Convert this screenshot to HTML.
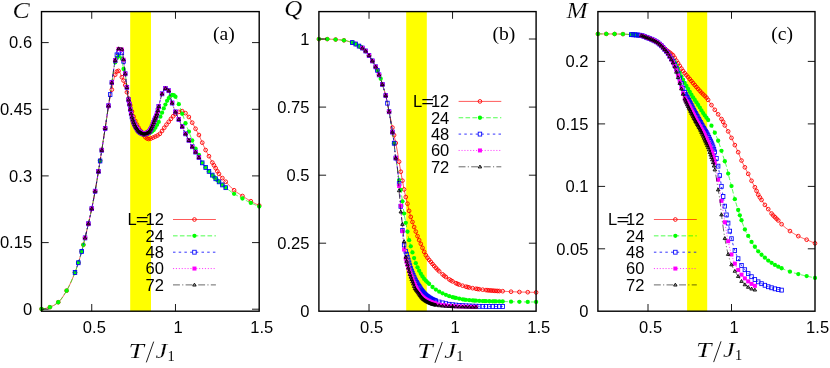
<!DOCTYPE html>
<html><head><meta charset="utf-8"><title>chart</title>
<style>
html,body{margin:0;padding:0;background:#fff;}
body{width:830px;height:368px;overflow:hidden;}
svg{display:block;}
text.s{font-family:"Liberation Sans",sans-serif;font-size:16.0px;fill:#000;}
text.i{font-family:"Liberation Serif",serif;font-style:italic;fill:#000;stroke:#fff;stroke-width:0.15px;}
text.r{font-family:"Liberation Serif",serif;fill:#000;}
</style></head><body>
<svg width="830" height="368" viewBox="0 0 830 368">
<rect x="0" y="0" width="830" height="368" fill="#ffffff"/>
<g id="panel-a">
<rect x="130.20" y="11.60" width="20.80" height="299.60" fill="#ffff00"/>
<path d="M41.50 309.00 L42.00 308.98 L42.50 308.94 L43.00 308.88 L43.50 308.82 L44.00 308.74 L44.50 308.64 L45.00 308.54 L45.50 308.43 L46.00 308.31 L46.50 308.18 L47.00 308.05 L47.50 307.90 L48.00 307.76 L48.50 307.61 L49.00 307.45 L49.50 307.29 L50.00 307.14 L50.50 306.96 L51.00 306.77 L51.50 306.56 L52.00 306.33 L52.50 306.09 L53.00 305.83 L53.50 305.56 L54.00 305.27 L54.50 304.96 L55.00 304.64 L55.50 304.31 L56.00 303.96 L56.50 303.60 L57.00 303.22 L57.50 302.83 L58.00 302.43 L58.50 302.02 L59.00 301.56 L59.50 301.06 L60.00 300.52 L60.50 299.94 L61.00 299.31 L61.50 298.66 L62.00 297.97 L62.50 297.25 L63.00 296.51 L63.50 295.74 L64.00 294.95 L64.50 294.15 L65.00 293.33 L65.50 292.51 L66.00 291.67 L66.50 290.83 L67.00 289.97 L67.50 289.07 L68.00 288.15 L68.50 287.19 L69.00 286.20 L69.50 285.19 L70.00 284.15 L70.50 283.09 L71.00 282.00 L71.50 280.88 L72.00 279.74 L72.50 278.59 L73.00 277.41 L73.50 276.21 L74.00 274.99 L74.50 273.75 L75.00 272.49 L75.50 271.17 L76.00 269.78 L76.50 268.34 L77.00 266.86 L77.50 265.34 L78.00 263.81 L78.50 262.25 L79.00 260.67 L79.50 259.05 L80.00 257.39 L80.50 255.69 L81.00 253.94 L81.50 252.13 L82.00 250.26 L82.50 248.30 L83.00 246.30 L83.50 244.25 L84.00 242.19 L84.50 240.12 L85.00 238.07 L85.50 236.00 L86.00 233.91 L86.50 231.81 L87.00 229.70 L87.50 227.56 L88.00 225.40 L88.50 223.23 L89.00 221.06 L89.50 218.88 L90.00 216.67 L90.50 214.43 L91.00 212.13 L91.50 209.78 L92.00 207.36 L92.50 204.89 L93.00 202.37 L93.50 199.79 L94.00 197.15 L94.50 194.46 L95.00 191.70 L95.50 188.88 L96.00 186.00 L96.50 183.06 L97.00 180.08 L97.50 177.04 L98.00 173.97 L98.50 170.86 L99.00 167.72 L99.50 164.54 L100.00 161.35 L100.50 158.14 L101.00 154.92 L101.50 151.68 L102.00 148.45 L102.50 145.21 L103.00 141.99 L103.50 138.77 L104.00 135.57 L104.50 132.38 L105.00 129.23 L105.50 126.05 L106.00 122.77 L106.50 119.41 L107.00 116.04 L107.50 112.67 L108.00 109.37 L108.50 106.15 L109.00 103.08 L109.50 100.18 L110.00 97.50 L110.50 95.11 L111.00 93.05 L111.50 91.06 L112.00 88.90 L112.50 86.30 L113.00 83.48 L113.50 80.88 L114.00 78.79 L114.50 76.89 L115.00 75.25 L115.50 74.00 L116.00 72.98 L116.50 72.03 L117.00 71.25 L117.50 70.74 L118.00 70.61 L118.50 70.83 L119.00 71.29 L119.50 71.88 L120.00 72.69 L120.50 73.93 L121.00 75.28 L121.50 76.43 L122.00 77.43 L122.50 78.40 L123.00 79.40 L123.50 80.50 L124.00 81.70 L124.50 82.99 L125.00 84.40 L125.50 86.00 L126.00 88.00 L126.50 90.34 L127.00 92.66 L127.50 94.66 L128.00 96.46 L128.50 98.25 L129.00 100.17 L129.50 102.21 L130.00 104.26 L130.50 106.25 L131.00 108.10 L131.50 109.91 L132.00 111.67 L132.50 113.34 L133.00 114.91 L133.50 116.36 L134.00 117.73 L134.50 119.03 L135.00 120.27 L135.50 121.45 L136.00 122.57 L136.50 123.63 L137.00 124.65 L137.50 125.63 L138.00 126.57 L138.50 127.47 L139.00 128.34 L139.50 129.17 L140.00 129.98 L140.50 130.75 L141.00 131.50 L141.50 132.21 L142.00 132.91 L142.50 133.58 L143.00 134.24 L143.50 134.89 L144.00 135.57 L144.50 136.23 L145.00 136.85 L145.50 137.39 L146.00 137.80 L146.50 138.14 L147.00 138.47 L147.50 138.74 L148.00 138.93 L148.50 139.00 L149.00 138.97 L149.50 138.89 L150.00 138.77 L150.50 138.64 L151.00 138.50 L151.50 138.34 L152.00 138.13 L152.50 137.89 L153.00 137.65 L153.50 137.40 L154.00 137.16 L154.50 136.93 L155.00 136.71 L155.50 136.50 L156.00 136.27 L156.50 136.04 L157.00 135.79 L157.50 135.53 L158.00 135.24 L158.50 134.92 L159.00 134.57 L159.50 134.16 L160.00 133.64 L160.50 133.04 L161.00 132.38 L161.50 131.70 L162.00 131.03 L162.50 130.36 L163.00 129.65 L163.50 128.92 L164.00 128.18 L164.50 127.43 L165.00 126.70 L165.50 126.00 L166.00 125.33 L166.50 124.67 L167.00 124.03 L167.50 123.39 L168.00 122.75 L168.50 122.11 L169.00 121.47 L169.50 120.81 L170.00 120.14 L170.50 119.46 L171.00 118.80 L171.50 118.16 L172.00 117.55 L172.50 116.97 L173.00 116.42 L173.50 115.87 L174.00 115.35 L174.50 114.85 L175.00 114.38 L175.50 113.96 L176.00 113.57 L176.50 113.19 L177.00 112.83 L177.50 112.51 L178.00 112.22 L178.50 111.98 L179.00 111.79 L179.50 111.61 L180.00 111.43 L180.50 111.29 L181.00 111.18 L181.50 111.11 L182.00 111.11 L182.50 111.19 L183.00 111.36 L183.50 111.57 L184.00 111.80 L184.50 112.13 L185.00 112.59 L185.50 113.15 L186.00 113.73 L186.50 114.30 L187.00 114.84 L187.50 115.38 L188.00 115.94 L188.50 116.53 L189.00 117.16 L189.50 117.84 L190.00 118.62 L190.50 119.48 L191.00 120.39 L191.50 121.32 L192.00 122.26 L192.50 123.16 L193.00 124.06 L193.50 124.96 L194.00 125.87 L194.50 126.79 L195.00 127.71 L195.50 128.63 L196.00 129.55 L196.50 130.47 L197.00 131.38 L197.50 132.29 L198.00 133.23 L198.50 134.18 L199.00 135.18 L199.50 136.21 L200.00 137.32 L200.50 138.49 L201.00 139.70 L201.50 140.90 L202.00 142.07 L202.50 143.21 L203.00 144.35 L203.50 145.48 L204.00 146.60 L204.50 147.70 L205.00 148.77 L205.50 149.80 L206.00 150.79 L206.50 151.74 L207.00 152.66 L207.50 153.56 L208.00 154.46 L208.50 155.36 L209.00 156.29 L209.50 157.23 L210.00 158.19 L210.50 159.15 L211.00 160.10 L211.50 161.04 L212.00 161.96 L212.50 162.85 L213.00 163.71 L213.50 164.54 L214.00 165.37 L214.50 166.19 L215.00 167.02 L215.50 167.87 L216.00 168.76 L216.50 169.68 L217.00 170.61 L217.50 171.52 L218.00 172.39 L218.50 173.20 L219.00 173.93 L219.50 174.62 L220.00 175.27 L220.50 175.89 L221.00 176.50 L221.50 177.09 L222.00 177.67 L222.50 178.25 L223.00 178.81 L223.50 179.36 L224.00 179.90 L224.50 180.43 L225.00 180.95 L225.50 181.48 L226.00 182.01 L226.50 182.54 L227.00 183.08 L227.50 183.62 L228.00 184.17 L228.50 184.71 L229.00 185.26 L229.50 185.80 L230.00 186.33 L230.50 186.86 L231.00 187.38 L231.50 187.88 L232.00 188.37 L232.50 188.85 L233.00 189.31 L233.50 189.75 L234.00 190.16 L234.50 190.57 L235.00 190.96 L235.50 191.34 L236.00 191.71 L236.50 192.07 L237.00 192.42 L237.50 192.76 L238.00 193.10 L238.50 193.43 L239.00 193.76 L239.50 194.09 L240.00 194.41 L240.50 194.73 L241.00 195.05 L241.50 195.38 L242.00 195.70 L242.50 196.03 L243.00 196.36 L243.50 196.69 L244.00 197.02 L244.50 197.34 L245.00 197.67 L245.50 197.99 L246.00 198.31 L246.50 198.63 L247.00 198.95 L247.50 199.26 L248.00 199.57 L248.50 199.87 L249.00 200.17 L249.50 200.47 L250.00 200.76 L250.50 201.04 L251.00 201.32 L251.50 201.60 L252.00 201.88 L252.50 202.15 L253.00 202.42 L253.50 202.69 L254.00 202.95 L254.50 203.21 L255.00 203.47 L255.50 203.72 L256.00 203.98 L256.50 204.22 L257.00 204.47 L257.50 204.71 L258.00 204.95 L258.50 205.18 L259.00 205.41 L259.20 205.50" fill="none" stroke="#ff0000" stroke-width="0.65"/>
<circle cx="41.50" cy="309.00" r="1.85" fill="none" stroke="#ff0000" stroke-width="0.9"/><circle cx="49.87" cy="307.18" r="1.85" fill="none" stroke="#ff0000" stroke-width="0.9"/><circle cx="58.25" cy="302.23" r="1.85" fill="none" stroke="#ff0000" stroke-width="0.9"/><circle cx="66.62" cy="290.63" r="1.85" fill="none" stroke="#ff0000" stroke-width="0.9"/><circle cx="74.99" cy="272.51" r="1.85" fill="none" stroke="#ff0000" stroke-width="0.9"/><circle cx="78.34" cy="262.75" r="1.85" fill="none" stroke="#ff0000" stroke-width="0.9"/><circle cx="81.69" cy="251.43" r="1.85" fill="none" stroke="#ff0000" stroke-width="0.9"/><circle cx="83.37" cy="244.80" r="1.85" fill="none" stroke="#ff0000" stroke-width="0.9"/><circle cx="85.04" cy="237.90" r="1.85" fill="none" stroke="#ff0000" stroke-width="0.9"/><circle cx="88.39" cy="223.71" r="1.85" fill="none" stroke="#ff0000" stroke-width="0.9"/><circle cx="91.74" cy="208.63" r="1.85" fill="none" stroke="#ff0000" stroke-width="0.9"/><circle cx="95.09" cy="191.21" r="1.85" fill="none" stroke="#ff0000" stroke-width="0.9"/><circle cx="98.44" cy="171.25" r="1.85" fill="none" stroke="#ff0000" stroke-width="0.9"/><circle cx="100.11" cy="160.64" r="1.85" fill="none" stroke="#ff0000" stroke-width="0.9"/><circle cx="101.79" cy="149.83" r="1.85" fill="none" stroke="#ff0000" stroke-width="0.9"/><circle cx="105.14" cy="128.38" r="1.85" fill="none" stroke="#ff0000" stroke-width="0.9"/><circle cx="108.48" cy="106.25" r="1.85" fill="none" stroke="#ff0000" stroke-width="0.9"/><circle cx="111.83" cy="89.65" r="1.85" fill="none" stroke="#ff0000" stroke-width="0.9"/><circle cx="115.18" cy="74.74" r="1.85" fill="none" stroke="#ff0000" stroke-width="0.9"/><circle cx="116.86" cy="71.45" r="1.85" fill="none" stroke="#ff0000" stroke-width="0.9"/><circle cx="118.53" cy="70.86" r="1.85" fill="none" stroke="#ff0000" stroke-width="0.9"/><circle cx="121.88" cy="77.20" r="1.85" fill="none" stroke="#ff0000" stroke-width="0.9"/><circle cx="123.56" cy="80.63" r="1.85" fill="none" stroke="#ff0000" stroke-width="0.9"/><circle cx="125.23" cy="85.11" r="1.85" fill="none" stroke="#ff0000" stroke-width="0.9"/><circle cx="126.91" cy="92.24" r="1.85" fill="none" stroke="#ff0000" stroke-width="0.9"/><circle cx="128.58" cy="98.55" r="1.85" fill="none" stroke="#ff0000" stroke-width="0.9"/><circle cx="130.25" cy="105.29" r="1.85" fill="none" stroke="#ff0000" stroke-width="0.9"/><circle cx="131.93" cy="111.43" r="1.85" fill="none" stroke="#ff0000" stroke-width="0.9"/><circle cx="133.60" cy="116.65" r="1.85" fill="none" stroke="#ff0000" stroke-width="0.9"/><circle cx="135.28" cy="120.93" r="1.85" fill="none" stroke="#ff0000" stroke-width="0.9"/><circle cx="136.95" cy="124.56" r="1.85" fill="none" stroke="#ff0000" stroke-width="0.9"/><circle cx="138.63" cy="127.70" r="1.85" fill="none" stroke="#ff0000" stroke-width="0.9"/><circle cx="140.30" cy="130.45" r="1.85" fill="none" stroke="#ff0000" stroke-width="0.9"/><circle cx="141.98" cy="132.88" r="1.85" fill="none" stroke="#ff0000" stroke-width="0.9"/><circle cx="143.65" cy="135.10" r="1.85" fill="none" stroke="#ff0000" stroke-width="0.9"/><circle cx="145.33" cy="137.21" r="1.85" fill="none" stroke="#ff0000" stroke-width="0.9"/><circle cx="147.00" cy="138.47" r="1.85" fill="none" stroke="#ff0000" stroke-width="0.9"/><circle cx="148.68" cy="139.00" r="1.85" fill="none" stroke="#ff0000" stroke-width="0.9"/><circle cx="150.90" cy="138.53" r="1.85" fill="none" stroke="#ff0000" stroke-width="0.9"/><circle cx="153.13" cy="137.58" r="1.85" fill="none" stroke="#ff0000" stroke-width="0.9"/><circle cx="155.36" cy="136.56" r="1.85" fill="none" stroke="#ff0000" stroke-width="0.9"/><circle cx="157.58" cy="135.48" r="1.85" fill="none" stroke="#ff0000" stroke-width="0.9"/><circle cx="159.81" cy="133.85" r="1.85" fill="none" stroke="#ff0000" stroke-width="0.9"/><circle cx="162.04" cy="130.98" r="1.85" fill="none" stroke="#ff0000" stroke-width="0.9"/><circle cx="164.27" cy="127.78" r="1.85" fill="none" stroke="#ff0000" stroke-width="0.9"/><circle cx="166.49" cy="124.68" r="1.85" fill="none" stroke="#ff0000" stroke-width="0.9"/><circle cx="168.72" cy="121.83" r="1.85" fill="none" stroke="#ff0000" stroke-width="0.9"/><circle cx="170.95" cy="118.87" r="1.85" fill="none" stroke="#ff0000" stroke-width="0.9"/><circle cx="173.18" cy="116.22" r="1.85" fill="none" stroke="#ff0000" stroke-width="0.9"/><circle cx="175.40" cy="114.04" r="1.85" fill="none" stroke="#ff0000" stroke-width="0.9"/><circle cx="178.82" cy="111.86" r="1.85" fill="none" stroke="#ff0000" stroke-width="0.9"/><circle cx="182.17" cy="111.13" r="1.85" fill="none" stroke="#ff0000" stroke-width="0.9"/><circle cx="185.52" cy="113.17" r="1.85" fill="none" stroke="#ff0000" stroke-width="0.9"/><circle cx="188.87" cy="116.98" r="1.85" fill="none" stroke="#ff0000" stroke-width="0.9"/><circle cx="192.22" cy="122.65" r="1.85" fill="none" stroke="#ff0000" stroke-width="0.9"/><circle cx="195.56" cy="128.75" r="1.85" fill="none" stroke="#ff0000" stroke-width="0.9"/><circle cx="198.91" cy="135.00" r="1.85" fill="none" stroke="#ff0000" stroke-width="0.9"/><circle cx="202.26" cy="142.67" r="1.85" fill="none" stroke="#ff0000" stroke-width="0.9"/><circle cx="205.61" cy="150.02" r="1.85" fill="none" stroke="#ff0000" stroke-width="0.9"/><circle cx="208.96" cy="156.21" r="1.85" fill="none" stroke="#ff0000" stroke-width="0.9"/><circle cx="212.31" cy="162.52" r="1.85" fill="none" stroke="#ff0000" stroke-width="0.9"/><circle cx="213.99" cy="165.34" r="1.85" fill="none" stroke="#ff0000" stroke-width="0.9"/><circle cx="215.66" cy="168.15" r="1.85" fill="none" stroke="#ff0000" stroke-width="0.9"/><circle cx="217.33" cy="171.22" r="1.85" fill="none" stroke="#ff0000" stroke-width="0.9"/><circle cx="219.01" cy="173.95" r="1.85" fill="none" stroke="#ff0000" stroke-width="0.9"/><circle cx="222.36" cy="178.08" r="1.85" fill="none" stroke="#ff0000" stroke-width="0.9"/><circle cx="225.71" cy="181.70" r="1.85" fill="none" stroke="#ff0000" stroke-width="0.9"/><circle cx="234.08" cy="190.23" r="1.85" fill="none" stroke="#ff0000" stroke-width="0.9"/><circle cx="242.45" cy="196.00" r="1.85" fill="none" stroke="#ff0000" stroke-width="0.9"/><circle cx="250.83" cy="201.23" r="1.85" fill="none" stroke="#ff0000" stroke-width="0.9"/><circle cx="259.20" cy="205.50" r="1.85" fill="none" stroke="#ff0000" stroke-width="0.9"/>
<path d="M41.50 309.00 L42.00 308.98 L42.50 308.94 L43.00 308.88 L43.50 308.82 L44.00 308.74 L44.50 308.64 L45.00 308.54 L45.50 308.43 L46.00 308.31 L46.50 308.18 L47.00 308.05 L47.50 307.90 L48.00 307.76 L48.50 307.61 L49.00 307.45 L49.50 307.29 L50.00 307.14 L50.50 306.96 L51.00 306.77 L51.50 306.56 L52.00 306.33 L52.50 306.09 L53.00 305.83 L53.50 305.56 L54.00 305.27 L54.50 304.96 L55.00 304.64 L55.50 304.31 L56.00 303.96 L56.50 303.60 L57.00 303.22 L57.50 302.83 L58.00 302.43 L58.50 302.02 L59.00 301.56 L59.50 301.06 L60.00 300.52 L60.50 299.94 L61.00 299.31 L61.50 298.66 L62.00 297.97 L62.50 297.25 L63.00 296.51 L63.50 295.74 L64.00 294.95 L64.50 294.15 L65.00 293.33 L65.50 292.51 L66.00 291.67 L66.50 290.83 L67.00 289.97 L67.50 289.07 L68.00 288.15 L68.50 287.19 L69.00 286.20 L69.50 285.19 L70.00 284.15 L70.50 283.09 L71.00 282.00 L71.50 280.88 L72.00 279.74 L72.50 278.59 L73.00 277.41 L73.50 276.21 L74.00 274.99 L74.50 273.75 L75.00 272.49 L75.50 271.17 L76.00 269.78 L76.50 268.34 L77.00 266.86 L77.50 265.34 L78.00 263.81 L78.50 262.25 L79.00 260.67 L79.50 259.05 L80.00 257.39 L80.50 255.69 L81.00 253.94 L81.50 252.13 L82.00 250.26 L82.50 248.30 L83.00 246.30 L83.50 244.25 L84.00 242.19 L84.50 240.12 L85.00 238.07 L85.50 236.00 L86.00 233.91 L86.50 231.81 L87.00 229.70 L87.50 227.56 L88.00 225.40 L88.50 223.23 L89.00 221.06 L89.50 218.88 L90.00 216.67 L90.50 214.43 L91.00 212.13 L91.50 209.78 L92.00 207.36 L92.50 204.89 L93.00 202.37 L93.50 199.79 L94.00 197.15 L94.50 194.46 L95.00 191.70 L95.50 188.89 L96.00 186.02 L96.50 183.11 L97.00 180.16 L97.50 177.17 L98.00 174.13 L98.50 171.07 L99.00 167.97 L99.50 164.84 L100.00 161.68 L100.50 158.50 L101.00 155.30 L101.50 152.08 L102.00 148.84 L102.50 145.59 L103.00 142.33 L103.50 139.07 L104.00 135.80 L104.50 132.52 L105.00 129.25 L105.50 125.96 L106.00 122.61 L106.50 119.23 L107.00 115.81 L107.50 112.40 L108.00 109.00 L108.50 105.63 L109.00 102.32 L109.50 99.03 L110.00 95.67 L110.50 92.17 L111.00 88.50 L111.50 84.88 L112.00 81.44 L112.50 77.92 L113.00 74.40 L113.50 71.02 L114.00 67.92 L114.50 65.25 L115.00 63.12 L115.50 61.34 L116.00 59.83 L116.50 58.68 L117.00 57.83 L117.50 57.10 L118.00 56.54 L118.50 56.20 L119.00 56.01 L119.50 55.87 L120.00 55.80 L120.50 55.99 L121.00 56.69 L121.50 57.75 L122.00 59.25 L122.50 62.54 L123.00 66.31 L123.50 68.79 L124.00 70.30 L124.50 71.56 L125.00 73.07 L125.50 75.42 L126.00 79.41 L126.50 84.01 L127.00 88.17 L127.50 92.37 L128.00 96.28 L128.50 99.46 L129.00 101.97 L129.50 104.50 L130.00 107.57 L130.50 110.71 L131.00 113.21 L131.50 115.35 L132.00 117.27 L132.50 118.99 L133.00 120.53 L133.50 121.92 L134.00 123.20 L134.50 124.38 L135.00 125.47 L135.50 126.46 L136.00 127.34 L136.50 128.14 L137.00 128.91 L137.50 129.63 L138.00 130.30 L138.50 130.90 L139.00 131.41 L139.50 131.83 L140.00 132.17 L140.50 132.50 L141.00 132.82 L141.50 133.11 L142.00 133.37 L142.50 133.59 L143.00 133.76 L143.50 133.86 L144.00 133.90 L144.50 133.90 L145.00 133.90 L145.50 133.90 L146.00 133.90 L146.50 133.86 L147.00 133.77 L147.50 133.64 L148.00 133.50 L148.50 133.35 L149.00 133.18 L149.50 132.98 L150.00 132.75 L150.50 132.50 L151.00 132.22 L151.50 131.90 L152.00 131.54 L152.50 131.13 L153.00 130.69 L153.50 130.20 L154.00 129.62 L154.50 128.95 L155.00 128.22 L155.50 127.43 L156.00 126.61 L156.50 125.77 L157.00 124.93 L157.50 124.11 L158.00 123.28 L158.50 122.36 L159.00 121.25 L159.50 119.72 L160.00 118.02 L160.50 116.35 L161.00 114.76 L161.50 113.66 L162.00 112.78 L162.50 111.80 L163.00 110.43 L163.50 109.00 L164.00 107.76 L164.50 106.60 L165.00 105.47 L165.50 104.35 L166.00 103.21 L166.50 102.09 L167.00 101.04 L167.50 100.10 L168.00 99.25 L168.50 98.45 L169.00 97.71 L169.50 97.06 L170.00 96.50 L170.50 95.98 L171.00 95.47 L171.50 95.06 L172.00 94.82 L172.50 94.82 L173.00 94.91 L173.50 95.06 L174.00 95.24 L174.50 95.59 L175.00 96.12 L175.50 96.78 L176.00 97.50 L176.50 98.39 L177.00 99.50 L177.50 100.74 L178.00 102.00 L178.50 103.29 L179.00 104.65 L179.50 106.06 L180.00 107.50 L180.50 109.00 L181.00 110.54 L181.50 112.02 L182.00 113.36 L182.50 114.60 L183.00 115.82 L183.50 117.08 L184.00 118.48 L184.50 120.06 L185.00 121.68 L185.50 123.20 L186.00 124.57 L186.50 125.87 L187.00 127.12 L187.50 128.34 L188.00 129.55 L188.50 130.79 L189.00 132.06 L189.50 133.37 L190.00 134.69 L190.50 136.02 L191.00 137.35 L191.50 138.66 L192.00 139.95 L192.50 141.21 L193.00 142.49 L193.50 143.75 L194.00 145.00 L194.50 146.21 L195.00 147.38 L195.50 148.49 L196.00 149.52 L196.50 150.46 L197.00 151.36 L197.50 152.23 L198.00 153.10 L198.50 154.00 L199.00 154.97 L199.50 156.02 L200.00 157.26 L200.50 158.62 L201.00 160.01 L201.50 161.31 L202.00 162.41 L202.50 163.29 L203.00 164.07 L203.50 164.78 L204.00 165.43 L204.50 166.06 L205.00 166.68 L205.50 167.30 L206.00 167.92 L206.50 168.53 L207.00 169.12 L207.50 169.70 L208.00 170.27 L208.50 170.84 L209.00 171.41 L209.50 171.98 L210.00 172.55 L210.50 173.11 L211.00 173.66 L211.50 174.22 L212.00 174.77 L212.50 175.32 L213.00 175.88 L213.50 176.44 L214.00 177.00 L214.50 177.55 L215.00 178.08 L215.50 178.60 L216.00 179.09 L216.50 179.57 L217.00 180.02 L217.50 180.47 L218.00 180.91 L218.50 181.36 L219.00 181.81 L219.50 182.27 L220.00 182.74 L220.50 183.21 L221.00 183.69 L221.50 184.15 L222.00 184.61 L222.50 185.05 L223.00 185.48 L223.50 185.89 L224.00 186.30 L224.50 186.70 L225.00 187.10 L225.50 187.49 L226.00 187.88 L226.50 188.27 L227.00 188.65 L227.50 189.04 L228.00 189.43 L228.50 189.81 L229.00 190.19 L229.50 190.57 L230.00 190.95 L230.50 191.32 L231.00 191.68 L231.50 192.04 L232.00 192.39 L232.50 192.74 L233.00 193.08 L233.50 193.41 L234.00 193.73 L234.50 194.04 L235.00 194.35 L235.50 194.65 L236.00 194.94 L236.50 195.23 L237.00 195.51 L237.50 195.79 L238.00 196.07 L238.50 196.35 L239.00 196.62 L239.50 196.89 L240.00 197.16 L240.50 197.43 L241.00 197.70 L241.50 197.97 L242.00 198.24 L242.50 198.51 L243.00 198.78 L243.50 199.06 L244.00 199.33 L244.50 199.61 L245.00 199.88 L245.50 200.16 L246.00 200.43 L246.50 200.70 L247.00 200.97 L247.50 201.24 L248.00 201.50 L248.50 201.76 L249.00 202.01 L249.50 202.26 L250.00 202.51 L250.50 202.75 L251.00 202.99 L251.50 203.22 L252.00 203.46 L252.50 203.69 L253.00 203.91 L253.50 204.14 L254.00 204.36 L254.50 204.58 L255.00 204.80 L255.50 205.01 L256.00 205.22 L256.50 205.43 L257.00 205.63 L257.50 205.84 L258.00 206.04 L258.50 206.23 L259.00 206.42 L259.20 206.50" fill="none" stroke="#00ff00" stroke-width="0.70" stroke-dasharray="4.6 2.3"/>
<circle cx="41.50" cy="309.00" r="2.15" fill="#00ff00"/><circle cx="49.87" cy="307.18" r="2.15" fill="#00ff00"/><circle cx="58.25" cy="302.23" r="2.15" fill="#00ff00"/><circle cx="66.62" cy="290.63" r="2.15" fill="#00ff00"/><circle cx="74.99" cy="272.51" r="2.15" fill="#00ff00"/><circle cx="78.34" cy="262.75" r="2.15" fill="#00ff00"/><circle cx="81.69" cy="251.43" r="2.15" fill="#00ff00"/><circle cx="83.37" cy="244.80" r="2.15" fill="#00ff00"/><circle cx="85.04" cy="237.90" r="2.15" fill="#00ff00"/><circle cx="88.39" cy="223.71" r="2.15" fill="#00ff00"/><circle cx="91.74" cy="208.63" r="2.15" fill="#00ff00"/><circle cx="95.09" cy="191.21" r="2.15" fill="#00ff00"/><circle cx="98.44" cy="171.46" r="2.15" fill="#00ff00"/><circle cx="100.11" cy="160.97" r="2.15" fill="#00ff00"/><circle cx="101.79" cy="150.23" r="2.15" fill="#00ff00"/><circle cx="105.14" cy="128.37" r="2.15" fill="#00ff00"/><circle cx="108.48" cy="105.73" r="2.15" fill="#00ff00"/><circle cx="111.83" cy="82.59" r="2.15" fill="#00ff00"/><circle cx="115.18" cy="62.44" r="2.15" fill="#00ff00"/><circle cx="116.86" cy="58.06" r="2.15" fill="#00ff00"/><circle cx="118.53" cy="56.19" r="2.15" fill="#00ff00"/><circle cx="121.88" cy="58.75" r="2.15" fill="#00ff00"/><circle cx="123.56" cy="68.98" r="2.15" fill="#00ff00"/><circle cx="125.23" cy="73.99" r="2.15" fill="#00ff00"/><circle cx="126.91" cy="87.38" r="2.15" fill="#00ff00"/><circle cx="128.58" cy="99.89" r="2.15" fill="#00ff00"/><circle cx="130.25" cy="109.21" r="2.15" fill="#00ff00"/><circle cx="131.93" cy="117.01" r="2.15" fill="#00ff00"/><circle cx="133.60" cy="122.19" r="2.15" fill="#00ff00"/><circle cx="135.28" cy="126.03" r="2.15" fill="#00ff00"/><circle cx="136.95" cy="128.84" r="2.15" fill="#00ff00"/><circle cx="138.63" cy="131.04" r="2.15" fill="#00ff00"/><circle cx="140.30" cy="132.37" r="2.15" fill="#00ff00"/><circle cx="141.98" cy="133.36" r="2.15" fill="#00ff00"/><circle cx="143.65" cy="133.88" r="2.15" fill="#00ff00"/><circle cx="145.33" cy="133.90" r="2.15" fill="#00ff00"/><circle cx="147.00" cy="133.77" r="2.15" fill="#00ff00"/><circle cx="148.68" cy="133.29" r="2.15" fill="#00ff00"/><circle cx="150.35" cy="132.58" r="2.15" fill="#00ff00"/><circle cx="152.02" cy="131.52" r="2.15" fill="#00ff00"/><circle cx="153.70" cy="129.98" r="2.15" fill="#00ff00"/><circle cx="155.37" cy="127.64" r="2.15" fill="#00ff00"/><circle cx="157.05" cy="124.85" r="2.15" fill="#00ff00"/><circle cx="158.72" cy="121.90" r="2.15" fill="#00ff00"/><circle cx="160.40" cy="116.70" r="2.15" fill="#00ff00"/><circle cx="162.07" cy="112.66" r="2.15" fill="#00ff00"/><circle cx="163.75" cy="108.38" r="2.15" fill="#00ff00"/><circle cx="165.42" cy="104.53" r="2.15" fill="#00ff00"/><circle cx="167.10" cy="100.85" r="2.15" fill="#00ff00"/><circle cx="168.77" cy="98.04" r="2.15" fill="#00ff00"/><circle cx="170.45" cy="96.04" r="2.15" fill="#00ff00"/><circle cx="172.12" cy="94.80" r="2.15" fill="#00ff00"/><circle cx="173.79" cy="95.16" r="2.15" fill="#00ff00"/><circle cx="175.47" cy="96.73" r="2.15" fill="#00ff00"/><circle cx="178.82" cy="104.15" r="2.15" fill="#00ff00"/><circle cx="182.17" cy="113.78" r="2.15" fill="#00ff00"/><circle cx="185.52" cy="123.25" r="2.15" fill="#00ff00"/><circle cx="188.87" cy="131.71" r="2.15" fill="#00ff00"/><circle cx="192.22" cy="140.49" r="2.15" fill="#00ff00"/><circle cx="195.56" cy="148.62" r="2.15" fill="#00ff00"/><circle cx="198.91" cy="154.80" r="2.15" fill="#00ff00"/><circle cx="202.26" cy="162.89" r="2.15" fill="#00ff00"/><circle cx="205.61" cy="167.44" r="2.15" fill="#00ff00"/><circle cx="208.96" cy="171.37" r="2.15" fill="#00ff00"/><circle cx="212.31" cy="175.11" r="2.15" fill="#00ff00"/><circle cx="213.99" cy="176.98" r="2.15" fill="#00ff00"/><circle cx="215.66" cy="178.76" r="2.15" fill="#00ff00"/><circle cx="217.33" cy="180.32" r="2.15" fill="#00ff00"/><circle cx="219.01" cy="181.82" r="2.15" fill="#00ff00"/><circle cx="222.36" cy="184.93" r="2.15" fill="#00ff00"/><circle cx="225.71" cy="187.65" r="2.15" fill="#00ff00"/><circle cx="234.08" cy="193.78" r="2.15" fill="#00ff00"/><circle cx="242.45" cy="198.48" r="2.15" fill="#00ff00"/><circle cx="250.83" cy="202.91" r="2.15" fill="#00ff00"/><circle cx="259.20" cy="206.50" r="2.15" fill="#00ff00"/>
<path d="M74.99 272.51 L75.49 271.19 L75.99 269.80 L76.49 268.37 L76.99 266.88 L77.49 265.37 L77.99 263.83 L78.49 262.28 L78.99 260.69 L79.49 259.08 L79.99 257.42 L80.49 255.71 L80.99 253.96 L81.49 252.16 L81.99 250.28 L82.49 248.33 L82.99 246.33 L83.49 244.28 L83.99 242.22 L84.49 240.15 L84.99 238.10 L85.49 236.03 L85.99 233.95 L86.49 231.85 L86.99 229.73 L87.49 227.59 L87.99 225.43 L88.49 223.27 L88.99 221.10 L89.49 218.91 L89.99 216.71 L90.49 214.46 L90.99 212.17 L91.49 209.82 L91.99 207.40 L92.49 204.93 L92.99 202.41 L93.49 199.83 L93.99 197.19 L94.49 194.50 L94.99 191.74 L95.49 188.93 L95.99 186.07 L96.49 183.16 L96.99 180.21 L97.49 177.21 L97.99 174.18 L98.49 171.11 L98.99 168.01 L99.49 164.89 L99.99 161.73 L100.49 158.55 L100.99 155.35 L101.49 152.13 L101.99 148.89 L102.49 145.64 L102.99 142.38 L103.49 139.12 L103.99 135.85 L104.49 132.57 L104.99 129.30 L105.49 126.01 L105.99 122.67 L106.49 119.28 L106.99 115.87 L107.49 112.45 L107.99 109.05 L108.49 105.68 L108.99 102.38 L109.49 99.08 L109.99 95.73 L110.49 92.24 L110.99 88.60 L111.49 84.97 L111.99 81.42 L112.49 77.74 L112.99 74.03 L113.49 70.41 L113.99 67.03 L114.49 64.00 L114.99 61.47 L115.49 59.27 L115.99 57.34 L116.49 55.78 L116.99 54.54 L117.49 53.46 L117.99 52.63 L118.49 52.14 L118.99 51.77 L119.49 51.48 L119.99 51.32 L120.49 51.36 L120.99 51.68 L121.49 52.25 L121.99 52.99 L122.49 54.65 L122.99 57.53 L123.49 60.82 L123.99 64.13 L124.49 67.89 L124.99 71.86 L125.49 75.82 L125.99 79.91 L126.49 84.02 L126.99 88.10 L127.49 92.30 L127.99 96.22 L128.49 99.42 L128.99 101.94 L129.49 104.46 L129.99 107.52 L130.49 110.67 L130.99 113.18 L131.49 115.31 L131.99 117.24 L132.49 118.96 L132.99 120.51 L133.49 121.90 L133.99 123.18 L134.49 124.37 L134.99 125.45 L135.49 126.44 L135.99 127.32 L136.49 128.13 L136.99 128.90 L137.49 129.62 L137.99 130.29 L138.49 130.89 L138.99 131.41 L139.49 131.82 L139.99 132.17 L140.49 132.50 L140.99 132.82 L141.49 133.11 L141.99 133.37 L142.49 133.59 L142.99 133.75 L143.49 133.86 L143.99 133.90 L144.49 133.88 L144.99 133.81 L145.49 133.69 L145.99 133.54 L146.49 133.35 L146.99 133.14 L147.49 132.90 L147.99 132.63 L148.49 132.34 L148.99 131.90 L149.49 131.26 L149.99 130.47 L150.49 129.57 L150.99 128.60 L151.49 127.61 L151.99 126.61 L152.49 125.48 L152.99 124.24 L153.49 122.91 L153.99 121.56 L154.49 120.23 L154.99 118.98 L155.49 117.81 L155.99 116.65 L156.49 115.40 L156.99 113.97 L157.49 112.19 L157.99 109.87 L158.49 107.48 L158.99 105.32 L159.49 103.22 L159.99 101.19 L160.49 99.26 L160.99 97.34 L161.49 95.53 L161.99 94.02 L162.49 92.79 L162.99 91.70 L163.49 90.78 L163.99 90.02 L164.49 89.33 L164.99 88.75 L165.49 88.35 L165.99 88.14 L166.49 87.98 L166.99 87.90 L167.49 88.13 L167.99 88.92 L168.49 90.02 L168.99 91.31 L169.49 93.18 L169.99 95.29 L170.49 97.22 L170.99 99.10 L171.49 100.93 L171.99 102.59 L172.49 104.11 L172.99 105.54 L173.49 106.91 L173.99 108.23 L174.49 109.50 L174.99 110.74 L175.49 111.97 L175.99 113.14 L176.49 114.28 L176.99 115.39 L177.49 116.47 L177.99 117.56 L178.49 118.64 L178.99 119.74 L179.49 120.84 L179.99 121.93 L180.49 123.02 L180.99 124.10 L181.49 125.19 L181.99 126.27 L182.49 127.35 L182.99 128.44 L183.49 129.53 L183.99 130.62 L184.49 131.69 L184.99 132.75 L185.49 133.78 L185.99 134.79 L186.49 135.78 L186.99 136.75 L187.49 137.71 L187.99 138.66 L188.49 139.62 L188.99 140.58 L189.49 141.55 L189.99 142.54 L190.49 143.52 L190.99 144.48 L191.49 145.43 L191.99 146.34 L192.49 147.20 L192.99 148.02 L193.49 148.82 L193.99 149.60 L194.49 150.37 L194.99 151.14 L195.49 151.93 L195.99 152.73 L196.49 153.54 L196.99 154.35 L197.49 155.16 L197.99 155.97 L198.49 156.78 L198.99 157.59 L199.49 158.40 L199.99 159.23 L200.49 160.05 L200.99 160.87 L201.49 161.67 L201.99 162.44 L202.49 163.18 L202.99 163.91 L203.49 164.61 L203.99 165.31 L204.49 165.99 L204.99 166.65 L205.49 167.29 L205.99 167.92 L206.49 168.52 L206.99 169.11 L207.49 169.69 L207.99 170.26 L208.49 170.83 L208.99 171.41 L209.49 171.97 L209.99 172.54 L210.49 173.10 L210.99 173.65 L211.49 174.21 L211.99 174.76 L212.49 175.31 L212.99 175.87 L213.49 176.43 L213.99 176.99 L214.49 177.54 L214.99 178.07 L215.49 178.59 L215.99 179.09 L216.49 179.56 L216.99 180.02 L217.49 180.46 L217.99 180.91 L218.49 181.35 L218.99 181.80 L219.49 182.26 L219.99 182.73 L220.49 183.21 L220.99 183.68 L221.49 184.15 L221.99 184.60 L222.49 185.04 L222.99 185.47 L223.49 185.89 L223.99 186.30 L224.49 186.71 L224.99 187.10 L225.49 187.49 L225.71 187.66" fill="none" stroke="#0000ff" stroke-width="0.80" stroke-dasharray="2.5 3.2"/>
<rect x="73.24" y="270.56" width="3.50" height="3.90" fill="none" stroke="#0000ff" stroke-width="0.85"/><rect x="76.59" y="260.80" width="3.50" height="3.90" fill="none" stroke="#0000ff" stroke-width="0.85"/><rect x="79.94" y="249.48" width="3.50" height="3.90" fill="none" stroke="#0000ff" stroke-width="0.85"/><rect x="83.29" y="235.95" width="3.50" height="3.90" fill="none" stroke="#0000ff" stroke-width="0.85"/><rect x="86.64" y="221.76" width="3.50" height="3.90" fill="none" stroke="#0000ff" stroke-width="0.85"/><rect x="89.99" y="206.68" width="3.50" height="3.90" fill="none" stroke="#0000ff" stroke-width="0.85"/><rect x="93.34" y="189.26" width="3.50" height="3.90" fill="none" stroke="#0000ff" stroke-width="0.85"/><rect x="96.69" y="169.51" width="3.50" height="3.90" fill="none" stroke="#0000ff" stroke-width="0.85"/><rect x="98.36" y="159.02" width="3.50" height="3.90" fill="none" stroke="#0000ff" stroke-width="0.85"/><rect x="100.04" y="148.28" width="3.50" height="3.90" fill="none" stroke="#0000ff" stroke-width="0.85"/><rect x="103.39" y="126.42" width="3.50" height="3.90" fill="none" stroke="#0000ff" stroke-width="0.85"/><rect x="106.73" y="103.78" width="3.50" height="3.90" fill="none" stroke="#0000ff" stroke-width="0.85"/><rect x="108.41" y="92.63" width="3.50" height="3.90" fill="none" stroke="#0000ff" stroke-width="0.85"/><rect x="110.08" y="80.61" width="3.50" height="3.90" fill="none" stroke="#0000ff" stroke-width="0.85"/><rect x="113.43" y="58.65" width="3.50" height="3.90" fill="none" stroke="#0000ff" stroke-width="0.85"/><rect x="115.11" y="52.91" width="3.50" height="3.90" fill="none" stroke="#0000ff" stroke-width="0.85"/><rect x="116.78" y="50.16" width="3.50" height="3.90" fill="none" stroke="#0000ff" stroke-width="0.85"/><rect x="120.13" y="50.86" width="3.50" height="3.90" fill="none" stroke="#0000ff" stroke-width="0.85"/><rect x="121.81" y="59.28" width="3.50" height="3.90" fill="none" stroke="#0000ff" stroke-width="0.85"/><rect x="123.48" y="71.81" width="3.50" height="3.90" fill="none" stroke="#0000ff" stroke-width="0.85"/><rect x="125.16" y="85.43" width="3.50" height="3.90" fill="none" stroke="#0000ff" stroke-width="0.85"/><rect x="126.83" y="97.94" width="3.50" height="3.90" fill="none" stroke="#0000ff" stroke-width="0.85"/><rect x="127.67" y="102.10" width="3.50" height="3.90" fill="none" stroke="#0000ff" stroke-width="0.85"/><rect x="128.50" y="107.26" width="3.50" height="3.90" fill="none" stroke="#0000ff" stroke-width="0.85"/><rect x="129.34" y="111.67" width="3.50" height="3.90" fill="none" stroke="#0000ff" stroke-width="0.85"/><rect x="130.18" y="115.06" width="3.50" height="3.90" fill="none" stroke="#0000ff" stroke-width="0.85"/><rect x="131.02" y="117.88" width="3.50" height="3.90" fill="none" stroke="#0000ff" stroke-width="0.85"/><rect x="131.85" y="120.24" width="3.50" height="3.90" fill="none" stroke="#0000ff" stroke-width="0.85"/><rect x="132.69" y="122.30" width="3.50" height="3.90" fill="none" stroke="#0000ff" stroke-width="0.85"/><rect x="133.53" y="124.08" width="3.50" height="3.90" fill="none" stroke="#0000ff" stroke-width="0.85"/><rect x="134.37" y="125.58" width="3.50" height="3.90" fill="none" stroke="#0000ff" stroke-width="0.85"/><rect x="135.20" y="126.89" width="3.50" height="3.90" fill="none" stroke="#0000ff" stroke-width="0.85"/><rect x="136.04" y="128.08" width="3.50" height="3.90" fill="none" stroke="#0000ff" stroke-width="0.85"/><rect x="136.88" y="129.09" width="3.50" height="3.90" fill="none" stroke="#0000ff" stroke-width="0.85"/><rect x="137.71" y="129.85" width="3.50" height="3.90" fill="none" stroke="#0000ff" stroke-width="0.85"/><rect x="138.55" y="130.42" width="3.50" height="3.90" fill="none" stroke="#0000ff" stroke-width="0.85"/><rect x="139.39" y="130.96" width="3.50" height="3.90" fill="none" stroke="#0000ff" stroke-width="0.85"/><rect x="140.23" y="131.41" width="3.50" height="3.90" fill="none" stroke="#0000ff" stroke-width="0.85"/><rect x="141.06" y="131.75" width="3.50" height="3.90" fill="none" stroke="#0000ff" stroke-width="0.85"/><rect x="141.90" y="131.93" width="3.50" height="3.90" fill="none" stroke="#0000ff" stroke-width="0.85"/><rect x="142.74" y="131.93" width="3.50" height="3.90" fill="none" stroke="#0000ff" stroke-width="0.85"/><rect x="143.58" y="131.78" width="3.50" height="3.90" fill="none" stroke="#0000ff" stroke-width="0.85"/><rect x="144.41" y="131.53" width="3.50" height="3.90" fill="none" stroke="#0000ff" stroke-width="0.85"/><rect x="145.25" y="131.18" width="3.50" height="3.90" fill="none" stroke="#0000ff" stroke-width="0.85"/><rect x="146.09" y="130.76" width="3.50" height="3.90" fill="none" stroke="#0000ff" stroke-width="0.85"/><rect x="146.93" y="130.26" width="3.50" height="3.90" fill="none" stroke="#0000ff" stroke-width="0.85"/><rect x="147.76" y="129.28" width="3.50" height="3.90" fill="none" stroke="#0000ff" stroke-width="0.85"/><rect x="148.60" y="127.89" width="3.50" height="3.90" fill="none" stroke="#0000ff" stroke-width="0.85"/><rect x="149.44" y="126.27" width="3.50" height="3.90" fill="none" stroke="#0000ff" stroke-width="0.85"/><rect x="150.27" y="124.59" width="3.50" height="3.90" fill="none" stroke="#0000ff" stroke-width="0.85"/><rect x="151.11" y="122.62" width="3.50" height="3.90" fill="none" stroke="#0000ff" stroke-width="0.85"/><rect x="151.95" y="120.40" width="3.50" height="3.90" fill="none" stroke="#0000ff" stroke-width="0.85"/><rect x="152.79" y="118.17" width="3.50" height="3.90" fill="none" stroke="#0000ff" stroke-width="0.85"/><rect x="153.62" y="116.14" width="3.50" height="3.90" fill="none" stroke="#0000ff" stroke-width="0.85"/><rect x="154.46" y="114.17" width="3.50" height="3.90" fill="none" stroke="#0000ff" stroke-width="0.85"/><rect x="155.30" y="111.84" width="3.50" height="3.90" fill="none" stroke="#0000ff" stroke-width="0.85"/><rect x="156.14" y="108.44" width="3.50" height="3.90" fill="none" stroke="#0000ff" stroke-width="0.85"/><rect x="156.97" y="104.52" width="3.50" height="3.90" fill="none" stroke="#0000ff" stroke-width="0.85"/><rect x="160.32" y="91.86" width="3.50" height="3.90" fill="none" stroke="#0000ff" stroke-width="0.85"/><rect x="163.67" y="86.44" width="3.50" height="3.90" fill="none" stroke="#0000ff" stroke-width="0.85"/><rect x="167.02" y="88.72" width="3.50" height="3.90" fill="none" stroke="#0000ff" stroke-width="0.85"/><rect x="170.37" y="101.03" width="3.50" height="3.90" fill="none" stroke="#0000ff" stroke-width="0.85"/><rect x="173.72" y="109.96" width="3.50" height="3.90" fill="none" stroke="#0000ff" stroke-width="0.85"/><rect x="177.07" y="117.41" width="3.50" height="3.90" fill="none" stroke="#0000ff" stroke-width="0.85"/><rect x="180.42" y="124.70" width="3.50" height="3.90" fill="none" stroke="#0000ff" stroke-width="0.85"/><rect x="183.77" y="131.88" width="3.50" height="3.90" fill="none" stroke="#0000ff" stroke-width="0.85"/><rect x="187.12" y="138.38" width="3.50" height="3.90" fill="none" stroke="#0000ff" stroke-width="0.85"/><rect x="190.47" y="144.78" width="3.50" height="3.90" fill="none" stroke="#0000ff" stroke-width="0.85"/><rect x="193.81" y="150.09" width="3.50" height="3.90" fill="none" stroke="#0000ff" stroke-width="0.85"/><rect x="197.16" y="155.51" width="3.50" height="3.90" fill="none" stroke="#0000ff" stroke-width="0.85"/><rect x="200.51" y="160.89" width="3.50" height="3.90" fill="none" stroke="#0000ff" stroke-width="0.85"/><rect x="203.86" y="165.49" width="3.50" height="3.90" fill="none" stroke="#0000ff" stroke-width="0.85"/><rect x="207.21" y="169.42" width="3.50" height="3.90" fill="none" stroke="#0000ff" stroke-width="0.85"/><rect x="210.56" y="173.16" width="3.50" height="3.90" fill="none" stroke="#0000ff" stroke-width="0.85"/><rect x="213.91" y="176.81" width="3.50" height="3.90" fill="none" stroke="#0000ff" stroke-width="0.85"/><rect x="217.26" y="179.87" width="3.50" height="3.90" fill="none" stroke="#0000ff" stroke-width="0.85"/><rect x="220.61" y="182.98" width="3.50" height="3.90" fill="none" stroke="#0000ff" stroke-width="0.85"/><rect x="223.96" y="185.71" width="3.50" height="3.90" fill="none" stroke="#0000ff" stroke-width="0.85"/>
<path d="M85.04 237.90 L85.54 235.83 L86.04 233.75 L86.54 231.65 L87.04 229.53 L87.54 227.39 L88.04 225.23 L88.54 223.06 L89.04 220.89 L89.54 218.71 L90.04 216.49 L90.54 214.24 L91.04 211.95 L91.54 209.59 L92.04 207.17 L92.54 204.69 L93.04 202.17 L93.54 199.58 L94.04 196.94 L94.54 194.24 L95.04 191.48 L95.54 188.66 L96.04 185.79 L96.54 182.88 L97.04 179.92 L97.54 176.93 L98.04 173.89 L98.54 170.82 L99.04 167.72 L99.54 164.59 L100.04 161.43 L100.54 158.24 L101.04 155.04 L101.54 151.82 L102.04 148.58 L102.54 145.33 L103.04 142.07 L103.54 138.80 L104.04 135.53 L104.54 132.26 L105.04 128.99 L105.54 125.70 L106.04 122.34 L106.54 118.95 L107.04 115.54 L107.54 112.12 L108.04 108.73 L108.54 105.36 L109.04 102.06 L109.54 98.76 L110.04 95.40 L110.54 91.89 L111.04 88.25 L111.54 84.63 L112.04 81.10 L112.54 77.51 L113.04 73.93 L113.54 70.43 L114.04 67.08 L114.54 63.96 L115.04 61.13 L115.54 58.47 L116.04 56.05 L116.54 54.01 L117.04 52.29 L117.54 50.73 L118.04 49.57 L118.54 48.96 L119.04 48.51 L119.54 48.18 L120.04 48.01 L120.54 48.08 L121.04 48.44 L121.54 49.06 L122.04 49.88 L122.54 52.04 L123.04 55.64 L123.54 59.56 L124.04 63.43 L124.54 67.72 L125.04 72.10 L125.54 76.28 L126.04 80.37 L126.54 84.42 L127.04 88.50 L127.54 92.70 L128.04 96.57 L128.54 99.68 L129.04 102.17 L129.54 104.72 L130.04 107.83 L130.54 110.94 L131.04 113.39 L131.54 115.51 L132.04 117.41 L132.54 119.12 L133.04 120.65 L133.54 122.02 L134.04 123.30 L134.54 124.48 L135.04 125.55 L135.54 126.53 L136.04 127.40 L136.54 128.20 L137.04 128.97 L137.54 129.69 L138.04 130.35 L138.54 130.95 L139.04 131.45 L139.54 131.86 L140.04 132.20 L140.54 132.53 L141.04 132.85 L141.54 133.14 L142.04 133.39 L142.54 133.61 L143.04 133.77 L143.54 133.87 L144.04 133.90 L144.54 133.87 L145.04 133.80 L145.54 133.68 L146.04 133.52 L146.54 133.34 L147.04 133.12 L147.54 132.87 L148.04 132.60 L148.54 132.31 L149.04 131.85 L149.54 131.19 L150.04 130.39 L150.54 129.48 L151.04 128.51 L151.54 127.51 L152.04 126.51 L152.54 125.37 L153.04 124.11 L153.54 122.78 L154.04 121.43 L154.54 120.11 L155.04 118.87 L155.54 117.71 L156.04 116.54 L156.54 115.27 L157.04 113.82 L157.54 111.98 L158.04 109.64 L158.54 107.26 L159.04 105.12 L159.54 103.02 L160.04 101.01 L160.54 99.08 L161.04 97.16 L161.54 95.37 L162.04 93.90 L162.54 92.68 L163.04 91.60 L163.54 90.70 L164.04 89.95 L164.54 89.27 L165.04 88.70 L165.54 88.33 L166.04 88.12 L166.54 87.97 L167.04 87.90 L167.54 88.18 L168.04 89.02 L168.54 90.13 L169.04 91.47 L169.54 93.38 L170.04 95.48 L170.54 97.40 L171.04 99.28 L171.54 101.10 L172.04 102.74 L172.54 104.25 L173.04 105.68 L173.54 107.04 L174.04 108.35 L174.54 109.62 L175.04 110.86 L175.54 112.08 L176.04 113.25 L176.54 114.39 L177.04 115.49 L177.54 116.58 L178.04 117.66 L178.54 118.75 L179.04 119.85 L179.54 120.94 L180.04 122.04 L180.54 123.12 L181.04 124.21 L181.54 125.29 L182.04 126.37 L182.54 127.45 L183.04 128.55 L183.54 129.64 L184.04 130.72 L184.54 131.80 L185.04 132.85 L185.54 133.88 L186.04 134.89 L186.54 135.87 L187.04 136.84 L187.54 137.80 L188.04 138.75 L188.54 139.71 L189.04 140.67 L189.54 141.65 L190.04 142.63 L190.54 143.61 L191.04 144.57 L191.54 145.52 L192.04 146.42 L192.54 147.28 L193.04 148.10 L193.54 148.90 L194.04 149.67 L194.54 150.44 L195.04 151.22 L195.54 152.00 L196.04 152.81 L196.54 153.61 L197.04 154.42 L197.54 155.23 L198.04 156.04 L198.54 156.85 L198.91 157.46" fill="none" stroke="#ff00ff" stroke-width="0.75" stroke-dasharray="1.1 1.8"/>
<rect x="83.04" y="235.90" width="4.00" height="4.00" fill="#ff00ff"/><rect x="86.39" y="221.71" width="4.00" height="4.00" fill="#ff00ff"/><rect x="89.74" y="206.63" width="4.00" height="4.00" fill="#ff00ff"/><rect x="93.09" y="189.21" width="4.00" height="4.00" fill="#ff00ff"/><rect x="96.44" y="169.46" width="4.00" height="4.00" fill="#ff00ff"/><rect x="99.79" y="148.23" width="4.00" height="4.00" fill="#ff00ff"/><rect x="103.14" y="126.37" width="4.00" height="4.00" fill="#ff00ff"/><rect x="106.48" y="103.73" width="4.00" height="4.00" fill="#ff00ff"/><rect x="109.83" y="80.56" width="4.00" height="4.00" fill="#ff00ff"/><rect x="113.18" y="58.36" width="4.00" height="4.00" fill="#ff00ff"/><rect x="116.53" y="46.97" width="4.00" height="4.00" fill="#ff00ff"/><rect x="119.88" y="47.60" width="4.00" height="4.00" fill="#ff00ff"/><rect x="121.56" y="57.68" width="4.00" height="4.00" fill="#ff00ff"/><rect x="123.23" y="71.72" width="4.00" height="4.00" fill="#ff00ff"/><rect x="124.91" y="85.38" width="4.00" height="4.00" fill="#ff00ff"/><rect x="126.58" y="97.89" width="4.00" height="4.00" fill="#ff00ff"/><rect x="127.42" y="102.05" width="4.00" height="4.00" fill="#ff00ff"/><rect x="128.25" y="107.21" width="4.00" height="4.00" fill="#ff00ff"/><rect x="129.09" y="111.62" width="4.00" height="4.00" fill="#ff00ff"/><rect x="129.93" y="115.01" width="4.00" height="4.00" fill="#ff00ff"/><rect x="130.77" y="117.83" width="4.00" height="4.00" fill="#ff00ff"/><rect x="131.60" y="120.19" width="4.00" height="4.00" fill="#ff00ff"/><rect x="132.44" y="122.25" width="4.00" height="4.00" fill="#ff00ff"/><rect x="133.28" y="124.03" width="4.00" height="4.00" fill="#ff00ff"/><rect x="134.12" y="125.53" width="4.00" height="4.00" fill="#ff00ff"/><rect x="134.95" y="126.84" width="4.00" height="4.00" fill="#ff00ff"/><rect x="135.79" y="128.03" width="4.00" height="4.00" fill="#ff00ff"/><rect x="136.63" y="129.04" width="4.00" height="4.00" fill="#ff00ff"/><rect x="137.46" y="129.80" width="4.00" height="4.00" fill="#ff00ff"/><rect x="138.30" y="130.37" width="4.00" height="4.00" fill="#ff00ff"/><rect x="139.14" y="130.91" width="4.00" height="4.00" fill="#ff00ff"/><rect x="139.98" y="131.36" width="4.00" height="4.00" fill="#ff00ff"/><rect x="140.81" y="131.70" width="4.00" height="4.00" fill="#ff00ff"/><rect x="141.65" y="131.88" width="4.00" height="4.00" fill="#ff00ff"/><rect x="142.49" y="131.88" width="4.00" height="4.00" fill="#ff00ff"/><rect x="143.33" y="131.73" width="4.00" height="4.00" fill="#ff00ff"/><rect x="144.16" y="131.48" width="4.00" height="4.00" fill="#ff00ff"/><rect x="145.00" y="131.13" width="4.00" height="4.00" fill="#ff00ff"/><rect x="145.84" y="130.71" width="4.00" height="4.00" fill="#ff00ff"/><rect x="146.68" y="130.21" width="4.00" height="4.00" fill="#ff00ff"/><rect x="147.51" y="129.23" width="4.00" height="4.00" fill="#ff00ff"/><rect x="148.35" y="127.84" width="4.00" height="4.00" fill="#ff00ff"/><rect x="149.19" y="126.22" width="4.00" height="4.00" fill="#ff00ff"/><rect x="150.02" y="124.54" width="4.00" height="4.00" fill="#ff00ff"/><rect x="150.86" y="122.57" width="4.00" height="4.00" fill="#ff00ff"/><rect x="151.70" y="120.35" width="4.00" height="4.00" fill="#ff00ff"/><rect x="152.54" y="118.12" width="4.00" height="4.00" fill="#ff00ff"/><rect x="153.37" y="116.09" width="4.00" height="4.00" fill="#ff00ff"/><rect x="154.21" y="114.12" width="4.00" height="4.00" fill="#ff00ff"/><rect x="155.05" y="111.79" width="4.00" height="4.00" fill="#ff00ff"/><rect x="155.89" y="108.39" width="4.00" height="4.00" fill="#ff00ff"/><rect x="156.72" y="104.47" width="4.00" height="4.00" fill="#ff00ff"/><rect x="160.07" y="91.81" width="4.00" height="4.00" fill="#ff00ff"/><rect x="163.42" y="86.39" width="4.00" height="4.00" fill="#ff00ff"/><rect x="166.77" y="88.67" width="4.00" height="4.00" fill="#ff00ff"/><rect x="170.12" y="100.98" width="4.00" height="4.00" fill="#ff00ff"/><rect x="173.47" y="109.91" width="4.00" height="4.00" fill="#ff00ff"/><rect x="176.82" y="117.36" width="4.00" height="4.00" fill="#ff00ff"/><rect x="180.17" y="124.65" width="4.00" height="4.00" fill="#ff00ff"/><rect x="183.52" y="131.83" width="4.00" height="4.00" fill="#ff00ff"/><rect x="186.87" y="138.33" width="4.00" height="4.00" fill="#ff00ff"/><rect x="190.22" y="144.73" width="4.00" height="4.00" fill="#ff00ff"/><rect x="193.56" y="150.04" width="4.00" height="4.00" fill="#ff00ff"/><rect x="196.91" y="155.46" width="4.00" height="4.00" fill="#ff00ff"/>
<path d="M85.04 237.90 L85.54 235.83 L86.04 233.75 L86.54 231.65 L87.04 229.53 L87.54 227.39 L88.04 225.23 L88.54 223.06 L89.04 220.89 L89.54 218.71 L90.04 216.49 L90.54 214.24 L91.04 211.95 L91.54 209.59 L92.04 207.17 L92.54 204.69 L93.04 202.17 L93.54 199.58 L94.04 196.94 L94.54 194.24 L95.04 191.48 L95.54 188.66 L96.04 185.79 L96.54 182.88 L97.04 179.92 L97.54 176.93 L98.04 173.89 L98.54 170.82 L99.04 167.72 L99.54 164.59 L100.04 161.43 L100.54 158.24 L101.04 155.04 L101.54 151.82 L102.04 148.58 L102.54 145.33 L103.04 142.07 L103.54 138.80 L104.04 135.53 L104.54 132.26 L105.04 128.99 L105.54 125.70 L106.04 122.34 L106.54 118.95 L107.04 115.54 L107.54 112.12 L108.04 108.73 L108.54 105.36 L109.04 102.06 L109.54 98.76 L110.04 95.40 L110.54 91.89 L111.04 88.25 L111.54 84.63 L112.04 81.10 L112.54 77.53 L113.04 73.97 L113.54 70.49 L114.04 67.14 L114.54 64.00 L115.04 61.11 L115.54 58.36 L116.04 55.83 L116.54 53.72 L117.04 51.95 L117.54 50.35 L118.04 49.17 L118.54 48.56 L119.04 48.11 L119.54 47.78 L120.04 47.61 L120.54 47.67 L121.04 48.01 L121.54 48.60 L122.04 49.38 L122.54 51.63 L123.04 55.44 L123.54 59.55 L124.04 63.48 L124.54 67.76 L125.04 72.11 L125.54 76.28 L126.04 80.37 L126.54 84.42 L127.04 88.50 L127.54 92.70 L128.04 96.57 L128.54 99.68 L129.04 102.17 L129.54 104.72 L130.04 107.83 L130.54 110.94 L131.04 113.39 L131.54 115.51 L132.04 117.41 L132.54 119.12 L133.04 120.65 L133.54 122.02 L134.04 123.30 L134.54 124.48 L135.04 125.55 L135.54 126.53 L136.04 127.40 L136.54 128.20 L137.04 128.97 L137.54 129.69 L138.04 130.35 L138.54 130.95 L139.04 131.45 L139.54 131.86 L140.04 132.20 L140.54 132.53 L141.04 132.85 L141.54 133.14 L142.04 133.39 L142.54 133.61 L143.04 133.77 L143.54 133.87 L144.04 133.90 L144.54 133.87 L145.04 133.80 L145.54 133.68 L146.04 133.52 L146.54 133.34 L147.04 133.12 L147.54 132.87 L148.04 132.60 L148.54 132.31 L149.04 131.85 L149.54 131.19 L150.04 130.39 L150.54 129.48 L151.04 128.51 L151.54 127.51 L152.04 126.51 L152.54 125.37 L153.04 124.11 L153.54 122.78 L154.04 121.43 L154.54 120.11 L155.04 118.87 L155.54 117.71 L156.04 116.54 L156.54 115.27 L157.04 113.82 L157.54 111.98 L158.04 109.64 L158.54 107.26 L159.04 105.12 L159.54 103.02 L160.04 101.01 L160.54 99.08 L161.04 97.16 L161.54 95.37 L162.04 93.90 L162.54 92.68 L163.04 91.60 L163.54 90.70 L164.04 89.95 L164.54 89.27 L165.04 88.70 L165.54 88.33 L166.04 88.12 L166.54 87.97 L167.04 87.90 L167.54 88.18 L168.04 89.02 L168.54 90.13 L169.04 91.47 L169.54 93.38 L170.04 95.48 L170.54 97.40 L171.04 99.28 L171.54 101.10 L172.04 102.74 L172.54 104.25 L173.04 105.68 L173.54 107.04 L174.04 108.35 L174.54 109.62 L175.04 110.86 L175.54 112.08 L176.04 113.25 L176.54 114.39 L177.04 115.49 L177.54 116.58 L178.04 117.66 L178.54 118.75 L179.04 119.85 L179.54 120.94 L180.04 122.04 L180.54 123.12 L181.04 124.21 L181.54 125.29 L182.04 126.37 L182.54 127.45 L183.04 128.55 L183.54 129.64 L184.04 130.72 L184.54 131.80 L185.04 132.85 L185.54 133.88 L186.04 134.89 L186.54 135.87 L187.04 136.84 L187.54 137.80 L188.04 138.75 L188.54 139.71 L189.04 140.67 L189.54 141.65 L190.04 142.63 L190.54 143.61 L191.04 144.57 L191.54 145.52 L192.04 146.42 L192.54 147.28 L193.04 148.10 L193.54 148.90 L194.04 149.67 L194.54 150.44 L195.04 151.22 L195.54 152.00 L196.04 152.81 L196.54 153.61 L197.04 154.42 L197.54 155.23 L198.04 156.04 L198.54 156.85 L198.91 157.46" fill="none" stroke="#000000" stroke-width="0.60" stroke-dasharray="6.9 2.3 1.1 2.3"/>
<path d="M85.04 236.16 L86.79 239.06 L83.29 239.06 Z" fill="#000" fill-opacity="0.3" stroke="#000000" stroke-width="0.85"/><path d="M88.39 221.97 L90.14 224.87 L86.64 224.87 Z" fill="#000" fill-opacity="0.3" stroke="#000000" stroke-width="0.85"/><path d="M91.74 206.89 L93.49 209.79 L89.99 209.79 Z" fill="#000" fill-opacity="0.3" stroke="#000000" stroke-width="0.85"/><path d="M95.09 189.47 L96.84 192.37 L93.34 192.37 Z" fill="#000" fill-opacity="0.3" stroke="#000000" stroke-width="0.85"/><path d="M98.44 169.72 L100.19 172.62 L96.69 172.62 Z" fill="#000" fill-opacity="0.3" stroke="#000000" stroke-width="0.85"/><path d="M101.79 148.49 L103.54 151.39 L100.04 151.39 Z" fill="#000" fill-opacity="0.3" stroke="#000000" stroke-width="0.85"/><path d="M105.14 126.63 L106.89 129.53 L103.39 129.53 Z" fill="#000" fill-opacity="0.3" stroke="#000000" stroke-width="0.85"/><path d="M108.48 103.99 L110.23 106.89 L106.73 106.89 Z" fill="#000" fill-opacity="0.3" stroke="#000000" stroke-width="0.85"/><path d="M111.83 80.82 L113.58 83.72 L110.08 83.72 Z" fill="#000" fill-opacity="0.3" stroke="#000000" stroke-width="0.85"/><path d="M115.18 58.57 L116.93 61.47 L113.43 61.47 Z" fill="#000" fill-opacity="0.3" stroke="#000000" stroke-width="0.85"/><path d="M118.53 46.82 L120.28 49.72 L116.78 49.72 Z" fill="#000" fill-opacity="0.3" stroke="#000000" stroke-width="0.85"/><path d="M121.88 47.37 L123.63 50.27 L120.13 50.27 Z" fill="#000" fill-opacity="0.3" stroke="#000000" stroke-width="0.85"/><path d="M123.56 57.93 L125.31 60.83 L121.81 60.83 Z" fill="#000" fill-opacity="0.3" stroke="#000000" stroke-width="0.85"/><path d="M125.23 71.98 L126.98 74.88 L123.48 74.88 Z" fill="#000" fill-opacity="0.3" stroke="#000000" stroke-width="0.85"/><path d="M126.91 85.64 L128.66 88.54 L125.16 88.54 Z" fill="#000" fill-opacity="0.3" stroke="#000000" stroke-width="0.85"/><path d="M128.58 98.15 L130.33 101.05 L126.83 101.05 Z" fill="#000" fill-opacity="0.3" stroke="#000000" stroke-width="0.85"/><path d="M129.42 102.31 L131.17 105.21 L127.67 105.21 Z" fill="#000" fill-opacity="0.3" stroke="#000000" stroke-width="0.85"/><path d="M130.25 107.47 L132.00 110.37 L128.50 110.37 Z" fill="#000" fill-opacity="0.3" stroke="#000000" stroke-width="0.85"/><path d="M131.09 111.88 L132.84 114.78 L129.34 114.78 Z" fill="#000" fill-opacity="0.3" stroke="#000000" stroke-width="0.85"/><path d="M131.93 115.27 L133.68 118.17 L130.18 118.17 Z" fill="#000" fill-opacity="0.3" stroke="#000000" stroke-width="0.85"/><path d="M132.77 118.09 L134.52 120.99 L131.02 120.99 Z" fill="#000" fill-opacity="0.3" stroke="#000000" stroke-width="0.85"/><path d="M133.60 120.45 L135.35 123.35 L131.85 123.35 Z" fill="#000" fill-opacity="0.3" stroke="#000000" stroke-width="0.85"/><path d="M134.44 122.51 L136.19 125.41 L132.69 125.41 Z" fill="#000" fill-opacity="0.3" stroke="#000000" stroke-width="0.85"/><path d="M135.28 124.29 L137.03 127.19 L133.53 127.19 Z" fill="#000" fill-opacity="0.3" stroke="#000000" stroke-width="0.85"/><path d="M136.12 125.79 L137.87 128.69 L134.37 128.69 Z" fill="#000" fill-opacity="0.3" stroke="#000000" stroke-width="0.85"/><path d="M136.95 127.10 L138.70 130.00 L135.20 130.00 Z" fill="#000" fill-opacity="0.3" stroke="#000000" stroke-width="0.85"/><path d="M137.79 128.29 L139.54 131.19 L136.04 131.19 Z" fill="#000" fill-opacity="0.3" stroke="#000000" stroke-width="0.85"/><path d="M138.63 129.30 L140.38 132.20 L136.88 132.20 Z" fill="#000" fill-opacity="0.3" stroke="#000000" stroke-width="0.85"/><path d="M139.46 130.06 L141.21 132.96 L137.71 132.96 Z" fill="#000" fill-opacity="0.3" stroke="#000000" stroke-width="0.85"/><path d="M140.30 130.63 L142.05 133.53 L138.55 133.53 Z" fill="#000" fill-opacity="0.3" stroke="#000000" stroke-width="0.85"/><path d="M141.14 131.17 L142.89 134.07 L139.39 134.07 Z" fill="#000" fill-opacity="0.3" stroke="#000000" stroke-width="0.85"/><path d="M141.98 131.62 L143.73 134.52 L140.23 134.52 Z" fill="#000" fill-opacity="0.3" stroke="#000000" stroke-width="0.85"/><path d="M142.81 131.96 L144.56 134.86 L141.06 134.86 Z" fill="#000" fill-opacity="0.3" stroke="#000000" stroke-width="0.85"/><path d="M143.65 132.14 L145.40 135.04 L141.90 135.04 Z" fill="#000" fill-opacity="0.3" stroke="#000000" stroke-width="0.85"/><path d="M144.49 132.14 L146.24 135.04 L142.74 135.04 Z" fill="#000" fill-opacity="0.3" stroke="#000000" stroke-width="0.85"/><path d="M145.33 131.99 L147.08 134.89 L143.58 134.89 Z" fill="#000" fill-opacity="0.3" stroke="#000000" stroke-width="0.85"/><path d="M146.16 131.74 L147.91 134.64 L144.41 134.64 Z" fill="#000" fill-opacity="0.3" stroke="#000000" stroke-width="0.85"/><path d="M147.00 131.39 L148.75 134.29 L145.25 134.29 Z" fill="#000" fill-opacity="0.3" stroke="#000000" stroke-width="0.85"/><path d="M147.84 130.97 L149.59 133.87 L146.09 133.87 Z" fill="#000" fill-opacity="0.3" stroke="#000000" stroke-width="0.85"/><path d="M148.68 130.47 L150.43 133.37 L146.93 133.37 Z" fill="#000" fill-opacity="0.3" stroke="#000000" stroke-width="0.85"/><path d="M149.51 129.49 L151.26 132.39 L147.76 132.39 Z" fill="#000" fill-opacity="0.3" stroke="#000000" stroke-width="0.85"/><path d="M150.35 128.10 L152.10 131.00 L148.60 131.00 Z" fill="#000" fill-opacity="0.3" stroke="#000000" stroke-width="0.85"/><path d="M151.19 126.48 L152.94 129.38 L149.44 129.38 Z" fill="#000" fill-opacity="0.3" stroke="#000000" stroke-width="0.85"/><path d="M152.02 124.80 L153.77 127.70 L150.27 127.70 Z" fill="#000" fill-opacity="0.3" stroke="#000000" stroke-width="0.85"/><path d="M152.86 122.83 L154.61 125.73 L151.11 125.73 Z" fill="#000" fill-opacity="0.3" stroke="#000000" stroke-width="0.85"/><path d="M153.70 120.61 L155.45 123.51 L151.95 123.51 Z" fill="#000" fill-opacity="0.3" stroke="#000000" stroke-width="0.85"/><path d="M154.54 118.38 L156.29 121.28 L152.79 121.28 Z" fill="#000" fill-opacity="0.3" stroke="#000000" stroke-width="0.85"/><path d="M155.37 116.35 L157.12 119.25 L153.62 119.25 Z" fill="#000" fill-opacity="0.3" stroke="#000000" stroke-width="0.85"/><path d="M156.21 114.38 L157.96 117.28 L154.46 117.28 Z" fill="#000" fill-opacity="0.3" stroke="#000000" stroke-width="0.85"/><path d="M157.05 112.05 L158.80 114.95 L155.30 114.95 Z" fill="#000" fill-opacity="0.3" stroke="#000000" stroke-width="0.85"/><path d="M157.89 108.65 L159.64 111.55 L156.14 111.55 Z" fill="#000" fill-opacity="0.3" stroke="#000000" stroke-width="0.85"/><path d="M158.72 104.73 L160.47 107.63 L156.97 107.63 Z" fill="#000" fill-opacity="0.3" stroke="#000000" stroke-width="0.85"/><path d="M162.07 92.07 L163.82 94.97 L160.32 94.97 Z" fill="#000" fill-opacity="0.3" stroke="#000000" stroke-width="0.85"/><path d="M165.42 86.65 L167.17 89.55 L163.67 89.55 Z" fill="#000" fill-opacity="0.3" stroke="#000000" stroke-width="0.85"/><path d="M168.77 88.93 L170.52 91.83 L167.02 91.83 Z" fill="#000" fill-opacity="0.3" stroke="#000000" stroke-width="0.85"/><path d="M172.12 101.24 L173.87 104.14 L170.37 104.14 Z" fill="#000" fill-opacity="0.3" stroke="#000000" stroke-width="0.85"/><path d="M175.47 110.17 L177.22 113.07 L173.72 113.07 Z" fill="#000" fill-opacity="0.3" stroke="#000000" stroke-width="0.85"/><path d="M178.82 117.62 L180.57 120.52 L177.07 120.52 Z" fill="#000" fill-opacity="0.3" stroke="#000000" stroke-width="0.85"/><path d="M182.17 124.91 L183.92 127.81 L180.42 127.81 Z" fill="#000" fill-opacity="0.3" stroke="#000000" stroke-width="0.85"/><path d="M185.52 132.09 L187.27 134.99 L183.77 134.99 Z" fill="#000" fill-opacity="0.3" stroke="#000000" stroke-width="0.85"/><path d="M188.87 138.59 L190.62 141.49 L187.12 141.49 Z" fill="#000" fill-opacity="0.3" stroke="#000000" stroke-width="0.85"/><path d="M192.22 144.99 L193.97 147.89 L190.47 147.89 Z" fill="#000" fill-opacity="0.3" stroke="#000000" stroke-width="0.85"/><path d="M195.56 150.30 L197.31 153.20 L193.81 153.20 Z" fill="#000" fill-opacity="0.3" stroke="#000000" stroke-width="0.85"/><path d="M198.91 155.72 L200.66 158.62 L197.16 158.62 Z" fill="#000" fill-opacity="0.3" stroke="#000000" stroke-width="0.85"/>
<rect x="41.50" y="11.60" width="217.70" height="299.60" fill="none" stroke="#000" stroke-width="1.4"/>
<path d="M91.74 311.20 V304.00 M91.74 11.60 V18.80 M175.47 311.20 V304.00 M175.47 11.60 V18.80 M41.50 42.60 H48.70 M259.20 42.60 H252.00 M41.50 109.30 H48.70 M259.20 109.30 H252.00 M41.50 175.90 H48.70 M259.20 175.90 H252.00 M41.50 242.60 H48.70 M259.20 242.60 H252.00 M41.50 309.20 H48.70 M259.20 309.20 H252.00" fill="none" stroke="#000" stroke-width="0.9"/>
<path d="M173.00 219.50 H215.90" fill="none" stroke="#ff0000" stroke-width="0.65"/>
<circle cx="194.45" cy="219.50" r="1.85" fill="none" stroke="#ff0000" stroke-width="0.9"/>
<path d="M173.00 235.85 H215.90" fill="none" stroke="#00ff00" stroke-width="0.70" stroke-dasharray="4.6 2.3"/>
<circle cx="194.45" cy="235.85" r="2.15" fill="#00ff00"/>
<path d="M173.00 252.20 H215.90" fill="none" stroke="#0000ff" stroke-width="0.80" stroke-dasharray="2.5 3.2"/>
<rect x="192.70" y="250.25" width="3.50" height="3.90" fill="none" stroke="#0000ff" stroke-width="0.85"/>
<path d="M173.00 268.55 H215.90" fill="none" stroke="#ff00ff" stroke-width="0.75" stroke-dasharray="1.1 1.8"/>
<rect x="192.45" y="266.55" width="4.00" height="4.00" fill="#ff00ff"/>
<path d="M173.00 284.90 H215.90" fill="none" stroke="#000" stroke-width="0.60" stroke-dasharray="6.9 2.3 1.1 2.3"/>
<path d="M194.45 283.16 L196.20 286.06 L192.70 286.06 Z" fill="#000" fill-opacity="0.3" stroke="#000000" stroke-width="0.85"/>
</g>
<g id="panel-b">
<rect x="406.20" y="11.60" width="20.60" height="299.60" fill="#ffff00"/>
<path d="M318.90 39.10 L319.40 39.10 L319.90 39.10 L320.40 39.10 L320.90 39.10 L321.40 39.10 L321.90 39.10 L322.40 39.10 L322.90 39.10 L323.40 39.10 L323.90 39.10 L324.40 39.10 L324.90 39.10 L325.40 39.10 L325.90 39.10 L326.40 39.10 L326.90 39.10 L327.40 39.10 L327.90 39.11 L328.40 39.12 L328.90 39.13 L329.40 39.15 L329.90 39.17 L330.40 39.20 L330.90 39.22 L331.40 39.25 L331.90 39.28 L332.40 39.31 L332.90 39.35 L333.40 39.38 L333.90 39.41 L334.40 39.45 L334.90 39.48 L335.40 39.51 L335.90 39.55 L336.40 39.58 L336.90 39.62 L337.40 39.65 L337.90 39.69 L338.40 39.73 L338.90 39.77 L339.40 39.82 L339.90 39.86 L340.40 39.91 L340.90 39.96 L341.40 40.01 L341.90 40.07 L342.40 40.13 L342.90 40.19 L343.40 40.26 L343.90 40.33 L344.40 40.41 L344.90 40.50 L345.40 40.60 L345.90 40.70 L346.40 40.82 L346.90 40.94 L347.40 41.07 L347.90 41.21 L348.40 41.36 L348.90 41.50 L349.40 41.66 L349.90 41.81 L350.40 41.97 L350.90 42.14 L351.40 42.30 L351.90 42.47 L352.40 42.64 L352.90 42.82 L353.40 43.01 L353.90 43.22 L354.40 43.43 L354.90 43.66 L355.40 43.90 L355.90 44.16 L356.40 44.44 L356.90 44.75 L357.40 45.08 L357.90 45.41 L358.40 45.73 L358.90 46.04 L359.40 46.33 L359.90 46.60 L360.40 46.86 L360.90 47.12 L361.40 47.40 L361.90 47.70 L362.40 48.04 L362.90 48.41 L363.40 48.81 L363.90 49.24 L364.40 49.70 L364.90 50.18 L365.40 50.69 L365.90 51.23 L366.40 51.81 L366.90 52.45 L367.40 53.11 L367.90 53.81 L368.40 54.53 L368.90 55.25 L369.40 56.00 L369.90 56.78 L370.40 57.59 L370.90 58.42 L371.40 59.27 L371.90 60.12 L372.40 60.97 L372.90 61.81 L373.40 62.66 L373.90 63.52 L374.40 64.39 L374.90 65.29 L375.40 66.22 L375.90 67.18 L376.40 68.18 L376.90 69.23 L377.40 70.36 L377.90 71.66 L378.40 73.11 L378.90 74.50 L379.40 75.68 L379.90 76.77 L380.40 77.92 L380.90 79.28 L381.40 80.93 L381.90 82.71 L382.40 84.43 L382.90 86.06 L383.40 87.64 L383.90 89.21 L384.40 90.82 L384.90 92.49 L385.40 94.27 L385.90 96.20 L386.40 98.39 L386.90 100.76 L387.40 103.19 L387.90 105.70 L388.40 108.27 L388.90 110.80 L389.40 113.25 L389.90 115.67 L390.40 118.07 L390.90 120.44 L391.40 122.80 L391.90 125.14 L392.40 127.46 L392.90 129.74 L393.40 131.99 L393.90 134.27 L394.40 136.60 L394.90 138.94 L395.40 141.31 L395.90 143.75 L396.40 146.28 L396.90 148.94 L397.40 151.74 L397.90 154.62 L398.40 157.57 L398.90 160.54 L399.40 163.49 L399.90 166.52 L400.40 169.56 L400.90 172.46 L401.40 175.20 L401.90 177.84 L402.40 180.47 L402.90 183.14 L403.40 185.82 L403.90 188.40 L404.40 190.83 L404.90 193.16 L405.40 195.40 L405.90 197.54 L406.40 199.55 L406.90 201.50 L407.40 203.49 L407.90 205.62 L408.40 207.84 L408.90 209.99 L409.40 211.96 L409.90 213.82 L410.40 215.59 L410.90 217.25 L411.40 218.82 L411.90 220.32 L412.40 221.80 L412.90 223.31 L413.40 224.84 L413.90 226.35 L414.40 227.82 L414.90 229.20 L415.40 230.54 L415.90 231.84 L416.40 233.17 L416.90 234.53 L417.40 235.89 L417.90 237.20 L418.40 238.42 L418.90 239.56 L419.40 240.66 L419.90 241.75 L420.40 242.87 L420.90 244.04 L421.40 245.23 L421.90 246.44 L422.40 247.66 L422.90 248.86 L423.40 250.04 L423.90 251.20 L424.40 252.39 L424.90 253.52 L425.40 254.50 L425.90 255.35 L426.40 256.15 L426.90 256.89 L427.40 257.60 L427.90 258.27 L428.40 258.92 L428.90 259.54 L429.40 260.16 L429.90 260.77 L430.40 261.38 L430.90 262.00 L431.40 262.62 L431.90 263.24 L432.40 263.85 L432.90 264.45 L433.40 265.04 L433.90 265.63 L434.40 266.20 L434.90 266.77 L435.40 267.32 L435.90 267.87 L436.40 268.41 L436.90 268.93 L437.40 269.46 L437.90 269.97 L438.40 270.48 L438.90 270.98 L439.40 271.47 L439.90 271.95 L440.40 272.42 L440.90 272.88 L441.40 273.33 L441.90 273.78 L442.40 274.21 L442.90 274.64 L443.40 275.06 L443.90 275.48 L444.40 275.88 L444.90 276.28 L445.40 276.67 L445.90 277.05 L446.40 277.42 L446.90 277.79 L447.40 278.14 L447.90 278.49 L448.40 278.82 L448.90 279.16 L449.40 279.48 L449.90 279.80 L450.40 280.11 L450.90 280.41 L451.40 280.71 L451.90 281.00 L452.40 281.29 L452.90 281.57 L453.40 281.84 L453.90 282.11 L454.40 282.38 L454.90 282.64 L455.40 282.90 L455.90 283.15 L456.40 283.39 L456.90 283.62 L457.40 283.85 L457.90 284.06 L458.40 284.26 L458.90 284.46 L459.40 284.65 L459.90 284.83 L460.40 285.01 L460.90 285.18 L461.40 285.35 L461.90 285.51 L462.40 285.67 L462.90 285.82 L463.40 285.97 L463.90 286.12 L464.40 286.26 L464.90 286.40 L465.40 286.54 L465.90 286.67 L466.40 286.80 L466.90 286.92 L467.40 287.05 L467.90 287.17 L468.40 287.28 L468.90 287.40 L469.40 287.51 L469.90 287.63 L470.40 287.73 L470.90 287.84 L471.40 287.95 L471.90 288.05 L472.40 288.15 L472.90 288.25 L473.40 288.34 L473.90 288.43 L474.40 288.52 L474.90 288.60 L475.40 288.68 L475.90 288.76 L476.40 288.83 L476.90 288.90 L477.40 288.97 L477.90 289.04 L478.40 289.11 L478.90 289.18 L479.40 289.25 L479.90 289.31 L480.40 289.38 L480.90 289.45 L481.40 289.52 L481.90 289.59 L482.40 289.66 L482.90 289.72 L483.40 289.79 L483.90 289.85 L484.40 289.91 L484.90 289.97 L485.40 290.02 L485.90 290.07 L486.40 290.12 L486.90 290.17 L487.40 290.22 L487.90 290.26 L488.40 290.31 L488.90 290.35 L489.40 290.39 L489.90 290.43 L490.40 290.48 L490.90 290.52 L491.40 290.56 L491.90 290.60 L492.40 290.64 L492.90 290.68 L493.40 290.72 L493.90 290.75 L494.40 290.79 L494.90 290.82 L495.40 290.86 L495.90 290.89 L496.40 290.92 L496.90 290.94 L497.40 290.97 L497.90 290.99 L498.40 291.01 L498.90 291.04 L499.40 291.06 L499.90 291.08 L500.40 291.10 L500.90 291.12 L501.40 291.14 L501.90 291.17 L502.40 291.19 L502.90 291.22 L503.40 291.24 L503.90 291.27 L504.40 291.30 L504.90 291.33 L505.40 291.37 L505.90 291.40 L506.40 291.43 L506.90 291.46 L507.40 291.50 L507.90 291.53 L508.40 291.56 L508.90 291.59 L509.40 291.62 L509.90 291.65 L510.40 291.67 L510.90 291.70 L511.40 291.72 L511.90 291.74 L512.40 291.76 L512.90 291.78 L513.40 291.80 L513.90 291.82 L514.40 291.84 L514.90 291.86 L515.40 291.87 L515.90 291.89 L516.40 291.91 L516.90 291.92 L517.40 291.94 L517.90 291.96 L518.40 291.97 L518.90 291.99 L519.40 292.00 L519.90 292.01 L520.40 292.03 L520.90 292.04 L521.40 292.05 L521.90 292.07 L522.40 292.08 L522.90 292.09 L523.40 292.10 L523.90 292.11 L524.40 292.12 L524.90 292.13 L525.40 292.15 L525.90 292.16 L526.40 292.17 L526.90 292.18 L527.40 292.19 L527.90 292.20 L528.40 292.21 L528.90 292.23 L529.40 292.24 L529.90 292.25 L530.40 292.26 L530.90 292.27 L531.40 292.29 L531.90 292.30 L532.40 292.31 L532.90 292.32 L533.40 292.33 L533.90 292.35 L534.40 292.36 L534.90 292.37 L535.40 292.38 L535.90 292.40 L536.10 292.40" fill="none" stroke="#ff0000" stroke-width="0.65"/>
<circle cx="318.90" cy="39.10" r="1.85" fill="none" stroke="#ff0000" stroke-width="0.9"/><circle cx="327.25" cy="39.10" r="1.85" fill="none" stroke="#ff0000" stroke-width="0.9"/><circle cx="335.61" cy="39.53" r="1.85" fill="none" stroke="#ff0000" stroke-width="0.9"/><circle cx="343.96" cy="40.34" r="1.85" fill="none" stroke="#ff0000" stroke-width="0.9"/><circle cx="352.32" cy="42.61" r="1.85" fill="none" stroke="#ff0000" stroke-width="0.9"/><circle cx="355.66" cy="44.03" r="1.85" fill="none" stroke="#ff0000" stroke-width="0.9"/><circle cx="359.00" cy="46.10" r="1.85" fill="none" stroke="#ff0000" stroke-width="0.9"/><circle cx="360.67" cy="47.00" r="1.85" fill="none" stroke="#ff0000" stroke-width="0.9"/><circle cx="362.34" cy="48.00" r="1.85" fill="none" stroke="#ff0000" stroke-width="0.9"/><circle cx="365.68" cy="50.99" r="1.85" fill="none" stroke="#ff0000" stroke-width="0.9"/><circle cx="369.02" cy="55.43" r="1.85" fill="none" stroke="#ff0000" stroke-width="0.9"/><circle cx="372.36" cy="60.91" r="1.85" fill="none" stroke="#ff0000" stroke-width="0.9"/><circle cx="375.71" cy="66.81" r="1.85" fill="none" stroke="#ff0000" stroke-width="0.9"/><circle cx="377.38" cy="70.31" r="1.85" fill="none" stroke="#ff0000" stroke-width="0.9"/><circle cx="379.05" cy="74.87" r="1.85" fill="none" stroke="#ff0000" stroke-width="0.9"/><circle cx="382.39" cy="84.40" r="1.85" fill="none" stroke="#ff0000" stroke-width="0.9"/><circle cx="385.73" cy="95.53" r="1.85" fill="none" stroke="#ff0000" stroke-width="0.9"/><circle cx="389.07" cy="111.65" r="1.85" fill="none" stroke="#ff0000" stroke-width="0.9"/><circle cx="392.41" cy="127.53" r="1.85" fill="none" stroke="#ff0000" stroke-width="0.9"/><circle cx="394.08" cy="135.13" r="1.85" fill="none" stroke="#ff0000" stroke-width="0.9"/><circle cx="395.76" cy="143.03" r="1.85" fill="none" stroke="#ff0000" stroke-width="0.9"/><circle cx="399.10" cy="161.70" r="1.85" fill="none" stroke="#ff0000" stroke-width="0.9"/><circle cx="400.77" cy="171.72" r="1.85" fill="none" stroke="#ff0000" stroke-width="0.9"/><circle cx="402.44" cy="180.67" r="1.85" fill="none" stroke="#ff0000" stroke-width="0.9"/><circle cx="404.11" cy="189.43" r="1.85" fill="none" stroke="#ff0000" stroke-width="0.9"/><circle cx="405.78" cy="197.04" r="1.85" fill="none" stroke="#ff0000" stroke-width="0.9"/><circle cx="407.45" cy="203.70" r="1.85" fill="none" stroke="#ff0000" stroke-width="0.9"/><circle cx="409.12" cy="210.88" r="1.85" fill="none" stroke="#ff0000" stroke-width="0.9"/><circle cx="410.79" cy="216.90" r="1.85" fill="none" stroke="#ff0000" stroke-width="0.9"/><circle cx="412.46" cy="221.99" r="1.85" fill="none" stroke="#ff0000" stroke-width="0.9"/><circle cx="414.13" cy="227.04" r="1.85" fill="none" stroke="#ff0000" stroke-width="0.9"/><circle cx="415.80" cy="231.59" r="1.85" fill="none" stroke="#ff0000" stroke-width="0.9"/><circle cx="417.48" cy="236.09" r="1.85" fill="none" stroke="#ff0000" stroke-width="0.9"/><circle cx="419.15" cy="240.10" r="1.85" fill="none" stroke="#ff0000" stroke-width="0.9"/><circle cx="420.82" cy="243.84" r="1.85" fill="none" stroke="#ff0000" stroke-width="0.9"/><circle cx="422.49" cy="247.87" r="1.85" fill="none" stroke="#ff0000" stroke-width="0.9"/><circle cx="424.16" cy="251.82" r="1.85" fill="none" stroke="#ff0000" stroke-width="0.9"/><circle cx="425.83" cy="255.23" r="1.85" fill="none" stroke="#ff0000" stroke-width="0.9"/><circle cx="427.50" cy="257.74" r="1.85" fill="none" stroke="#ff0000" stroke-width="0.9"/><circle cx="429.17" cy="259.88" r="1.85" fill="none" stroke="#ff0000" stroke-width="0.9"/><circle cx="430.84" cy="261.93" r="1.85" fill="none" stroke="#ff0000" stroke-width="0.9"/><circle cx="432.51" cy="263.99" r="1.85" fill="none" stroke="#ff0000" stroke-width="0.9"/><circle cx="434.18" cy="265.95" r="1.85" fill="none" stroke="#ff0000" stroke-width="0.9"/><circle cx="435.85" cy="267.82" r="1.85" fill="none" stroke="#ff0000" stroke-width="0.9"/><circle cx="437.52" cy="269.59" r="1.85" fill="none" stroke="#ff0000" stroke-width="0.9"/><circle cx="439.20" cy="271.27" r="1.85" fill="none" stroke="#ff0000" stroke-width="0.9"/><circle cx="442.54" cy="274.33" r="1.85" fill="none" stroke="#ff0000" stroke-width="0.9"/><circle cx="444.21" cy="275.73" r="1.85" fill="none" stroke="#ff0000" stroke-width="0.9"/><circle cx="445.88" cy="277.04" r="1.85" fill="none" stroke="#ff0000" stroke-width="0.9"/><circle cx="449.22" cy="279.37" r="1.85" fill="none" stroke="#ff0000" stroke-width="0.9"/><circle cx="450.89" cy="280.41" r="1.85" fill="none" stroke="#ff0000" stroke-width="0.9"/><circle cx="452.56" cy="281.38" r="1.85" fill="none" stroke="#ff0000" stroke-width="0.9"/><circle cx="455.90" cy="283.15" r="1.85" fill="none" stroke="#ff0000" stroke-width="0.9"/><circle cx="457.57" cy="283.92" r="1.85" fill="none" stroke="#ff0000" stroke-width="0.9"/><circle cx="459.24" cy="284.59" r="1.85" fill="none" stroke="#ff0000" stroke-width="0.9"/><circle cx="462.59" cy="285.72" r="1.85" fill="none" stroke="#ff0000" stroke-width="0.9"/><circle cx="465.93" cy="286.68" r="1.85" fill="none" stroke="#ff0000" stroke-width="0.9"/><circle cx="467.60" cy="287.09" r="1.85" fill="none" stroke="#ff0000" stroke-width="0.9"/><circle cx="469.27" cy="287.48" r="1.85" fill="none" stroke="#ff0000" stroke-width="0.9"/><circle cx="472.61" cy="288.19" r="1.85" fill="none" stroke="#ff0000" stroke-width="0.9"/><circle cx="475.95" cy="288.76" r="1.85" fill="none" stroke="#ff0000" stroke-width="0.9"/><circle cx="477.62" cy="289.00" r="1.85" fill="none" stroke="#ff0000" stroke-width="0.9"/><circle cx="479.29" cy="289.23" r="1.85" fill="none" stroke="#ff0000" stroke-width="0.9"/><circle cx="482.64" cy="289.69" r="1.85" fill="none" stroke="#ff0000" stroke-width="0.9"/><circle cx="485.98" cy="290.08" r="1.85" fill="none" stroke="#ff0000" stroke-width="0.9"/><circle cx="487.65" cy="290.24" r="1.85" fill="none" stroke="#ff0000" stroke-width="0.9"/><circle cx="489.32" cy="290.39" r="1.85" fill="none" stroke="#ff0000" stroke-width="0.9"/><circle cx="490.99" cy="290.52" r="1.85" fill="none" stroke="#ff0000" stroke-width="0.9"/><circle cx="492.66" cy="290.66" r="1.85" fill="none" stroke="#ff0000" stroke-width="0.9"/><circle cx="494.33" cy="290.79" r="1.85" fill="none" stroke="#ff0000" stroke-width="0.9"/><circle cx="496.00" cy="290.89" r="1.85" fill="none" stroke="#ff0000" stroke-width="0.9"/><circle cx="497.67" cy="290.98" r="1.85" fill="none" stroke="#ff0000" stroke-width="0.9"/><circle cx="499.34" cy="291.05" r="1.85" fill="none" stroke="#ff0000" stroke-width="0.9"/><circle cx="502.68" cy="291.20" r="1.85" fill="none" stroke="#ff0000" stroke-width="0.9"/><circle cx="511.04" cy="291.70" r="1.85" fill="none" stroke="#ff0000" stroke-width="0.9"/><circle cx="519.39" cy="292.00" r="1.85" fill="none" stroke="#ff0000" stroke-width="0.9"/><circle cx="527.75" cy="292.20" r="1.85" fill="none" stroke="#ff0000" stroke-width="0.9"/><circle cx="536.10" cy="292.40" r="1.85" fill="none" stroke="#ff0000" stroke-width="0.9"/>
<path d="M318.90 39.10 L319.40 39.10 L319.90 39.10 L320.40 39.10 L320.90 39.10 L321.40 39.10 L321.90 39.10 L322.40 39.10 L322.90 39.10 L323.40 39.10 L323.90 39.10 L324.40 39.10 L324.90 39.10 L325.40 39.10 L325.90 39.10 L326.40 39.10 L326.90 39.10 L327.40 39.10 L327.90 39.11 L328.40 39.12 L328.90 39.13 L329.40 39.15 L329.90 39.17 L330.40 39.20 L330.90 39.22 L331.40 39.25 L331.90 39.28 L332.40 39.31 L332.90 39.35 L333.40 39.38 L333.90 39.41 L334.40 39.45 L334.90 39.48 L335.40 39.51 L335.90 39.55 L336.40 39.58 L336.90 39.62 L337.40 39.65 L337.90 39.69 L338.40 39.73 L338.90 39.77 L339.40 39.82 L339.90 39.86 L340.40 39.91 L340.90 39.96 L341.40 40.01 L341.90 40.07 L342.40 40.13 L342.90 40.19 L343.40 40.26 L343.90 40.33 L344.40 40.41 L344.90 40.50 L345.40 40.60 L345.90 40.70 L346.40 40.82 L346.90 40.94 L347.40 41.07 L347.90 41.21 L348.40 41.36 L348.90 41.50 L349.40 41.66 L349.90 41.81 L350.40 41.97 L350.90 42.14 L351.40 42.30 L351.90 42.47 L352.40 42.64 L352.90 42.82 L353.40 43.01 L353.90 43.22 L354.40 43.43 L354.90 43.66 L355.40 43.90 L355.90 44.16 L356.40 44.44 L356.90 44.75 L357.40 45.08 L357.90 45.41 L358.40 45.73 L358.90 46.04 L359.40 46.33 L359.90 46.60 L360.40 46.86 L360.90 47.12 L361.40 47.40 L361.90 47.70 L362.40 48.04 L362.90 48.41 L363.40 48.81 L363.90 49.24 L364.40 49.70 L364.90 50.18 L365.40 50.69 L365.90 51.23 L366.40 51.81 L366.90 52.45 L367.40 53.11 L367.90 53.81 L368.40 54.53 L368.90 55.25 L369.40 56.00 L369.90 56.78 L370.40 57.59 L370.90 58.42 L371.40 59.27 L371.90 60.12 L372.40 60.97 L372.90 61.81 L373.40 62.66 L373.90 63.52 L374.40 64.39 L374.90 65.29 L375.40 66.22 L375.90 67.18 L376.40 68.18 L376.90 69.23 L377.40 70.36 L377.90 71.66 L378.40 73.11 L378.90 74.50 L379.40 75.68 L379.90 76.77 L380.40 77.92 L380.90 79.28 L381.40 80.93 L381.90 82.71 L382.40 84.43 L382.90 86.06 L383.40 87.64 L383.90 89.21 L384.40 90.82 L384.90 92.49 L385.40 94.27 L385.90 96.20 L386.40 98.39 L386.90 100.76 L387.40 103.18 L387.90 105.64 L388.40 108.17 L388.90 110.80 L389.40 113.53 L389.90 116.36 L390.40 119.30 L390.90 122.38 L391.40 125.60 L391.90 128.86 L392.40 131.98 L392.90 135.00 L393.40 138.15 L393.90 141.70 L394.40 146.22 L394.90 151.29 L395.40 155.70 L395.90 159.00 L396.40 161.84 L396.90 164.65 L397.40 167.85 L397.90 171.46 L398.40 175.19 L398.90 178.74 L399.40 181.91 L399.90 184.83 L400.40 187.68 L400.90 190.60 L401.40 193.76 L401.90 197.27 L402.40 201.02 L402.90 204.87 L403.40 208.65 L403.90 212.21 L404.40 215.40 L404.90 218.23 L405.40 220.87 L405.90 223.45 L406.40 226.09 L406.90 228.72 L407.40 231.34 L407.90 233.96 L408.40 236.65 L408.90 239.19 L409.40 241.33 L409.90 243.19 L410.40 244.93 L410.90 246.70 L411.40 248.57 L411.90 250.45 L412.40 252.26 L412.90 253.96 L413.40 255.64 L413.90 257.30 L414.40 258.93 L414.90 260.50 L415.40 262.00 L415.90 263.42 L416.40 264.75 L416.90 265.98 L417.40 267.13 L417.90 268.23 L418.40 269.27 L418.90 270.27 L419.40 271.23 L419.90 272.15 L420.40 273.04 L420.90 273.90 L421.40 274.75 L421.90 275.57 L422.40 276.37 L422.90 277.13 L423.40 277.86 L423.90 278.55 L424.40 279.18 L424.90 279.76 L425.40 280.29 L425.90 280.78 L426.40 281.26 L426.90 281.73 L427.40 282.20 L427.90 282.69 L428.40 283.19 L428.90 283.68 L429.40 284.17 L429.90 284.65 L430.40 285.11 L430.90 285.56 L431.40 286.01 L431.90 286.46 L432.40 286.90 L432.90 287.34 L433.40 287.76 L433.90 288.17 L434.40 288.57 L434.90 288.94 L435.40 289.30 L435.90 289.64 L436.40 289.97 L436.90 290.29 L437.40 290.60 L437.90 290.90 L438.40 291.20 L438.90 291.49 L439.40 291.76 L439.90 292.04 L440.40 292.30 L440.90 292.56 L441.40 292.81 L441.90 293.06 L442.40 293.30 L442.90 293.53 L443.40 293.77 L443.90 294.00 L444.40 294.22 L444.90 294.45 L445.40 294.66 L445.90 294.88 L446.40 295.09 L446.90 295.29 L447.40 295.49 L447.90 295.68 L448.40 295.87 L448.90 296.05 L449.40 296.22 L449.90 296.38 L450.40 296.54 L450.90 296.69 L451.40 296.83 L451.90 296.97 L452.40 297.11 L452.90 297.24 L453.40 297.37 L453.90 297.49 L454.40 297.62 L454.90 297.73 L455.40 297.85 L455.90 297.96 L456.40 298.07 L456.90 298.18 L457.40 298.28 L457.90 298.38 L458.40 298.48 L458.90 298.58 L459.40 298.68 L459.90 298.78 L460.40 298.87 L460.90 298.97 L461.40 299.06 L461.90 299.16 L462.40 299.25 L462.90 299.34 L463.40 299.43 L463.90 299.51 L464.40 299.59 L464.90 299.67 L465.40 299.74 L465.90 299.81 L466.40 299.88 L466.90 299.94 L467.40 299.99 L467.90 300.04 L468.40 300.09 L468.90 300.13 L469.40 300.18 L469.90 300.22 L470.40 300.27 L470.90 300.31 L471.40 300.35 L471.90 300.39 L472.40 300.43 L472.90 300.47 L473.40 300.51 L473.90 300.55 L474.40 300.59 L474.90 300.62 L475.40 300.65 L475.90 300.69 L476.40 300.72 L476.90 300.75 L477.40 300.78 L477.90 300.81 L478.40 300.84 L478.90 300.87 L479.40 300.89 L479.90 300.92 L480.40 300.94 L480.90 300.97 L481.40 300.99 L481.90 301.01 L482.40 301.03 L482.90 301.05 L483.40 301.07 L483.90 301.09 L484.40 301.10 L484.90 301.12 L485.40 301.13 L485.90 301.15 L486.40 301.16 L486.90 301.18 L487.40 301.19 L487.90 301.20 L488.40 301.21 L488.90 301.23 L489.40 301.24 L489.90 301.25 L490.40 301.26 L490.90 301.27 L491.40 301.28 L491.90 301.29 L492.40 301.30 L492.90 301.31 L493.40 301.32 L493.90 301.33 L494.40 301.34 L494.90 301.35 L495.40 301.35 L495.90 301.36 L496.40 301.37 L496.90 301.38 L497.40 301.39 L497.90 301.40 L498.40 301.41 L498.90 301.42 L499.40 301.43 L499.90 301.44 L500.40 301.45 L500.90 301.46 L501.40 301.47 L501.90 301.48 L502.40 301.49 L502.90 301.50 L503.40 301.51 L503.90 301.52 L504.40 301.54 L504.90 301.55 L505.40 301.56 L505.90 301.58 L506.40 301.59 L506.90 301.60 L507.40 301.62 L507.90 301.63 L508.40 301.64 L508.90 301.66 L509.40 301.67 L509.90 301.68 L510.40 301.69 L510.90 301.70 L511.40 301.71 L511.90 301.72 L512.40 301.72 L512.90 301.73 L513.40 301.74 L513.90 301.75 L514.40 301.76 L514.90 301.77 L515.40 301.77 L515.90 301.78 L516.40 301.79 L516.90 301.80 L517.40 301.81 L517.90 301.81 L518.40 301.82 L518.90 301.83 L519.40 301.84 L519.90 301.85 L520.40 301.85 L520.90 301.86 L521.40 301.87 L521.90 301.87 L522.40 301.88 L522.90 301.89 L523.40 301.89 L523.90 301.90 L524.40 301.91 L524.90 301.91 L525.40 301.92 L525.90 301.93 L526.40 301.93 L526.90 301.94 L527.40 301.94 L527.90 301.95 L528.40 301.95 L528.90 301.96 L529.40 301.96 L529.90 301.97 L530.40 301.97 L530.90 301.97 L531.40 301.98 L531.90 301.98 L532.40 301.98 L532.90 301.99 L533.40 301.99 L533.90 301.99 L534.40 301.99 L534.90 302.00 L535.40 302.00 L535.90 302.00 L536.10 302.00" fill="none" stroke="#00ff00" stroke-width="0.70" stroke-dasharray="4.6 2.3"/>
<circle cx="318.90" cy="39.10" r="2.15" fill="#00ff00"/><circle cx="327.25" cy="39.10" r="2.15" fill="#00ff00"/><circle cx="335.61" cy="39.53" r="2.15" fill="#00ff00"/><circle cx="343.96" cy="40.34" r="2.15" fill="#00ff00"/><circle cx="352.32" cy="42.61" r="2.15" fill="#00ff00"/><circle cx="355.66" cy="44.03" r="2.15" fill="#00ff00"/><circle cx="359.00" cy="46.10" r="2.15" fill="#00ff00"/><circle cx="360.67" cy="47.00" r="2.15" fill="#00ff00"/><circle cx="362.34" cy="48.00" r="2.15" fill="#00ff00"/><circle cx="365.68" cy="50.99" r="2.15" fill="#00ff00"/><circle cx="369.02" cy="55.43" r="2.15" fill="#00ff00"/><circle cx="372.36" cy="60.91" r="2.15" fill="#00ff00"/><circle cx="375.71" cy="66.81" r="2.15" fill="#00ff00"/><circle cx="377.38" cy="70.31" r="2.15" fill="#00ff00"/><circle cx="379.05" cy="74.87" r="2.15" fill="#00ff00"/><circle cx="380.72" cy="78.75" r="2.15" fill="#00ff00"/><circle cx="382.39" cy="84.40" r="2.15" fill="#00ff00"/><circle cx="385.73" cy="95.53" r="2.15" fill="#00ff00"/><circle cx="389.07" cy="111.73" r="2.15" fill="#00ff00"/><circle cx="392.41" cy="132.07" r="2.15" fill="#00ff00"/><circle cx="394.08" cy="143.23" r="2.15" fill="#00ff00"/><circle cx="395.76" cy="158.11" r="2.15" fill="#00ff00"/><circle cx="399.10" cy="180.03" r="2.15" fill="#00ff00"/><circle cx="400.77" cy="189.81" r="2.15" fill="#00ff00"/><circle cx="402.44" cy="201.32" r="2.15" fill="#00ff00"/><circle cx="404.11" cy="213.60" r="2.15" fill="#00ff00"/><circle cx="405.78" cy="222.82" r="2.15" fill="#00ff00"/><circle cx="407.45" cy="231.60" r="2.15" fill="#00ff00"/><circle cx="409.12" cy="240.19" r="2.15" fill="#00ff00"/><circle cx="410.79" cy="246.31" r="2.15" fill="#00ff00"/><circle cx="412.46" cy="252.47" r="2.15" fill="#00ff00"/><circle cx="414.13" cy="258.07" r="2.15" fill="#00ff00"/><circle cx="415.80" cy="263.16" r="2.15" fill="#00ff00"/><circle cx="417.48" cy="267.30" r="2.15" fill="#00ff00"/><circle cx="419.15" cy="270.75" r="2.15" fill="#00ff00"/><circle cx="420.82" cy="273.76" r="2.15" fill="#00ff00"/><circle cx="422.49" cy="276.50" r="2.15" fill="#00ff00"/><circle cx="424.16" cy="278.88" r="2.15" fill="#00ff00"/><circle cx="425.83" cy="280.71" r="2.15" fill="#00ff00"/><circle cx="427.50" cy="282.30" r="2.15" fill="#00ff00"/><circle cx="429.17" cy="283.95" r="2.15" fill="#00ff00"/><circle cx="432.51" cy="287.00" r="2.15" fill="#00ff00"/><circle cx="435.85" cy="289.61" r="2.15" fill="#00ff00"/><circle cx="439.20" cy="291.65" r="2.15" fill="#00ff00"/><circle cx="442.54" cy="293.36" r="2.15" fill="#00ff00"/><circle cx="445.88" cy="294.87" r="2.15" fill="#00ff00"/><circle cx="449.22" cy="296.16" r="2.15" fill="#00ff00"/><circle cx="452.56" cy="297.15" r="2.15" fill="#00ff00"/><circle cx="454.23" cy="297.58" r="2.15" fill="#00ff00"/><circle cx="455.90" cy="297.96" r="2.15" fill="#00ff00"/><circle cx="459.24" cy="298.65" r="2.15" fill="#00ff00"/><circle cx="462.59" cy="299.28" r="2.15" fill="#00ff00"/><circle cx="464.26" cy="299.57" r="2.15" fill="#00ff00"/><circle cx="465.93" cy="299.82" r="2.15" fill="#00ff00"/><circle cx="469.27" cy="300.17" r="2.15" fill="#00ff00"/><circle cx="472.61" cy="300.45" r="2.15" fill="#00ff00"/><circle cx="474.28" cy="300.58" r="2.15" fill="#00ff00"/><circle cx="475.95" cy="300.69" r="2.15" fill="#00ff00"/><circle cx="479.29" cy="300.89" r="2.15" fill="#00ff00"/><circle cx="482.64" cy="301.04" r="2.15" fill="#00ff00"/><circle cx="484.31" cy="301.10" r="2.15" fill="#00ff00"/><circle cx="485.98" cy="301.15" r="2.15" fill="#00ff00"/><circle cx="489.32" cy="301.24" r="2.15" fill="#00ff00"/><circle cx="492.66" cy="301.30" r="2.15" fill="#00ff00"/><circle cx="494.33" cy="301.34" r="2.15" fill="#00ff00"/><circle cx="496.00" cy="301.36" r="2.15" fill="#00ff00"/><circle cx="499.34" cy="301.43" r="2.15" fill="#00ff00"/><circle cx="502.68" cy="301.50" r="2.15" fill="#00ff00"/><circle cx="511.04" cy="301.70" r="2.15" fill="#00ff00"/><circle cx="519.39" cy="301.84" r="2.15" fill="#00ff00"/><circle cx="527.75" cy="301.95" r="2.15" fill="#00ff00"/><circle cx="536.10" cy="302.00" r="2.15" fill="#00ff00"/>
<path d="M352.32 42.61 L352.82 42.79 L353.32 42.98 L353.82 43.18 L354.32 43.40 L354.82 43.62 L355.32 43.86 L355.82 44.11 L356.32 44.39 L356.82 44.70 L357.32 45.02 L357.82 45.35 L358.32 45.68 L358.82 45.99 L359.32 46.28 L359.82 46.55 L360.32 46.81 L360.82 47.08 L361.32 47.35 L361.82 47.65 L362.32 47.98 L362.82 48.35 L363.32 48.74 L363.82 49.17 L364.32 49.62 L364.82 50.10 L365.32 50.60 L365.82 51.13 L366.32 51.71 L366.82 52.34 L367.32 53.00 L367.82 53.69 L368.32 54.40 L368.82 55.13 L369.32 55.87 L369.82 56.65 L370.32 57.45 L370.82 58.28 L371.32 59.12 L371.82 59.98 L372.32 60.83 L372.82 61.67 L373.32 62.52 L373.82 63.37 L374.32 64.24 L374.82 65.13 L375.32 66.06 L375.82 67.02 L376.32 68.01 L376.82 69.04 L377.32 70.16 L377.82 71.42 L378.32 72.87 L378.82 74.28 L379.32 75.49 L379.82 76.58 L380.32 77.71 L380.82 79.03 L381.32 80.64 L381.82 82.41 L382.32 84.15 L382.82 85.79 L383.32 87.38 L383.82 88.95 L384.32 90.54 L384.82 92.20 L385.32 93.96 L385.82 95.86 L386.32 98.00 L386.82 100.35 L387.32 102.77 L387.82 105.22 L388.32 107.74 L388.82 110.35 L389.32 113.06 L389.82 115.87 L390.32 118.79 L390.82 121.84 L391.32 125.05 L391.82 128.31 L392.32 131.47 L392.82 134.48 L393.32 137.60 L393.82 141.06 L394.32 145.38 L394.82 150.44 L395.32 155.05 L395.82 158.45 L396.32 161.27 L396.82 164.05 L397.32 167.31 L397.82 171.07 L398.32 175.31 L398.82 180.27 L399.32 186.33 L399.82 192.84 L400.32 199.79 L400.82 207.07 L401.32 214.81 L401.82 222.07 L402.32 228.81 L402.82 234.49 L403.32 239.19 L403.82 243.17 L404.32 246.06 L404.82 248.06 L405.32 249.71 L405.82 251.42 L406.32 253.21 L406.82 255.00 L407.32 256.78 L407.82 258.53 L408.32 260.26 L408.82 261.95 L409.32 263.64 L409.82 265.33 L410.32 266.99 L410.82 268.60 L411.32 270.13 L411.82 271.54 L412.32 272.87 L412.82 274.14 L413.32 275.35 L413.82 276.52 L414.32 277.63 L414.82 278.70 L415.32 279.73 L415.82 280.72 L416.32 281.68 L416.82 282.60 L417.32 283.50 L417.82 284.37 L418.32 285.20 L418.82 286.00 L419.32 286.77 L419.82 287.52 L420.32 288.25 L420.82 288.98 L421.32 289.70 L421.82 290.40 L422.32 291.09 L422.82 291.75 L423.32 292.39 L423.82 293.00 L424.32 293.58 L424.82 294.13 L425.32 294.63 L425.82 295.09 L426.32 295.52 L426.82 295.93 L427.32 296.33 L427.82 296.71 L428.32 297.07 L428.82 297.43 L429.32 297.76 L429.82 298.09 L430.32 298.39 L430.82 298.69 L431.32 298.97 L431.82 299.24 L432.32 299.49 L432.82 299.73 L433.32 299.95 L433.82 300.16 L434.32 300.37 L434.82 300.56 L435.32 300.75 L435.82 300.94 L436.32 301.11 L436.82 301.28 L437.32 301.44 L437.82 301.60 L438.32 301.75 L438.82 301.90 L439.32 302.04 L439.82 302.18 L440.32 302.32 L440.82 302.45 L441.32 302.58 L441.82 302.70 L442.32 302.83 L442.82 302.95 L443.32 303.07 L443.82 303.19 L444.32 303.31 L444.82 303.43 L445.32 303.54 L445.82 303.65 L446.32 303.76 L446.82 303.87 L447.32 303.97 L447.82 304.06 L448.32 304.15 L448.82 304.24 L449.32 304.32 L449.82 304.40 L450.32 304.46 L450.82 304.53 L451.32 304.59 L451.82 304.65 L452.32 304.70 L452.82 304.76 L453.32 304.82 L453.82 304.87 L454.32 304.92 L454.82 304.98 L455.32 305.03 L455.82 305.08 L456.32 305.12 L456.82 305.17 L457.32 305.22 L457.82 305.26 L458.32 305.31 L458.82 305.35 L459.32 305.39 L459.82 305.43 L460.32 305.47 L460.82 305.51 L461.32 305.54 L461.82 305.58 L462.32 305.61 L462.82 305.65 L463.32 305.68 L463.82 305.71 L464.32 305.74 L464.82 305.77 L465.32 305.79 L465.82 305.82 L466.32 305.85 L466.82 305.87 L467.32 305.89 L467.82 305.91 L468.32 305.94 L468.82 305.96 L469.32 305.98 L469.82 306.00 L470.32 306.02 L470.82 306.04 L471.32 306.06 L471.82 306.08 L472.32 306.10 L472.82 306.12 L473.32 306.14 L473.82 306.15 L474.32 306.17 L474.82 306.19 L475.32 306.20 L475.82 306.22 L476.32 306.24 L476.82 306.25 L477.32 306.27 L477.82 306.28 L478.32 306.29 L478.82 306.31 L479.32 306.32 L479.82 306.33 L480.32 306.34 L480.82 306.35 L481.32 306.36 L481.82 306.37 L482.32 306.38 L482.82 306.38 L483.32 306.39 L483.82 306.40 L484.32 306.40 L484.82 306.40 L485.32 306.41 L485.82 306.41 L486.32 306.42 L486.82 306.42 L487.32 306.43 L487.82 306.43 L488.32 306.43 L488.82 306.44 L489.32 306.44 L489.82 306.44 L490.32 306.45 L490.82 306.45 L491.32 306.46 L491.82 306.46 L492.32 306.46 L492.82 306.46 L493.32 306.47 L493.82 306.47 L494.32 306.47 L494.82 306.48 L495.32 306.48 L495.82 306.48 L496.32 306.48 L496.82 306.49 L497.32 306.49 L497.82 306.49 L498.32 306.49 L498.82 306.49 L499.32 306.49 L499.82 306.50 L500.32 306.50 L500.82 306.50 L501.32 306.50 L501.82 306.50 L502.32 306.50 L502.68 306.50" fill="none" stroke="#0000ff" stroke-width="0.80" stroke-dasharray="2.5 3.2"/>
<rect x="350.57" y="40.66" width="3.50" height="3.90" fill="none" stroke="#0000ff" stroke-width="0.85"/><rect x="353.91" y="42.08" width="3.50" height="3.90" fill="none" stroke="#0000ff" stroke-width="0.85"/><rect x="357.25" y="44.15" width="3.50" height="3.90" fill="none" stroke="#0000ff" stroke-width="0.85"/><rect x="360.59" y="46.05" width="3.50" height="3.90" fill="none" stroke="#0000ff" stroke-width="0.85"/><rect x="363.93" y="49.04" width="3.50" height="3.90" fill="none" stroke="#0000ff" stroke-width="0.85"/><rect x="367.27" y="53.48" width="3.50" height="3.90" fill="none" stroke="#0000ff" stroke-width="0.85"/><rect x="370.61" y="58.96" width="3.50" height="3.90" fill="none" stroke="#0000ff" stroke-width="0.85"/><rect x="373.96" y="64.86" width="3.50" height="3.90" fill="none" stroke="#0000ff" stroke-width="0.85"/><rect x="375.63" y="68.36" width="3.50" height="3.90" fill="none" stroke="#0000ff" stroke-width="0.85"/><rect x="377.30" y="72.92" width="3.50" height="3.90" fill="none" stroke="#0000ff" stroke-width="0.85"/><rect x="380.64" y="82.45" width="3.50" height="3.90" fill="none" stroke="#0000ff" stroke-width="0.85"/><rect x="383.98" y="93.58" width="3.50" height="3.90" fill="none" stroke="#0000ff" stroke-width="0.85"/><rect x="385.65" y="101.24" width="3.50" height="3.90" fill="none" stroke="#0000ff" stroke-width="0.85"/><rect x="387.32" y="109.78" width="3.50" height="3.90" fill="none" stroke="#0000ff" stroke-width="0.85"/><rect x="390.66" y="130.12" width="3.50" height="3.90" fill="none" stroke="#0000ff" stroke-width="0.85"/><rect x="392.33" y="141.28" width="3.50" height="3.90" fill="none" stroke="#0000ff" stroke-width="0.85"/><rect x="394.01" y="156.14" width="3.50" height="3.90" fill="none" stroke="#0000ff" stroke-width="0.85"/><rect x="397.35" y="181.63" width="3.50" height="3.90" fill="none" stroke="#0000ff" stroke-width="0.85"/><rect x="399.02" y="204.40" width="3.50" height="3.90" fill="none" stroke="#0000ff" stroke-width="0.85"/><rect x="400.69" y="228.40" width="3.50" height="3.90" fill="none" stroke="#0000ff" stroke-width="0.85"/><rect x="402.36" y="243.07" width="3.50" height="3.90" fill="none" stroke="#0000ff" stroke-width="0.85"/><rect x="404.03" y="249.34" width="3.50" height="3.90" fill="none" stroke="#0000ff" stroke-width="0.85"/><rect x="404.87" y="252.34" width="3.50" height="3.90" fill="none" stroke="#0000ff" stroke-width="0.85"/><rect x="405.70" y="255.30" width="3.50" height="3.90" fill="none" stroke="#0000ff" stroke-width="0.85"/><rect x="406.54" y="258.21" width="3.50" height="3.90" fill="none" stroke="#0000ff" stroke-width="0.85"/><rect x="407.37" y="261.03" width="3.50" height="3.90" fill="none" stroke="#0000ff" stroke-width="0.85"/><rect x="408.21" y="263.85" width="3.50" height="3.90" fill="none" stroke="#0000ff" stroke-width="0.85"/><rect x="409.04" y="266.58" width="3.50" height="3.90" fill="none" stroke="#0000ff" stroke-width="0.85"/><rect x="409.88" y="269.07" width="3.50" height="3.90" fill="none" stroke="#0000ff" stroke-width="0.85"/><rect x="410.71" y="271.30" width="3.50" height="3.90" fill="none" stroke="#0000ff" stroke-width="0.85"/><rect x="411.55" y="273.36" width="3.50" height="3.90" fill="none" stroke="#0000ff" stroke-width="0.85"/><rect x="412.38" y="275.28" width="3.50" height="3.90" fill="none" stroke="#0000ff" stroke-width="0.85"/><rect x="413.22" y="277.07" width="3.50" height="3.90" fill="none" stroke="#0000ff" stroke-width="0.85"/><rect x="414.05" y="278.75" width="3.50" height="3.90" fill="none" stroke="#0000ff" stroke-width="0.85"/><rect x="414.89" y="280.33" width="3.50" height="3.90" fill="none" stroke="#0000ff" stroke-width="0.85"/><rect x="415.73" y="281.83" width="3.50" height="3.90" fill="none" stroke="#0000ff" stroke-width="0.85"/><rect x="416.56" y="283.24" width="3.50" height="3.90" fill="none" stroke="#0000ff" stroke-width="0.85"/><rect x="417.40" y="284.57" width="3.50" height="3.90" fill="none" stroke="#0000ff" stroke-width="0.85"/><rect x="418.23" y="285.81" width="3.50" height="3.90" fill="none" stroke="#0000ff" stroke-width="0.85"/><rect x="419.07" y="287.03" width="3.50" height="3.90" fill="none" stroke="#0000ff" stroke-width="0.85"/><rect x="419.90" y="288.23" width="3.50" height="3.90" fill="none" stroke="#0000ff" stroke-width="0.85"/><rect x="420.74" y="289.37" width="3.50" height="3.90" fill="none" stroke="#0000ff" stroke-width="0.85"/><rect x="421.57" y="290.45" width="3.50" height="3.90" fill="none" stroke="#0000ff" stroke-width="0.85"/><rect x="422.41" y="291.46" width="3.50" height="3.90" fill="none" stroke="#0000ff" stroke-width="0.85"/><rect x="423.24" y="292.36" width="3.50" height="3.90" fill="none" stroke="#0000ff" stroke-width="0.85"/><rect x="424.08" y="293.16" width="3.50" height="3.90" fill="none" stroke="#0000ff" stroke-width="0.85"/><rect x="424.91" y="293.86" width="3.50" height="3.90" fill="none" stroke="#0000ff" stroke-width="0.85"/><rect x="425.75" y="294.52" width="3.50" height="3.90" fill="none" stroke="#0000ff" stroke-width="0.85"/><rect x="426.59" y="295.14" width="3.50" height="3.90" fill="none" stroke="#0000ff" stroke-width="0.85"/><rect x="427.42" y="295.72" width="3.50" height="3.90" fill="none" stroke="#0000ff" stroke-width="0.85"/><rect x="428.26" y="296.25" width="3.50" height="3.90" fill="none" stroke="#0000ff" stroke-width="0.85"/><rect x="429.09" y="296.75" width="3.50" height="3.90" fill="none" stroke="#0000ff" stroke-width="0.85"/><rect x="429.93" y="297.21" width="3.50" height="3.90" fill="none" stroke="#0000ff" stroke-width="0.85"/><rect x="430.76" y="297.63" width="3.50" height="3.90" fill="none" stroke="#0000ff" stroke-width="0.85"/><rect x="431.60" y="298.02" width="3.50" height="3.90" fill="none" stroke="#0000ff" stroke-width="0.85"/><rect x="432.43" y="298.37" width="3.50" height="3.90" fill="none" stroke="#0000ff" stroke-width="0.85"/><rect x="433.27" y="298.69" width="3.50" height="3.90" fill="none" stroke="#0000ff" stroke-width="0.85"/><rect x="434.10" y="299.00" width="3.50" height="3.90" fill="none" stroke="#0000ff" stroke-width="0.85"/><rect x="437.45" y="300.06" width="3.50" height="3.90" fill="none" stroke="#0000ff" stroke-width="0.85"/><rect x="440.79" y="300.93" width="3.50" height="3.90" fill="none" stroke="#0000ff" stroke-width="0.85"/><rect x="444.13" y="301.72" width="3.50" height="3.90" fill="none" stroke="#0000ff" stroke-width="0.85"/><rect x="447.47" y="302.36" width="3.50" height="3.90" fill="none" stroke="#0000ff" stroke-width="0.85"/><rect x="450.81" y="302.78" width="3.50" height="3.90" fill="none" stroke="#0000ff" stroke-width="0.85"/><rect x="454.15" y="303.14" width="3.50" height="3.90" fill="none" stroke="#0000ff" stroke-width="0.85"/><rect x="457.49" y="303.43" width="3.50" height="3.90" fill="none" stroke="#0000ff" stroke-width="0.85"/><rect x="460.84" y="303.68" width="3.50" height="3.90" fill="none" stroke="#0000ff" stroke-width="0.85"/><rect x="464.18" y="303.88" width="3.50" height="3.90" fill="none" stroke="#0000ff" stroke-width="0.85"/><rect x="467.52" y="304.03" width="3.50" height="3.90" fill="none" stroke="#0000ff" stroke-width="0.85"/><rect x="470.86" y="304.16" width="3.50" height="3.90" fill="none" stroke="#0000ff" stroke-width="0.85"/><rect x="474.20" y="304.27" width="3.50" height="3.90" fill="none" stroke="#0000ff" stroke-width="0.85"/><rect x="477.54" y="304.37" width="3.50" height="3.90" fill="none" stroke="#0000ff" stroke-width="0.85"/><rect x="480.89" y="304.43" width="3.50" height="3.90" fill="none" stroke="#0000ff" stroke-width="0.85"/><rect x="484.23" y="304.46" width="3.50" height="3.90" fill="none" stroke="#0000ff" stroke-width="0.85"/><rect x="487.57" y="304.49" width="3.50" height="3.90" fill="none" stroke="#0000ff" stroke-width="0.85"/><rect x="490.91" y="304.51" width="3.50" height="3.90" fill="none" stroke="#0000ff" stroke-width="0.85"/><rect x="494.25" y="304.53" width="3.50" height="3.90" fill="none" stroke="#0000ff" stroke-width="0.85"/><rect x="497.59" y="304.54" width="3.50" height="3.90" fill="none" stroke="#0000ff" stroke-width="0.85"/><rect x="500.93" y="304.55" width="3.50" height="3.90" fill="none" stroke="#0000ff" stroke-width="0.85"/>
<path d="M362.34 48.00 L362.84 48.36 L363.34 48.76 L363.84 49.19 L364.34 49.64 L364.84 50.12 L365.34 50.63 L365.84 51.16 L366.34 51.74 L366.84 52.37 L367.34 53.03 L367.84 53.72 L368.34 54.44 L368.84 55.17 L369.34 55.91 L369.84 56.68 L370.34 57.49 L370.84 58.32 L371.34 59.17 L371.84 60.02 L372.34 60.87 L372.84 61.71 L373.34 62.56 L373.84 63.41 L374.34 64.28 L374.84 65.18 L375.34 66.10 L375.84 67.07 L376.34 68.06 L376.84 69.10 L377.34 70.22 L377.84 71.49 L378.34 72.94 L378.84 74.34 L379.34 75.55 L379.84 76.64 L380.34 77.77 L380.84 79.10 L381.34 80.72 L381.84 82.49 L382.34 84.23 L382.84 85.87 L383.34 87.45 L383.84 89.02 L384.34 90.62 L384.84 92.28 L385.34 94.05 L385.84 95.96 L386.34 98.11 L386.84 100.47 L387.34 102.89 L387.84 105.34 L388.34 107.86 L388.84 110.48 L389.34 113.20 L389.84 116.02 L390.34 118.94 L390.84 122.00 L391.34 125.21 L391.84 128.47 L392.34 131.62 L392.84 134.63 L393.34 137.76 L393.84 141.24 L394.34 145.62 L394.84 150.69 L395.34 155.25 L395.84 158.56 L396.34 161.28 L396.84 164.07 L397.34 167.60 L397.84 172.19 L398.34 177.37 L398.84 182.92 L399.34 188.90 L399.84 194.77 L400.34 200.48 L400.84 206.75 L401.34 214.18 L401.84 221.91 L402.34 229.79 L402.84 236.81 L403.34 242.71 L403.84 247.53 L404.34 251.10 L404.84 254.09 L405.34 256.65 L405.84 258.91 L406.34 260.95 L406.84 262.80 L407.34 264.51 L407.84 266.12 L408.34 267.68 L408.84 269.22 L409.34 270.74 L409.84 272.20 L410.34 273.61 L410.84 274.98 L411.34 276.31 L411.84 277.60 L412.34 278.88 L412.84 280.14 L413.34 281.37 L413.84 282.57 L414.34 283.72 L414.84 284.83 L415.34 285.88 L415.84 286.89 L416.34 287.89 L416.84 288.88 L417.34 289.85 L417.84 290.78 L418.34 291.68 L418.84 292.52 L419.34 293.32 L419.84 294.04 L420.34 294.69 L420.84 295.27 L421.34 295.81 L421.84 296.31 L422.34 296.79 L422.84 297.24 L423.34 297.66 L423.84 298.06 L424.34 298.43 L424.84 298.79 L425.34 299.12 L425.84 299.44 L426.34 299.74 L426.84 300.04 L427.34 300.32 L427.84 300.60 L428.34 300.87 L428.84 301.12 L429.34 301.37 L429.84 301.61 L430.34 301.83 L430.84 302.05 L431.34 302.26 L431.84 302.45 L432.34 302.64 L432.84 302.81 L433.34 302.97 L433.84 303.13 L434.34 303.28 L434.84 303.42 L435.34 303.56 L435.84 303.70 L436.34 303.83 L436.84 303.96 L437.34 304.08 L437.84 304.20 L438.34 304.31 L438.84 304.42 L439.34 304.52 L439.84 304.62 L440.34 304.71 L440.84 304.80 L441.34 304.88 L441.84 304.95 L442.34 305.02 L442.84 305.09 L443.34 305.15 L443.84 305.21 L444.34 305.28 L444.84 305.34 L445.34 305.40 L445.84 305.46 L446.34 305.52 L446.84 305.57 L447.34 305.63 L447.84 305.68 L448.34 305.74 L448.84 305.79 L449.34 305.84 L449.84 305.89 L450.34 305.93 L450.84 305.98 L451.34 306.02 L451.84 306.07 L452.34 306.11 L452.84 306.15 L453.34 306.19 L453.84 306.22 L454.34 306.26 L454.84 306.29 L455.34 306.32 L455.84 306.35 L456.34 306.38 L456.84 306.41 L457.34 306.43 L457.84 306.45 L458.34 306.48 L458.84 306.49 L459.34 306.51 L459.84 306.53 L460.34 306.55 L460.84 306.56 L461.34 306.58 L461.84 306.60 L462.34 306.61 L462.84 306.63 L463.34 306.64 L463.84 306.66 L464.34 306.68 L464.84 306.69 L465.34 306.70 L465.84 306.72 L466.34 306.73 L466.84 306.75 L467.34 306.76 L467.84 306.77 L468.34 306.78 L468.84 306.79 L469.34 306.80 L469.84 306.82 L470.34 306.83 L470.84 306.83 L471.34 306.84 L471.84 306.85 L472.34 306.86 L472.84 306.87 L473.34 306.87 L473.84 306.88 L474.34 306.88 L474.84 306.89 L475.34 306.89 L475.84 306.90 L475.95 306.90" fill="none" stroke="#ff00ff" stroke-width="0.75" stroke-dasharray="1.1 1.8"/>
<rect x="360.34" y="46.00" width="4.00" height="4.00" fill="#ff00ff"/><rect x="363.68" y="48.99" width="4.00" height="4.00" fill="#ff00ff"/><rect x="367.02" y="53.43" width="4.00" height="4.00" fill="#ff00ff"/><rect x="370.36" y="58.91" width="4.00" height="4.00" fill="#ff00ff"/><rect x="373.71" y="64.81" width="4.00" height="4.00" fill="#ff00ff"/><rect x="377.05" y="72.87" width="4.00" height="4.00" fill="#ff00ff"/><rect x="380.39" y="82.40" width="4.00" height="4.00" fill="#ff00ff"/><rect x="383.73" y="93.53" width="4.00" height="4.00" fill="#ff00ff"/><rect x="387.07" y="109.73" width="4.00" height="4.00" fill="#ff00ff"/><rect x="390.41" y="130.07" width="4.00" height="4.00" fill="#ff00ff"/><rect x="393.76" y="156.06" width="4.00" height="4.00" fill="#ff00ff"/><rect x="397.10" y="183.98" width="4.00" height="4.00" fill="#ff00ff"/><rect x="398.77" y="203.78" width="4.00" height="4.00" fill="#ff00ff"/><rect x="400.44" y="229.29" width="4.00" height="4.00" fill="#ff00ff"/><rect x="402.11" y="247.54" width="4.00" height="4.00" fill="#ff00ff"/><rect x="403.78" y="256.65" width="4.00" height="4.00" fill="#ff00ff"/><rect x="404.62" y="259.99" width="4.00" height="4.00" fill="#ff00ff"/><rect x="405.45" y="262.88" width="4.00" height="4.00" fill="#ff00ff"/><rect x="406.29" y="265.51" width="4.00" height="4.00" fill="#ff00ff"/><rect x="407.12" y="268.09" width="4.00" height="4.00" fill="#ff00ff"/><rect x="407.96" y="270.54" width="4.00" height="4.00" fill="#ff00ff"/><rect x="408.79" y="272.85" width="4.00" height="4.00" fill="#ff00ff"/><rect x="409.63" y="275.06" width="4.00" height="4.00" fill="#ff00ff"/><rect x="410.46" y="277.19" width="4.00" height="4.00" fill="#ff00ff"/><rect x="411.30" y="279.27" width="4.00" height="4.00" fill="#ff00ff"/><rect x="412.13" y="281.25" width="4.00" height="4.00" fill="#ff00ff"/><rect x="412.97" y="283.11" width="4.00" height="4.00" fill="#ff00ff"/><rect x="413.80" y="284.82" width="4.00" height="4.00" fill="#ff00ff"/><rect x="414.64" y="286.49" width="4.00" height="4.00" fill="#ff00ff"/><rect x="415.48" y="288.10" width="4.00" height="4.00" fill="#ff00ff"/><rect x="416.31" y="289.63" width="4.00" height="4.00" fill="#ff00ff"/><rect x="417.15" y="291.02" width="4.00" height="4.00" fill="#ff00ff"/><rect x="417.98" y="292.23" width="4.00" height="4.00" fill="#ff00ff"/><rect x="418.82" y="293.24" width="4.00" height="4.00" fill="#ff00ff"/><rect x="419.65" y="294.12" width="4.00" height="4.00" fill="#ff00ff"/><rect x="420.49" y="294.92" width="4.00" height="4.00" fill="#ff00ff"/><rect x="421.32" y="295.65" width="4.00" height="4.00" fill="#ff00ff"/><rect x="422.16" y="296.30" width="4.00" height="4.00" fill="#ff00ff"/><rect x="422.99" y="296.89" width="4.00" height="4.00" fill="#ff00ff"/><rect x="423.83" y="297.43" width="4.00" height="4.00" fill="#ff00ff"/><rect x="424.66" y="297.94" width="4.00" height="4.00" fill="#ff00ff"/><rect x="425.50" y="298.41" width="4.00" height="4.00" fill="#ff00ff"/><rect x="426.34" y="298.86" width="4.00" height="4.00" fill="#ff00ff"/><rect x="427.17" y="299.29" width="4.00" height="4.00" fill="#ff00ff"/><rect x="428.01" y="299.68" width="4.00" height="4.00" fill="#ff00ff"/><rect x="428.84" y="300.05" width="4.00" height="4.00" fill="#ff00ff"/><rect x="429.68" y="300.39" width="4.00" height="4.00" fill="#ff00ff"/><rect x="430.51" y="300.70" width="4.00" height="4.00" fill="#ff00ff"/><rect x="431.35" y="300.97" width="4.00" height="4.00" fill="#ff00ff"/><rect x="432.18" y="301.23" width="4.00" height="4.00" fill="#ff00ff"/><rect x="433.02" y="301.47" width="4.00" height="4.00" fill="#ff00ff"/><rect x="433.85" y="301.70" width="4.00" height="4.00" fill="#ff00ff"/><rect x="437.20" y="302.49" width="4.00" height="4.00" fill="#ff00ff"/><rect x="440.54" y="303.05" width="4.00" height="4.00" fill="#ff00ff"/><rect x="443.88" y="303.46" width="4.00" height="4.00" fill="#ff00ff"/><rect x="447.22" y="303.83" width="4.00" height="4.00" fill="#ff00ff"/><rect x="450.56" y="304.13" width="4.00" height="4.00" fill="#ff00ff"/><rect x="453.90" y="304.36" width="4.00" height="4.00" fill="#ff00ff"/><rect x="457.24" y="304.51" width="4.00" height="4.00" fill="#ff00ff"/><rect x="460.59" y="304.62" width="4.00" height="4.00" fill="#ff00ff"/><rect x="463.93" y="304.72" width="4.00" height="4.00" fill="#ff00ff"/><rect x="467.27" y="304.80" width="4.00" height="4.00" fill="#ff00ff"/><rect x="470.61" y="304.86" width="4.00" height="4.00" fill="#ff00ff"/><rect x="473.95" y="304.90" width="4.00" height="4.00" fill="#ff00ff"/>
<path d="M362.34 48.00 L362.84 48.36 L363.34 48.76 L363.84 49.19 L364.34 49.64 L364.84 50.12 L365.34 50.63 L365.84 51.16 L366.34 51.74 L366.84 52.37 L367.34 53.03 L367.84 53.72 L368.34 54.44 L368.84 55.17 L369.34 55.91 L369.84 56.68 L370.34 57.49 L370.84 58.32 L371.34 59.17 L371.84 60.02 L372.34 60.87 L372.84 61.71 L373.34 62.56 L373.84 63.41 L374.34 64.28 L374.84 65.18 L375.34 66.10 L375.84 67.07 L376.34 68.06 L376.84 69.10 L377.34 70.22 L377.84 71.49 L378.34 72.94 L378.84 74.34 L379.34 75.55 L379.84 76.64 L380.34 77.77 L380.84 79.10 L381.34 80.72 L381.84 82.49 L382.34 84.23 L382.84 85.87 L383.34 87.45 L383.84 89.02 L384.34 90.62 L384.84 92.28 L385.34 94.05 L385.84 95.96 L386.34 98.11 L386.84 100.47 L387.34 102.89 L387.84 105.34 L388.34 107.86 L388.84 110.48 L389.34 113.20 L389.84 116.02 L390.34 118.94 L390.84 122.00 L391.34 125.21 L391.84 128.47 L392.34 131.62 L392.84 134.63 L393.34 137.76 L393.84 141.24 L394.34 145.62 L394.84 150.69 L395.34 155.25 L395.84 158.51 L396.34 161.13 L396.84 163.93 L397.34 167.74 L397.84 173.41 L398.34 179.82 L398.84 186.85 L399.34 194.01 L399.84 201.59 L400.34 208.09 L400.84 212.34 L401.34 215.73 L401.84 219.43 L402.34 223.40 L402.84 227.77 L403.34 232.97 L403.84 238.61 L404.34 244.01 L404.84 249.53 L405.34 254.28 L405.84 257.43 L406.34 259.93 L406.84 262.06 L407.34 264.04 L407.84 266.09 L408.34 268.15 L408.84 270.16 L409.34 272.08 L409.84 273.88 L410.34 275.55 L410.84 277.10 L411.34 278.55 L411.84 279.93 L412.34 281.28 L412.84 282.62 L413.34 283.99 L413.84 285.45 L414.34 286.87 L414.84 288.09 L415.34 288.98 L415.84 289.72 L416.34 290.36 L416.84 290.95 L417.34 291.56 L417.84 292.23 L418.34 292.93 L418.84 293.66 L419.34 294.41 L419.84 295.14 L420.34 295.87 L420.84 296.56 L421.34 297.22 L421.84 297.82 L422.34 298.35 L422.84 298.81 L423.34 299.24 L423.84 299.64 L424.34 300.02 L424.84 300.38 L425.34 300.71 L425.84 301.03 L426.34 301.33 L426.84 301.61 L427.34 301.88 L427.84 302.14 L428.34 302.38 L428.84 302.63 L429.34 302.86 L429.84 303.09 L430.34 303.31 L430.84 303.51 L431.34 303.71 L431.84 303.90 L432.34 304.07 L432.84 304.23 L433.34 304.37 L433.84 304.50 L434.34 304.62 L434.84 304.73 L435.34 304.84 L435.84 304.95 L436.34 305.05 L436.84 305.15 L437.34 305.25 L437.84 305.34 L438.34 305.42 L438.84 305.50 L439.34 305.58 L439.84 305.65 L440.34 305.71 L440.84 305.77 L441.34 305.82 L441.84 305.87 L442.34 305.91 L442.84 305.95 L443.34 305.99 L443.84 306.02 L444.34 306.06 L444.84 306.09 L445.34 306.13 L445.84 306.16 L446.34 306.19 L446.84 306.22 L447.34 306.25 L447.84 306.28 L448.34 306.30 L448.84 306.33 L449.34 306.36 L449.84 306.38 L450.34 306.40 L450.84 306.43 L451.34 306.45 L451.84 306.47 L452.34 306.49 L452.84 306.51 L453.34 306.53 L453.84 306.55 L454.34 306.56 L454.84 306.58 L455.34 306.60 L455.84 306.61 L456.34 306.63 L456.84 306.64 L457.34 306.66 L457.84 306.67 L458.34 306.68 L458.84 306.70 L459.34 306.71 L459.84 306.72 L460.34 306.73 L460.84 306.74 L461.34 306.76 L461.84 306.77 L462.34 306.78 L462.84 306.79 L463.34 306.80 L463.84 306.81 L464.34 306.83 L464.84 306.84 L465.34 306.85 L465.84 306.86 L466.34 306.87 L466.84 306.88 L467.34 306.89 L467.84 306.90 L468.34 306.91 L468.84 306.92 L469.34 306.92 L469.84 306.93 L470.34 306.94 L470.84 306.95 L471.34 306.95 L471.84 306.96 L472.34 306.97 L472.84 306.97 L473.34 306.98 L473.84 306.98 L474.34 306.99 L474.84 306.99 L475.34 306.99 L475.84 307.00 L475.95 307.00" fill="none" stroke="#000000" stroke-width="0.60" stroke-dasharray="6.9 2.3 1.1 2.3"/>
<path d="M362.34 46.26 L364.09 49.16 L360.59 49.16 Z" fill="#000" fill-opacity="0.3" stroke="#000000" stroke-width="0.85"/><path d="M365.68 49.25 L367.43 52.15 L363.93 52.15 Z" fill="#000" fill-opacity="0.3" stroke="#000000" stroke-width="0.85"/><path d="M369.02 53.69 L370.77 56.59 L367.27 56.59 Z" fill="#000" fill-opacity="0.3" stroke="#000000" stroke-width="0.85"/><path d="M372.36 59.17 L374.11 62.07 L370.61 62.07 Z" fill="#000" fill-opacity="0.3" stroke="#000000" stroke-width="0.85"/><path d="M375.71 65.07 L377.46 67.97 L373.96 67.97 Z" fill="#000" fill-opacity="0.3" stroke="#000000" stroke-width="0.85"/><path d="M379.05 73.13 L380.80 76.03 L377.30 76.03 Z" fill="#000" fill-opacity="0.3" stroke="#000000" stroke-width="0.85"/><path d="M382.39 82.66 L384.14 85.56 L380.64 85.56 Z" fill="#000" fill-opacity="0.3" stroke="#000000" stroke-width="0.85"/><path d="M385.73 93.79 L387.48 96.69 L383.98 96.69 Z" fill="#000" fill-opacity="0.3" stroke="#000000" stroke-width="0.85"/><path d="M389.07 109.99 L390.82 112.89 L387.32 112.89 Z" fill="#000" fill-opacity="0.3" stroke="#000000" stroke-width="0.85"/><path d="M392.41 130.33 L394.16 133.23 L390.66 133.23 Z" fill="#000" fill-opacity="0.3" stroke="#000000" stroke-width="0.85"/><path d="M395.76 156.28 L397.51 159.18 L394.01 159.18 Z" fill="#000" fill-opacity="0.3" stroke="#000000" stroke-width="0.85"/><path d="M399.10 188.81 L400.85 191.71 L397.35 191.71 Z" fill="#000" fill-opacity="0.3" stroke="#000000" stroke-width="0.85"/><path d="M400.77 210.07 L402.52 212.97 L399.02 212.97 Z" fill="#000" fill-opacity="0.3" stroke="#000000" stroke-width="0.85"/><path d="M402.44 222.48 L404.19 225.38 L400.69 225.38 Z" fill="#000" fill-opacity="0.3" stroke="#000000" stroke-width="0.85"/><path d="M404.11 239.83 L405.86 242.73 L402.36 242.73 Z" fill="#000" fill-opacity="0.3" stroke="#000000" stroke-width="0.85"/><path d="M405.78 255.35 L407.53 258.25 L404.03 258.25 Z" fill="#000" fill-opacity="0.3" stroke="#000000" stroke-width="0.85"/><path d="M406.62 259.39 L408.37 262.29 L404.87 262.29 Z" fill="#000" fill-opacity="0.3" stroke="#000000" stroke-width="0.85"/><path d="M407.45 262.74 L409.20 265.64 L405.70 265.64 Z" fill="#000" fill-opacity="0.3" stroke="#000000" stroke-width="0.85"/><path d="M408.29 266.19 L410.04 269.09 L406.54 269.09 Z" fill="#000" fill-opacity="0.3" stroke="#000000" stroke-width="0.85"/><path d="M409.12 269.51 L410.87 272.41 L407.37 272.41 Z" fill="#000" fill-opacity="0.3" stroke="#000000" stroke-width="0.85"/><path d="M409.96 272.55 L411.71 275.45 L408.21 275.45 Z" fill="#000" fill-opacity="0.3" stroke="#000000" stroke-width="0.85"/><path d="M410.79 275.22 L412.54 278.12 L409.04 278.12 Z" fill="#000" fill-opacity="0.3" stroke="#000000" stroke-width="0.85"/><path d="M411.63 277.61 L413.38 280.51 L409.88 280.51 Z" fill="#000" fill-opacity="0.3" stroke="#000000" stroke-width="0.85"/><path d="M412.46 279.87 L414.21 282.77 L410.71 282.77 Z" fill="#000" fill-opacity="0.3" stroke="#000000" stroke-width="0.85"/><path d="M413.30 282.13 L415.05 285.03 L411.55 285.03 Z" fill="#000" fill-opacity="0.3" stroke="#000000" stroke-width="0.85"/><path d="M414.13 284.56 L415.88 287.46 L412.38 287.46 Z" fill="#000" fill-opacity="0.3" stroke="#000000" stroke-width="0.85"/><path d="M414.97 286.60 L416.72 289.50 L413.22 289.50 Z" fill="#000" fill-opacity="0.3" stroke="#000000" stroke-width="0.85"/><path d="M415.80 287.93 L417.55 290.83 L414.05 290.83 Z" fill="#000" fill-opacity="0.3" stroke="#000000" stroke-width="0.85"/><path d="M416.64 288.98 L418.39 291.88 L414.89 291.88 Z" fill="#000" fill-opacity="0.3" stroke="#000000" stroke-width="0.85"/><path d="M417.48 290.00 L419.23 292.90 L415.73 292.90 Z" fill="#000" fill-opacity="0.3" stroke="#000000" stroke-width="0.85"/><path d="M418.31 291.15 L420.06 294.05 L416.56 294.05 Z" fill="#000" fill-opacity="0.3" stroke="#000000" stroke-width="0.85"/><path d="M419.15 292.38 L420.90 295.28 L417.40 295.28 Z" fill="#000" fill-opacity="0.3" stroke="#000000" stroke-width="0.85"/><path d="M419.98 293.61 L421.73 296.51 L418.23 296.51 Z" fill="#000" fill-opacity="0.3" stroke="#000000" stroke-width="0.85"/><path d="M420.82 294.79 L422.57 297.69 L419.07 297.69 Z" fill="#000" fill-opacity="0.3" stroke="#000000" stroke-width="0.85"/><path d="M421.65 295.86 L423.40 298.76 L419.90 298.76 Z" fill="#000" fill-opacity="0.3" stroke="#000000" stroke-width="0.85"/><path d="M422.49 296.76 L424.24 299.66 L420.74 299.66 Z" fill="#000" fill-opacity="0.3" stroke="#000000" stroke-width="0.85"/><path d="M423.32 297.49 L425.07 300.39 L421.57 300.39 Z" fill="#000" fill-opacity="0.3" stroke="#000000" stroke-width="0.85"/><path d="M424.16 298.15 L425.91 301.05 L422.41 301.05 Z" fill="#000" fill-opacity="0.3" stroke="#000000" stroke-width="0.85"/><path d="M424.99 298.74 L426.74 301.64 L423.24 301.64 Z" fill="#000" fill-opacity="0.3" stroke="#000000" stroke-width="0.85"/><path d="M425.83 299.28 L427.58 302.18 L424.08 302.18 Z" fill="#000" fill-opacity="0.3" stroke="#000000" stroke-width="0.85"/><path d="M426.66 299.78 L428.41 302.68 L424.91 302.68 Z" fill="#000" fill-opacity="0.3" stroke="#000000" stroke-width="0.85"/><path d="M427.50 300.22 L429.25 303.12 L425.75 303.12 Z" fill="#000" fill-opacity="0.3" stroke="#000000" stroke-width="0.85"/><path d="M428.34 300.64 L430.09 303.54 L426.59 303.54 Z" fill="#000" fill-opacity="0.3" stroke="#000000" stroke-width="0.85"/><path d="M429.17 301.04 L430.92 303.94 L427.42 303.94 Z" fill="#000" fill-opacity="0.3" stroke="#000000" stroke-width="0.85"/><path d="M430.01 301.42 L431.76 304.32 L428.26 304.32 Z" fill="#000" fill-opacity="0.3" stroke="#000000" stroke-width="0.85"/><path d="M430.84 301.77 L432.59 304.67 L429.09 304.67 Z" fill="#000" fill-opacity="0.3" stroke="#000000" stroke-width="0.85"/><path d="M431.68 302.10 L433.43 305.00 L429.93 305.00 Z" fill="#000" fill-opacity="0.3" stroke="#000000" stroke-width="0.85"/><path d="M432.51 302.38 L434.26 305.28 L430.76 305.28 Z" fill="#000" fill-opacity="0.3" stroke="#000000" stroke-width="0.85"/><path d="M433.35 302.63 L435.10 305.53 L431.60 305.53 Z" fill="#000" fill-opacity="0.3" stroke="#000000" stroke-width="0.85"/><path d="M434.18 302.84 L435.93 305.74 L432.43 305.74 Z" fill="#000" fill-opacity="0.3" stroke="#000000" stroke-width="0.85"/><path d="M435.02 303.03 L436.77 305.93 L433.27 305.93 Z" fill="#000" fill-opacity="0.3" stroke="#000000" stroke-width="0.85"/><path d="M435.85 303.21 L437.60 306.11 L434.10 306.11 Z" fill="#000" fill-opacity="0.3" stroke="#000000" stroke-width="0.85"/><path d="M439.20 303.82 L440.95 306.72 L437.45 306.72 Z" fill="#000" fill-opacity="0.3" stroke="#000000" stroke-width="0.85"/><path d="M442.54 304.19 L444.29 307.09 L440.79 307.09 Z" fill="#000" fill-opacity="0.3" stroke="#000000" stroke-width="0.85"/><path d="M445.88 304.42 L447.63 307.32 L444.13 307.32 Z" fill="#000" fill-opacity="0.3" stroke="#000000" stroke-width="0.85"/><path d="M449.22 304.61 L450.97 307.51 L447.47 307.51 Z" fill="#000" fill-opacity="0.3" stroke="#000000" stroke-width="0.85"/><path d="M452.56 304.76 L454.31 307.66 L450.81 307.66 Z" fill="#000" fill-opacity="0.3" stroke="#000000" stroke-width="0.85"/><path d="M455.90 304.88 L457.65 307.78 L454.15 307.78 Z" fill="#000" fill-opacity="0.3" stroke="#000000" stroke-width="0.85"/><path d="M459.24 304.97 L460.99 307.87 L457.49 307.87 Z" fill="#000" fill-opacity="0.3" stroke="#000000" stroke-width="0.85"/><path d="M462.59 305.05 L464.34 307.95 L460.84 307.95 Z" fill="#000" fill-opacity="0.3" stroke="#000000" stroke-width="0.85"/><path d="M465.93 305.12 L467.68 308.02 L464.18 308.02 Z" fill="#000" fill-opacity="0.3" stroke="#000000" stroke-width="0.85"/><path d="M469.27 305.18 L471.02 308.08 L467.52 308.08 Z" fill="#000" fill-opacity="0.3" stroke="#000000" stroke-width="0.85"/><path d="M472.61 305.23 L474.36 308.13 L470.86 308.13 Z" fill="#000" fill-opacity="0.3" stroke="#000000" stroke-width="0.85"/><path d="M475.95 305.26 L477.70 308.16 L474.20 308.16 Z" fill="#000" fill-opacity="0.3" stroke="#000000" stroke-width="0.85"/>
<rect x="318.90" y="11.60" width="217.20" height="299.60" fill="none" stroke="#000" stroke-width="1.4"/>
<path d="M369.02 311.20 V304.00 M369.02 11.60 V18.80 M452.56 311.20 V304.00 M452.56 11.60 V18.80 M318.90 39.00 H326.10 M536.10 39.00 H528.90 M318.90 107.10 H326.10 M536.10 107.10 H528.90 M318.90 175.20 H326.10 M536.10 175.20 H528.90 M318.90 243.20 H326.10 M536.10 243.20 H528.90" fill="none" stroke="#000" stroke-width="0.9"/>
<path d="M458.60 101.40 H501.30" fill="none" stroke="#ff0000" stroke-width="0.65"/>
<circle cx="479.95" cy="101.40" r="1.85" fill="none" stroke="#ff0000" stroke-width="0.9"/>
<path d="M458.60 117.75 H501.30" fill="none" stroke="#00ff00" stroke-width="0.70" stroke-dasharray="4.6 2.3"/>
<circle cx="479.95" cy="117.75" r="2.15" fill="#00ff00"/>
<path d="M458.60 134.10 H501.30" fill="none" stroke="#0000ff" stroke-width="0.80" stroke-dasharray="2.5 3.2"/>
<rect x="478.20" y="132.15" width="3.50" height="3.90" fill="none" stroke="#0000ff" stroke-width="0.85"/>
<path d="M458.60 150.45 H501.30" fill="none" stroke="#ff00ff" stroke-width="0.75" stroke-dasharray="1.1 1.8"/>
<rect x="477.95" y="148.45" width="4.00" height="4.00" fill="#ff00ff"/>
<path d="M458.60 166.80 H501.30" fill="none" stroke="#000" stroke-width="0.60" stroke-dasharray="6.9 2.3 1.1 2.3"/>
<path d="M479.95 165.06 L481.70 167.96 L478.20 167.96 Z" fill="#000" fill-opacity="0.3" stroke="#000000" stroke-width="0.85"/>
</g>
<g id="panel-c">
<rect x="687.10" y="11.60" width="20.10" height="299.60" fill="#ffff00"/>
<path d="M597.90 33.90 L598.40 33.90 L598.90 33.90 L599.40 33.90 L599.90 33.90 L600.40 33.90 L600.90 33.90 L601.40 33.90 L601.90 33.90 L602.40 33.91 L602.90 33.91 L603.40 33.91 L603.90 33.91 L604.40 33.91 L604.90 33.92 L605.40 33.92 L605.90 33.92 L606.40 33.92 L606.90 33.93 L607.40 33.93 L607.90 33.93 L608.40 33.93 L608.90 33.94 L609.40 33.94 L609.90 33.95 L610.40 33.95 L610.90 33.95 L611.40 33.96 L611.90 33.96 L612.40 33.97 L612.90 33.97 L613.40 33.98 L613.90 33.98 L614.40 33.99 L614.90 33.99 L615.40 34.00 L615.90 34.00 L616.40 34.01 L616.90 34.02 L617.40 34.02 L617.90 34.03 L618.40 34.04 L618.90 34.04 L619.40 34.05 L619.90 34.06 L620.40 34.06 L620.90 34.07 L621.40 34.08 L621.90 34.09 L622.40 34.10 L622.90 34.10 L623.40 34.12 L623.90 34.14 L624.40 34.16 L624.90 34.19 L625.40 34.22 L625.90 34.25 L626.40 34.29 L626.90 34.32 L627.40 34.36 L627.90 34.40 L628.40 34.44 L628.90 34.48 L629.40 34.52 L629.90 34.56 L630.40 34.59 L630.90 34.63 L631.40 34.66 L631.90 34.69 L632.40 34.72 L632.90 34.74 L633.40 34.77 L633.90 34.80 L634.40 34.83 L634.90 34.86 L635.40 34.89 L635.90 34.92 L636.40 34.95 L636.90 34.98 L637.40 35.02 L637.90 35.06 L638.40 35.11 L638.90 35.16 L639.40 35.21 L639.90 35.26 L640.40 35.33 L640.90 35.41 L641.40 35.53 L641.90 35.66 L642.40 35.81 L642.90 35.98 L643.40 36.16 L643.90 36.36 L644.40 36.55 L644.90 36.76 L645.40 36.96 L645.90 37.16 L646.40 37.35 L646.90 37.54 L647.40 37.72 L647.90 37.90 L648.40 38.09 L648.90 38.27 L649.40 38.46 L649.90 38.65 L650.40 38.85 L650.90 39.06 L651.40 39.27 L651.90 39.49 L652.40 39.71 L652.90 39.95 L653.40 40.19 L653.90 40.45 L654.40 40.71 L654.90 40.99 L655.40 41.27 L655.90 41.56 L656.40 41.87 L656.90 42.18 L657.40 42.50 L657.90 42.82 L658.40 43.16 L658.90 43.50 L659.40 43.86 L659.90 44.24 L660.40 44.63 L660.90 45.04 L661.40 45.47 L661.90 45.91 L662.40 46.37 L662.90 46.88 L663.40 47.40 L663.90 47.93 L664.40 48.44 L664.90 48.91 L665.40 49.34 L665.90 49.74 L666.40 50.12 L666.90 50.49 L667.40 50.86 L667.90 51.23 L668.40 51.59 L668.90 51.95 L669.40 52.30 L669.90 52.66 L670.40 53.03 L670.90 53.42 L671.40 53.82 L671.90 54.23 L672.40 54.66 L672.90 55.14 L673.40 55.68 L673.90 56.36 L674.40 57.21 L674.90 58.16 L675.40 59.10 L675.90 59.96 L676.40 60.76 L676.90 61.53 L677.40 62.29 L677.90 63.04 L678.40 63.81 L678.90 64.59 L679.40 65.38 L679.90 66.17 L680.40 66.97 L680.90 67.76 L681.40 68.54 L681.90 69.31 L682.40 70.06 L682.90 70.79 L683.40 71.49 L683.90 72.16 L684.40 72.81 L684.90 73.43 L685.40 74.04 L685.90 74.63 L686.40 75.21 L686.90 75.78 L687.40 76.35 L687.90 76.91 L688.40 77.48 L688.90 78.05 L689.40 78.63 L689.90 79.22 L690.40 79.82 L690.90 80.42 L691.40 81.02 L691.90 81.63 L692.40 82.24 L692.90 82.85 L693.40 83.45 L693.90 84.05 L694.40 84.65 L694.90 85.25 L695.40 85.83 L695.90 86.42 L696.40 86.99 L696.90 87.57 L697.40 88.14 L697.90 88.71 L698.40 89.27 L698.90 89.83 L699.40 90.39 L699.90 90.94 L700.40 91.49 L700.90 92.03 L701.40 92.57 L701.90 93.11 L702.40 93.62 L702.90 94.11 L703.40 94.58 L703.90 95.04 L704.40 95.51 L704.90 95.98 L705.40 96.47 L705.90 96.99 L706.40 97.54 L706.90 98.12 L707.40 98.77 L707.90 99.52 L708.40 100.35 L708.90 101.20 L709.40 102.00 L709.90 102.76 L710.40 103.51 L710.90 104.26 L711.40 104.99 L711.90 105.72 L712.40 106.44 L712.90 107.16 L713.40 107.87 L713.90 108.58 L714.40 109.28 L714.90 109.97 L715.40 110.65 L715.90 111.31 L716.40 111.98 L716.90 112.65 L717.40 113.32 L717.90 114.00 L718.40 114.70 L718.90 115.40 L719.40 116.08 L719.90 116.77 L720.40 117.46 L720.90 118.17 L721.40 118.90 L721.90 119.67 L722.40 120.49 L722.90 121.36 L723.40 122.36 L723.90 123.45 L724.40 124.55 L724.90 125.61 L725.40 126.57 L725.90 127.47 L726.40 128.34 L726.90 129.19 L727.40 130.05 L727.90 130.92 L728.40 131.81 L728.90 132.75 L729.40 133.70 L729.90 134.68 L730.40 135.66 L730.90 136.66 L731.40 137.68 L731.90 138.71 L732.40 139.76 L732.90 140.84 L733.40 141.94 L733.90 143.04 L734.40 144.13 L734.90 145.21 L735.40 146.27 L735.90 147.32 L736.40 148.36 L736.90 149.41 L737.40 150.47 L737.90 151.57 L738.40 152.70 L738.90 153.91 L739.40 155.18 L739.90 156.49 L740.40 157.80 L740.90 159.07 L741.40 160.27 L741.90 161.38 L742.40 162.44 L742.90 163.47 L743.40 164.46 L743.90 165.44 L744.40 166.42 L744.90 167.40 L745.40 168.40 L745.90 169.39 L746.40 170.37 L746.90 171.34 L747.40 172.32 L747.90 173.31 L748.40 174.30 L748.90 175.30 L749.40 176.33 L749.90 177.36 L750.40 178.41 L750.90 179.45 L751.40 180.48 L751.90 181.50 L752.40 182.49 L752.90 183.45 L753.40 184.40 L753.90 185.34 L754.40 186.30 L754.90 187.28 L755.40 188.30 L755.90 189.39 L756.40 190.56 L756.90 191.75 L757.40 192.92 L757.90 194.01 L758.40 194.98 L758.90 195.86 L759.40 196.67 L759.90 197.45 L760.40 198.19 L760.90 198.92 L761.40 199.65 L761.90 200.40 L762.40 201.16 L762.90 201.93 L763.40 202.69 L763.90 203.45 L764.40 204.19 L764.90 204.91 L765.40 205.60 L765.90 206.26 L766.40 206.90 L766.90 207.52 L767.40 208.13 L767.90 208.74 L768.40 209.35 L768.90 209.97 L769.40 210.62 L769.90 211.28 L770.40 211.96 L770.90 212.64 L771.40 213.30 L771.90 213.94 L772.40 214.55 L772.90 215.12 L773.40 215.65 L773.90 216.15 L774.40 216.64 L774.90 217.12 L775.40 217.60 L775.90 218.10 L776.40 218.59 L776.90 219.08 L777.40 219.58 L777.90 220.07 L778.40 220.59 L778.90 221.12 L779.40 221.68 L779.90 222.26 L780.40 222.86 L780.90 223.44 L781.40 223.99 L781.90 224.50 L782.40 224.98 L782.90 225.44 L783.40 225.90 L783.90 226.34 L784.40 226.78 L784.90 227.20 L785.40 227.62 L785.90 228.03 L786.40 228.43 L786.90 228.82 L787.40 229.20 L787.90 229.58 L788.40 229.95 L788.90 230.31 L789.40 230.67 L789.90 231.02 L790.40 231.37 L790.90 231.71 L791.40 232.05 L791.90 232.38 L792.40 232.71 L792.90 233.03 L793.40 233.35 L793.90 233.66 L794.40 233.97 L794.90 234.27 L795.40 234.57 L795.90 234.85 L796.40 235.14 L796.90 235.41 L797.40 235.68 L797.90 235.94 L798.40 236.20 L798.90 236.45 L799.40 236.69 L799.90 236.92 L800.40 237.14 L800.90 237.36 L801.40 237.58 L801.90 237.79 L802.40 237.99 L802.90 238.20 L803.40 238.40 L803.90 238.60 L804.40 238.80 L804.90 239.00 L805.40 239.20 L805.90 239.40 L806.40 239.61 L806.90 239.81 L807.40 240.03 L807.90 240.24 L808.40 240.46 L808.90 240.67 L809.40 240.88 L809.90 241.10 L810.40 241.31 L810.90 241.53 L811.40 241.74 L811.90 241.96 L812.40 242.18 L812.90 242.39 L813.40 242.61 L813.90 242.82 L814.40 243.04 L814.90 243.26 L815.00 243.30" fill="none" stroke="#ff0000" stroke-width="0.65"/>
<circle cx="597.90" cy="33.90" r="1.85" fill="none" stroke="#ff0000" stroke-width="0.9"/><circle cx="606.25" cy="33.92" r="1.85" fill="none" stroke="#ff0000" stroke-width="0.9"/><circle cx="614.60" cy="33.99" r="1.85" fill="none" stroke="#ff0000" stroke-width="0.9"/><circle cx="622.95" cy="34.10" r="1.85" fill="none" stroke="#ff0000" stroke-width="0.9"/><circle cx="631.30" cy="34.65" r="1.85" fill="none" stroke="#ff0000" stroke-width="0.9"/><circle cx="632.97" cy="34.75" r="1.85" fill="none" stroke="#ff0000" stroke-width="0.9"/><circle cx="634.64" cy="34.84" r="1.85" fill="none" stroke="#ff0000" stroke-width="0.9"/><circle cx="636.31" cy="34.94" r="1.85" fill="none" stroke="#ff0000" stroke-width="0.9"/><circle cx="637.98" cy="35.07" r="1.85" fill="none" stroke="#ff0000" stroke-width="0.9"/><circle cx="639.65" cy="35.23" r="1.85" fill="none" stroke="#ff0000" stroke-width="0.9"/><circle cx="641.32" cy="35.51" r="1.85" fill="none" stroke="#ff0000" stroke-width="0.9"/><circle cx="642.99" cy="36.01" r="1.85" fill="none" stroke="#ff0000" stroke-width="0.9"/><circle cx="644.66" cy="36.66" r="1.85" fill="none" stroke="#ff0000" stroke-width="0.9"/><circle cx="646.33" cy="37.32" r="1.85" fill="none" stroke="#ff0000" stroke-width="0.9"/><circle cx="648.00" cy="37.94" r="1.85" fill="none" stroke="#ff0000" stroke-width="0.9"/><circle cx="649.67" cy="38.57" r="1.85" fill="none" stroke="#ff0000" stroke-width="0.9"/><circle cx="651.34" cy="39.24" r="1.85" fill="none" stroke="#ff0000" stroke-width="0.9"/><circle cx="653.01" cy="40.00" r="1.85" fill="none" stroke="#ff0000" stroke-width="0.9"/><circle cx="654.68" cy="40.87" r="1.85" fill="none" stroke="#ff0000" stroke-width="0.9"/><circle cx="656.35" cy="41.84" r="1.85" fill="none" stroke="#ff0000" stroke-width="0.9"/><circle cx="658.02" cy="42.90" r="1.85" fill="none" stroke="#ff0000" stroke-width="0.9"/><circle cx="659.69" cy="44.07" r="1.85" fill="none" stroke="#ff0000" stroke-width="0.9"/><circle cx="661.36" cy="45.44" r="1.85" fill="none" stroke="#ff0000" stroke-width="0.9"/><circle cx="663.03" cy="47.01" r="1.85" fill="none" stroke="#ff0000" stroke-width="0.9"/><circle cx="664.70" cy="48.73" r="1.85" fill="none" stroke="#ff0000" stroke-width="0.9"/><circle cx="666.37" cy="50.10" r="1.85" fill="none" stroke="#ff0000" stroke-width="0.9"/><circle cx="668.04" cy="51.33" r="1.85" fill="none" stroke="#ff0000" stroke-width="0.9"/><circle cx="669.71" cy="52.52" r="1.85" fill="none" stroke="#ff0000" stroke-width="0.9"/><circle cx="671.38" cy="53.81" r="1.85" fill="none" stroke="#ff0000" stroke-width="0.9"/><circle cx="673.05" cy="55.29" r="1.85" fill="none" stroke="#ff0000" stroke-width="0.9"/><circle cx="674.72" cy="57.81" r="1.85" fill="none" stroke="#ff0000" stroke-width="0.9"/><circle cx="676.39" cy="60.74" r="1.85" fill="none" stroke="#ff0000" stroke-width="0.9"/><circle cx="678.06" cy="63.29" r="1.85" fill="none" stroke="#ff0000" stroke-width="0.9"/><circle cx="679.73" cy="65.90" r="1.85" fill="none" stroke="#ff0000" stroke-width="0.9"/><circle cx="681.40" cy="68.54" r="1.85" fill="none" stroke="#ff0000" stroke-width="0.9"/><circle cx="683.07" cy="71.03" r="1.85" fill="none" stroke="#ff0000" stroke-width="0.9"/><circle cx="684.74" cy="73.24" r="1.85" fill="none" stroke="#ff0000" stroke-width="0.9"/><circle cx="686.41" cy="75.22" r="1.85" fill="none" stroke="#ff0000" stroke-width="0.9"/><circle cx="688.08" cy="77.11" r="1.85" fill="none" stroke="#ff0000" stroke-width="0.9"/><circle cx="689.75" cy="79.04" r="1.85" fill="none" stroke="#ff0000" stroke-width="0.9"/><circle cx="691.42" cy="81.05" r="1.85" fill="none" stroke="#ff0000" stroke-width="0.9"/><circle cx="693.09" cy="83.08" r="1.85" fill="none" stroke="#ff0000" stroke-width="0.9"/><circle cx="694.76" cy="85.08" r="1.85" fill="none" stroke="#ff0000" stroke-width="0.9"/><circle cx="696.43" cy="87.03" r="1.85" fill="none" stroke="#ff0000" stroke-width="0.9"/><circle cx="698.10" cy="88.93" r="1.85" fill="none" stroke="#ff0000" stroke-width="0.9"/><circle cx="699.77" cy="90.80" r="1.85" fill="none" stroke="#ff0000" stroke-width="0.9"/><circle cx="701.44" cy="92.62" r="1.85" fill="none" stroke="#ff0000" stroke-width="0.9"/><circle cx="703.11" cy="94.31" r="1.85" fill="none" stroke="#ff0000" stroke-width="0.9"/><circle cx="704.78" cy="95.87" r="1.85" fill="none" stroke="#ff0000" stroke-width="0.9"/><circle cx="706.45" cy="97.59" r="1.85" fill="none" stroke="#ff0000" stroke-width="0.9"/><circle cx="708.12" cy="99.88" r="1.85" fill="none" stroke="#ff0000" stroke-width="0.9"/><circle cx="711.46" cy="105.08" r="1.85" fill="none" stroke="#ff0000" stroke-width="0.9"/><circle cx="714.80" cy="109.83" r="1.85" fill="none" stroke="#ff0000" stroke-width="0.9"/><circle cx="718.14" cy="114.34" r="1.85" fill="none" stroke="#ff0000" stroke-width="0.9"/><circle cx="721.48" cy="119.02" r="1.85" fill="none" stroke="#ff0000" stroke-width="0.9"/><circle cx="723.15" cy="121.85" r="1.85" fill="none" stroke="#ff0000" stroke-width="0.9"/><circle cx="724.82" cy="125.44" r="1.85" fill="none" stroke="#ff0000" stroke-width="0.9"/><circle cx="728.16" cy="131.38" r="1.85" fill="none" stroke="#ff0000" stroke-width="0.9"/><circle cx="731.50" cy="137.88" r="1.85" fill="none" stroke="#ff0000" stroke-width="0.9"/><circle cx="734.84" cy="145.09" r="1.85" fill="none" stroke="#ff0000" stroke-width="0.9"/><circle cx="738.18" cy="152.20" r="1.85" fill="none" stroke="#ff0000" stroke-width="0.9"/><circle cx="741.52" cy="160.54" r="1.85" fill="none" stroke="#ff0000" stroke-width="0.9"/><circle cx="744.86" cy="167.32" r="1.85" fill="none" stroke="#ff0000" stroke-width="0.9"/><circle cx="748.20" cy="173.90" r="1.85" fill="none" stroke="#ff0000" stroke-width="0.9"/><circle cx="751.54" cy="180.77" r="1.85" fill="none" stroke="#ff0000" stroke-width="0.9"/><circle cx="754.88" cy="187.24" r="1.85" fill="none" stroke="#ff0000" stroke-width="0.9"/><circle cx="756.55" cy="190.92" r="1.85" fill="none" stroke="#ff0000" stroke-width="0.9"/><circle cx="758.22" cy="194.65" r="1.85" fill="none" stroke="#ff0000" stroke-width="0.9"/><circle cx="759.89" cy="197.43" r="1.85" fill="none" stroke="#ff0000" stroke-width="0.9"/><circle cx="761.56" cy="199.89" r="1.85" fill="none" stroke="#ff0000" stroke-width="0.9"/><circle cx="764.90" cy="204.91" r="1.85" fill="none" stroke="#ff0000" stroke-width="0.9"/><circle cx="768.24" cy="209.15" r="1.85" fill="none" stroke="#ff0000" stroke-width="0.9"/><circle cx="771.58" cy="213.54" r="1.85" fill="none" stroke="#ff0000" stroke-width="0.9"/><circle cx="773.25" cy="215.50" r="1.85" fill="none" stroke="#ff0000" stroke-width="0.9"/><circle cx="774.92" cy="217.14" r="1.85" fill="none" stroke="#ff0000" stroke-width="0.9"/><circle cx="776.59" cy="218.78" r="1.85" fill="none" stroke="#ff0000" stroke-width="0.9"/><circle cx="778.26" cy="220.44" r="1.85" fill="none" stroke="#ff0000" stroke-width="0.9"/><circle cx="781.60" cy="224.20" r="1.85" fill="none" stroke="#ff0000" stroke-width="0.9"/><circle cx="789.95" cy="231.06" r="1.85" fill="none" stroke="#ff0000" stroke-width="0.9"/><circle cx="798.30" cy="236.15" r="1.85" fill="none" stroke="#ff0000" stroke-width="0.9"/><circle cx="806.65" cy="239.71" r="1.85" fill="none" stroke="#ff0000" stroke-width="0.9"/><circle cx="815.00" cy="243.30" r="1.85" fill="none" stroke="#ff0000" stroke-width="0.9"/>
<path d="M597.90 33.90 L598.40 33.90 L598.90 33.90 L599.40 33.90 L599.90 33.90 L600.40 33.90 L600.90 33.90 L601.40 33.90 L601.90 33.90 L602.40 33.91 L602.90 33.91 L603.40 33.91 L603.90 33.91 L604.40 33.91 L604.90 33.92 L605.40 33.92 L605.90 33.92 L606.40 33.92 L606.90 33.93 L607.40 33.93 L607.90 33.93 L608.40 33.93 L608.90 33.94 L609.40 33.94 L609.90 33.95 L610.40 33.95 L610.90 33.95 L611.40 33.96 L611.90 33.96 L612.40 33.97 L612.90 33.97 L613.40 33.98 L613.90 33.98 L614.40 33.99 L614.90 33.99 L615.40 34.00 L615.90 34.00 L616.40 34.01 L616.90 34.02 L617.40 34.02 L617.90 34.03 L618.40 34.04 L618.90 34.04 L619.40 34.05 L619.90 34.06 L620.40 34.06 L620.90 34.07 L621.40 34.08 L621.90 34.09 L622.40 34.10 L622.90 34.10 L623.40 34.12 L623.90 34.14 L624.40 34.16 L624.90 34.19 L625.40 34.22 L625.90 34.25 L626.40 34.29 L626.90 34.32 L627.40 34.36 L627.90 34.40 L628.40 34.44 L628.90 34.48 L629.40 34.52 L629.90 34.56 L630.40 34.59 L630.90 34.63 L631.40 34.66 L631.90 34.69 L632.40 34.72 L632.90 34.74 L633.40 34.77 L633.90 34.80 L634.40 34.83 L634.90 34.86 L635.40 34.89 L635.90 34.92 L636.40 34.95 L636.90 34.98 L637.40 35.02 L637.90 35.06 L638.40 35.11 L638.90 35.16 L639.40 35.21 L639.90 35.26 L640.40 35.33 L640.90 35.41 L641.40 35.53 L641.90 35.66 L642.40 35.81 L642.90 35.98 L643.40 36.16 L643.90 36.36 L644.40 36.55 L644.90 36.76 L645.40 36.96 L645.90 37.16 L646.40 37.35 L646.90 37.54 L647.40 37.72 L647.90 37.90 L648.40 38.09 L648.90 38.27 L649.40 38.46 L649.90 38.65 L650.40 38.85 L650.90 39.06 L651.40 39.27 L651.90 39.49 L652.40 39.71 L652.90 39.95 L653.40 40.19 L653.90 40.44 L654.40 40.70 L654.90 40.96 L655.40 41.24 L655.90 41.52 L656.40 41.82 L656.90 42.13 L657.40 42.45 L657.90 42.78 L658.40 43.13 L658.90 43.50 L659.40 43.90 L659.90 44.33 L660.40 44.80 L660.90 45.29 L661.40 45.81 L661.90 46.34 L662.40 46.88 L662.90 47.43 L663.40 47.97 L663.90 48.52 L664.40 49.07 L664.90 49.62 L665.40 50.20 L665.90 50.78 L666.40 51.38 L666.90 51.99 L667.40 52.63 L667.90 53.29 L668.40 53.99 L668.90 54.70 L669.40 55.42 L669.90 56.14 L670.40 56.86 L670.90 57.55 L671.40 58.23 L671.90 58.89 L672.40 59.54 L672.90 60.19 L673.40 60.85 L673.90 61.54 L674.40 62.24 L674.90 62.98 L675.40 63.77 L675.90 64.60 L676.40 65.52 L676.90 66.52 L677.40 67.60 L677.90 68.73 L678.40 69.89 L678.90 71.05 L679.40 72.18 L679.90 73.28 L680.40 74.32 L680.90 75.35 L681.40 76.37 L681.90 77.37 L682.40 78.37 L682.90 79.35 L683.40 80.32 L683.90 81.28 L684.40 82.24 L684.90 83.18 L685.40 84.12 L685.90 85.05 L686.40 85.97 L686.90 86.88 L687.40 87.78 L687.90 88.67 L688.40 89.55 L688.90 90.42 L689.40 91.28 L689.90 92.13 L690.40 92.97 L690.90 93.80 L691.40 94.62 L691.90 95.44 L692.40 96.25 L692.90 97.05 L693.40 97.84 L693.90 98.63 L694.40 99.39 L694.90 100.15 L695.40 100.90 L695.90 101.64 L696.40 102.38 L696.90 103.12 L697.40 103.86 L697.90 104.62 L698.40 105.39 L698.90 106.17 L699.40 106.98 L699.90 107.80 L700.40 108.64 L700.90 109.47 L701.40 110.31 L701.90 111.14 L702.40 111.95 L702.90 112.74 L703.40 113.50 L703.90 114.23 L704.40 114.94 L704.90 115.63 L705.40 116.32 L705.90 117.00 L706.40 117.70 L706.90 118.39 L707.40 119.06 L707.90 119.72 L708.40 120.40 L708.90 121.10 L709.40 121.86 L709.90 122.67 L710.40 123.57 L710.90 124.54 L711.40 125.57 L711.90 126.63 L712.40 127.71 L712.90 128.78 L713.40 129.83 L713.90 130.86 L714.40 131.90 L714.90 132.95 L715.40 134.02 L715.90 135.13 L716.40 136.28 L716.90 137.49 L717.40 138.76 L717.90 140.09 L718.40 141.46 L718.90 142.88 L719.40 144.32 L719.90 145.80 L720.40 147.33 L720.90 148.93 L721.40 150.57 L721.90 152.21 L722.40 153.83 L722.90 155.41 L723.40 156.94 L723.90 158.44 L724.40 159.95 L724.90 161.50 L725.40 163.06 L725.90 164.61 L726.40 166.24 L726.90 168.02 L727.40 170.11 L727.90 172.43 L728.40 174.52 L728.90 176.49 L729.40 178.37 L729.90 180.22 L730.40 182.04 L730.90 183.87 L731.40 185.74 L731.90 187.66 L732.40 189.65 L732.90 191.66 L733.40 193.67 L733.90 195.65 L734.40 197.57 L734.90 199.40 L735.40 201.13 L735.90 202.79 L736.40 204.41 L736.90 205.99 L737.40 207.56 L737.90 209.13 L738.40 210.72 L738.90 212.34 L739.40 213.94 L739.90 215.50 L740.40 217.01 L740.90 218.49 L741.40 219.93 L741.90 221.36 L742.40 222.80 L742.90 224.24 L743.40 225.65 L743.90 227.02 L744.40 228.31 L744.90 229.50 L745.40 230.60 L745.90 231.63 L746.40 232.61 L746.90 233.55 L747.40 234.47 L747.90 235.38 L748.40 236.30 L748.90 237.23 L749.40 238.17 L749.90 239.09 L750.40 239.99 L750.90 240.87 L751.40 241.71 L751.90 242.51 L752.40 243.28 L752.90 244.00 L753.40 244.71 L753.90 245.41 L754.40 246.09 L754.90 246.78 L755.40 247.48 L755.90 248.20 L756.40 248.92 L756.90 249.63 L757.40 250.32 L757.90 250.96 L758.40 251.55 L758.90 252.11 L759.40 252.65 L759.90 253.16 L760.40 253.66 L760.90 254.15 L761.40 254.62 L761.90 255.08 L762.40 255.53 L762.90 255.96 L763.40 256.38 L763.90 256.79 L764.40 257.21 L764.90 257.63 L765.40 258.06 L765.90 258.51 L766.40 258.97 L766.90 259.43 L767.40 259.88 L767.90 260.30 L768.40 260.70 L768.90 261.07 L769.40 261.42 L769.90 261.76 L770.40 262.09 L770.90 262.41 L771.40 262.72 L771.90 263.04 L772.40 263.35 L772.90 263.67 L773.40 263.98 L773.90 264.28 L774.40 264.58 L774.90 264.87 L775.40 265.16 L775.90 265.43 L776.40 265.69 L776.90 265.95 L777.40 266.20 L777.90 266.45 L778.40 266.70 L778.90 266.95 L779.40 267.20 L779.90 267.45 L780.40 267.70 L780.90 267.94 L781.40 268.17 L781.90 268.40 L782.40 268.62 L782.90 268.85 L783.40 269.07 L783.90 269.28 L784.40 269.50 L784.90 269.72 L785.40 269.93 L785.90 270.14 L786.40 270.34 L786.90 270.55 L787.40 270.74 L787.90 270.94 L788.40 271.13 L788.90 271.31 L789.40 271.49 L789.90 271.66 L790.40 271.83 L790.90 272.00 L791.40 272.16 L791.90 272.31 L792.40 272.46 L792.90 272.61 L793.40 272.75 L793.90 272.90 L794.40 273.04 L794.90 273.17 L795.40 273.31 L795.90 273.44 L796.40 273.57 L796.90 273.71 L797.40 273.84 L797.90 273.97 L798.40 274.10 L798.90 274.23 L799.40 274.35 L799.90 274.48 L800.40 274.61 L800.90 274.73 L801.40 274.86 L801.90 274.98 L802.40 275.10 L802.90 275.22 L803.40 275.34 L803.90 275.46 L804.40 275.58 L804.90 275.69 L805.40 275.81 L805.90 275.93 L806.40 276.04 L806.90 276.15 L807.40 276.27 L807.90 276.38 L808.40 276.49 L808.90 276.60 L809.40 276.71 L809.90 276.82 L810.40 276.93 L810.90 277.04 L811.40 277.15 L811.90 277.26 L812.40 277.36 L812.90 277.47 L813.40 277.57 L813.90 277.68 L814.40 277.78 L814.90 277.88 L815.00 277.90" fill="none" stroke="#00ff00" stroke-width="0.70" stroke-dasharray="4.6 2.3"/>
<circle cx="597.90" cy="33.90" r="2.15" fill="#00ff00"/><circle cx="606.25" cy="33.92" r="2.15" fill="#00ff00"/><circle cx="614.60" cy="33.99" r="2.15" fill="#00ff00"/><circle cx="622.95" cy="34.10" r="2.15" fill="#00ff00"/><circle cx="631.30" cy="34.65" r="2.15" fill="#00ff00"/><circle cx="632.97" cy="34.75" r="2.15" fill="#00ff00"/><circle cx="634.64" cy="34.84" r="2.15" fill="#00ff00"/><circle cx="636.31" cy="34.94" r="2.15" fill="#00ff00"/><circle cx="637.98" cy="35.07" r="2.15" fill="#00ff00"/><circle cx="639.65" cy="35.23" r="2.15" fill="#00ff00"/><circle cx="641.32" cy="35.51" r="2.15" fill="#00ff00"/><circle cx="642.99" cy="36.01" r="2.15" fill="#00ff00"/><circle cx="644.66" cy="36.66" r="2.15" fill="#00ff00"/><circle cx="646.33" cy="37.32" r="2.15" fill="#00ff00"/><circle cx="648.00" cy="37.94" r="2.15" fill="#00ff00"/><circle cx="649.67" cy="38.57" r="2.15" fill="#00ff00"/><circle cx="651.34" cy="39.24" r="2.15" fill="#00ff00"/><circle cx="653.01" cy="40.00" r="2.15" fill="#00ff00"/><circle cx="654.68" cy="40.84" r="2.15" fill="#00ff00"/><circle cx="656.35" cy="41.79" r="2.15" fill="#00ff00"/><circle cx="658.02" cy="42.87" r="2.15" fill="#00ff00"/><circle cx="659.69" cy="44.14" r="2.15" fill="#00ff00"/><circle cx="661.36" cy="45.76" r="2.15" fill="#00ff00"/><circle cx="663.03" cy="47.57" r="2.15" fill="#00ff00"/><circle cx="664.70" cy="49.40" r="2.15" fill="#00ff00"/><circle cx="666.37" cy="51.34" r="2.15" fill="#00ff00"/><circle cx="668.04" cy="53.48" r="2.15" fill="#00ff00"/><circle cx="669.71" cy="55.87" r="2.15" fill="#00ff00"/><circle cx="671.38" cy="58.20" r="2.15" fill="#00ff00"/><circle cx="673.05" cy="60.39" r="2.15" fill="#00ff00"/><circle cx="674.72" cy="62.71" r="2.15" fill="#00ff00"/><circle cx="676.39" cy="65.50" r="2.15" fill="#00ff00"/><circle cx="678.06" cy="69.10" r="2.15" fill="#00ff00"/><circle cx="679.73" cy="72.91" r="2.15" fill="#00ff00"/><circle cx="681.40" cy="76.37" r="2.15" fill="#00ff00"/><circle cx="683.07" cy="79.68" r="2.15" fill="#00ff00"/><circle cx="684.74" cy="82.88" r="2.15" fill="#00ff00"/><circle cx="686.41" cy="85.99" r="2.15" fill="#00ff00"/><circle cx="688.08" cy="88.99" r="2.15" fill="#00ff00"/><circle cx="689.75" cy="91.87" r="2.15" fill="#00ff00"/><circle cx="691.42" cy="94.66" r="2.15" fill="#00ff00"/><circle cx="693.09" cy="97.35" r="2.15" fill="#00ff00"/><circle cx="694.76" cy="99.94" r="2.15" fill="#00ff00"/><circle cx="696.43" cy="102.42" r="2.15" fill="#00ff00"/><circle cx="698.10" cy="104.93" r="2.15" fill="#00ff00"/><circle cx="699.77" cy="107.59" r="2.15" fill="#00ff00"/><circle cx="701.44" cy="110.38" r="2.15" fill="#00ff00"/><circle cx="703.11" cy="113.06" r="2.15" fill="#00ff00"/><circle cx="704.78" cy="115.47" r="2.15" fill="#00ff00"/><circle cx="706.45" cy="117.77" r="2.15" fill="#00ff00"/><circle cx="708.12" cy="120.02" r="2.15" fill="#00ff00"/><circle cx="711.46" cy="125.69" r="2.15" fill="#00ff00"/><circle cx="714.80" cy="132.74" r="2.15" fill="#00ff00"/><circle cx="718.14" cy="140.74" r="2.15" fill="#00ff00"/><circle cx="721.48" cy="150.83" r="2.15" fill="#00ff00"/><circle cx="724.82" cy="161.25" r="2.15" fill="#00ff00"/><circle cx="728.16" cy="173.55" r="2.15" fill="#00ff00"/><circle cx="731.50" cy="186.12" r="2.15" fill="#00ff00"/><circle cx="734.84" cy="199.19" r="2.15" fill="#00ff00"/><circle cx="738.18" cy="210.02" r="2.15" fill="#00ff00"/><circle cx="739.85" cy="215.35" r="2.15" fill="#00ff00"/><circle cx="741.52" cy="220.27" r="2.15" fill="#00ff00"/><circle cx="744.86" cy="229.41" r="2.15" fill="#00ff00"/><circle cx="748.20" cy="235.93" r="2.15" fill="#00ff00"/><circle cx="751.54" cy="241.94" r="2.15" fill="#00ff00"/><circle cx="754.88" cy="246.75" r="2.15" fill="#00ff00"/><circle cx="758.22" cy="251.34" r="2.15" fill="#00ff00"/><circle cx="761.56" cy="254.77" r="2.15" fill="#00ff00"/><circle cx="764.90" cy="257.63" r="2.15" fill="#00ff00"/><circle cx="768.24" cy="260.58" r="2.15" fill="#00ff00"/><circle cx="771.58" cy="262.83" r="2.15" fill="#00ff00"/><circle cx="774.92" cy="264.89" r="2.15" fill="#00ff00"/><circle cx="778.26" cy="266.63" r="2.15" fill="#00ff00"/><circle cx="781.60" cy="268.26" r="2.15" fill="#00ff00"/><circle cx="789.95" cy="271.68" r="2.15" fill="#00ff00"/><circle cx="798.30" cy="274.07" r="2.15" fill="#00ff00"/><circle cx="806.65" cy="276.10" r="2.15" fill="#00ff00"/><circle cx="815.00" cy="277.90" r="2.15" fill="#00ff00"/>
<path d="M631.30 34.65 L631.80 34.68 L632.30 34.71 L632.80 34.74 L633.30 34.77 L633.80 34.79 L634.30 34.82 L634.80 34.85 L635.30 34.88 L635.80 34.91 L636.30 34.94 L636.80 34.98 L637.30 35.01 L637.80 35.05 L638.30 35.10 L638.80 35.15 L639.30 35.20 L639.80 35.25 L640.30 35.31 L640.80 35.39 L641.30 35.50 L641.80 35.63 L642.30 35.78 L642.80 35.95 L643.30 36.13 L643.80 36.32 L644.30 36.51 L644.80 36.71 L645.30 36.92 L645.80 37.12 L646.30 37.31 L646.80 37.50 L647.30 37.68 L647.80 37.86 L648.30 38.05 L648.80 38.23 L649.30 38.42 L649.80 38.62 L650.30 38.81 L650.80 39.02 L651.30 39.23 L651.80 39.44 L652.30 39.67 L652.80 39.90 L653.30 40.14 L653.80 40.39 L654.30 40.64 L654.80 40.91 L655.30 41.18 L655.80 41.46 L656.30 41.76 L656.80 42.06 L657.30 42.38 L657.80 42.71 L658.30 43.06 L658.80 43.43 L659.30 43.81 L659.80 44.24 L660.30 44.70 L660.80 45.19 L661.30 45.70 L661.80 46.23 L662.30 46.77 L662.80 47.32 L663.30 47.87 L663.80 48.41 L664.30 48.95 L664.80 49.50 L665.30 50.06 L665.80 50.63 L666.30 51.23 L666.80 51.85 L667.30 52.50 L667.80 53.20 L668.30 53.94 L668.80 54.73 L669.30 55.53 L669.80 56.35 L670.30 57.17 L670.80 57.98 L671.30 58.77 L671.80 59.56 L672.30 60.35 L672.80 61.16 L673.30 62.00 L673.80 62.88 L674.30 63.81 L674.80 64.81 L675.30 65.88 L675.80 67.04 L676.30 68.27 L676.80 69.55 L677.30 70.89 L677.80 72.26 L678.30 73.67 L678.80 75.10 L679.30 76.63 L679.80 78.26 L680.30 79.92 L680.80 81.56 L681.30 83.09 L681.80 84.60 L682.30 86.09 L682.80 87.54 L683.30 88.94 L683.80 90.27 L684.30 91.50 L684.80 92.66 L685.30 93.76 L685.80 94.80 L686.30 95.79 L686.80 96.75 L687.30 97.65 L687.80 98.48 L688.30 99.29 L688.80 100.16 L689.30 101.09 L689.80 102.06 L690.30 103.05 L690.80 104.07 L691.30 105.09 L691.80 106.12 L692.30 107.13 L692.80 108.13 L693.30 109.11 L693.80 110.06 L694.30 111.00 L694.80 111.92 L695.30 112.84 L695.80 113.76 L696.30 114.67 L696.80 115.58 L697.30 116.48 L697.80 117.39 L698.30 118.30 L698.80 119.21 L699.30 120.13 L699.80 121.05 L700.30 121.96 L700.80 122.88 L701.30 123.79 L701.80 124.69 L702.30 125.59 L702.80 126.47 L703.30 127.35 L703.80 128.19 L704.30 129.02 L704.80 129.83 L705.30 130.65 L705.80 131.48 L706.30 132.32 L706.80 133.21 L707.30 134.13 L707.80 135.09 L708.30 136.09 L708.80 137.11 L709.30 138.16 L709.80 139.23 L710.30 140.34 L710.80 141.47 L711.30 142.62 L711.80 143.79 L712.30 144.97 L712.80 146.19 L713.30 147.47 L713.80 148.83 L714.30 150.30 L714.80 151.94 L715.30 153.75 L715.80 155.70 L716.30 157.74 L716.80 159.87 L717.30 162.11 L717.80 164.47 L718.30 166.95 L718.80 169.57 L719.30 172.45 L719.80 175.53 L720.30 178.73 L720.80 181.98 L721.30 185.20 L721.80 188.31 L722.30 191.38 L722.80 194.42 L723.30 197.41 L723.80 200.35 L724.30 203.24 L724.80 206.06 L725.30 208.77 L725.80 211.39 L726.30 213.96 L726.80 216.47 L727.30 218.94 L727.80 221.37 L728.30 223.78 L728.80 226.18 L729.30 228.59 L729.80 231.01 L730.30 233.38 L730.80 235.68 L731.30 237.86 L731.80 239.89 L732.30 241.82 L732.80 243.69 L733.30 245.47 L733.80 247.18 L734.30 248.80 L734.80 250.33 L735.30 251.76 L735.80 253.10 L736.30 254.37 L736.80 255.58 L737.30 256.74 L737.80 257.86 L738.30 258.96 L738.80 260.06 L739.30 261.15 L739.80 262.23 L740.30 263.27 L740.80 264.25 L741.30 265.15 L741.80 265.95 L742.30 266.66 L742.80 267.32 L743.30 267.92 L743.80 268.50 L744.30 269.07 L744.80 269.63 L745.30 270.22 L745.80 270.82 L746.30 271.41 L746.80 272.01 L747.30 272.59 L747.80 273.15 L748.30 273.69 L748.80 274.20 L749.30 274.69 L749.80 275.15 L750.30 275.60 L750.80 276.04 L751.30 276.48 L751.80 276.91 L752.30 277.35 L752.80 277.80 L753.30 278.24 L753.80 278.67 L754.30 279.09 L754.80 279.49 L755.30 279.87 L755.80 280.24 L756.30 280.59 L756.80 280.93 L757.30 281.25 L757.80 281.57 L758.30 281.88 L758.80 282.18 L759.30 282.47 L759.80 282.75 L760.30 283.02 L760.80 283.28 L761.30 283.54 L761.80 283.80 L762.30 284.05 L762.80 284.30 L763.30 284.54 L763.80 284.77 L764.30 285.00 L764.80 285.23 L765.30 285.46 L765.80 285.68 L766.30 285.91 L766.80 286.13 L767.30 286.35 L767.80 286.56 L768.30 286.75 L768.80 286.94 L769.30 287.10 L769.80 287.26 L770.30 287.41 L770.80 287.55 L771.30 287.69 L771.80 287.84 L772.30 287.99 L772.80 288.15 L773.30 288.32 L773.80 288.48 L774.30 288.63 L774.80 288.78 L775.30 288.90 L775.80 289.01 L776.30 289.10 L776.80 289.19 L777.30 289.27 L777.80 289.35 L778.30 289.44 L778.80 289.54 L779.30 289.64 L779.80 289.74 L780.30 289.85 L780.80 289.96 L781.30 290.07 L781.60 290.13" fill="none" stroke="#0000ff" stroke-width="0.80" stroke-dasharray="2.5 3.2"/>
<rect x="629.55" y="32.70" width="3.50" height="3.90" fill="none" stroke="#0000ff" stroke-width="0.85"/><rect x="631.22" y="32.80" width="3.50" height="3.90" fill="none" stroke="#0000ff" stroke-width="0.85"/><rect x="632.89" y="32.89" width="3.50" height="3.90" fill="none" stroke="#0000ff" stroke-width="0.85"/><rect x="634.56" y="32.99" width="3.50" height="3.90" fill="none" stroke="#0000ff" stroke-width="0.85"/><rect x="636.23" y="33.12" width="3.50" height="3.90" fill="none" stroke="#0000ff" stroke-width="0.85"/><rect x="637.90" y="33.28" width="3.50" height="3.90" fill="none" stroke="#0000ff" stroke-width="0.85"/><rect x="639.57" y="33.56" width="3.50" height="3.90" fill="none" stroke="#0000ff" stroke-width="0.85"/><rect x="641.24" y="34.06" width="3.50" height="3.90" fill="none" stroke="#0000ff" stroke-width="0.85"/><rect x="642.91" y="34.71" width="3.50" height="3.90" fill="none" stroke="#0000ff" stroke-width="0.85"/><rect x="644.58" y="35.37" width="3.50" height="3.90" fill="none" stroke="#0000ff" stroke-width="0.85"/><rect x="646.25" y="35.99" width="3.50" height="3.90" fill="none" stroke="#0000ff" stroke-width="0.85"/><rect x="647.92" y="36.62" width="3.50" height="3.90" fill="none" stroke="#0000ff" stroke-width="0.85"/><rect x="649.59" y="37.29" width="3.50" height="3.90" fill="none" stroke="#0000ff" stroke-width="0.85"/><rect x="651.26" y="38.05" width="3.50" height="3.90" fill="none" stroke="#0000ff" stroke-width="0.85"/><rect x="652.93" y="38.89" width="3.50" height="3.90" fill="none" stroke="#0000ff" stroke-width="0.85"/><rect x="654.60" y="39.84" width="3.50" height="3.90" fill="none" stroke="#0000ff" stroke-width="0.85"/><rect x="656.27" y="40.92" width="3.50" height="3.90" fill="none" stroke="#0000ff" stroke-width="0.85"/><rect x="657.94" y="42.19" width="3.50" height="3.90" fill="none" stroke="#0000ff" stroke-width="0.85"/><rect x="659.61" y="43.81" width="3.50" height="3.90" fill="none" stroke="#0000ff" stroke-width="0.85"/><rect x="661.28" y="45.62" width="3.50" height="3.90" fill="none" stroke="#0000ff" stroke-width="0.85"/><rect x="662.95" y="47.44" width="3.50" height="3.90" fill="none" stroke="#0000ff" stroke-width="0.85"/><rect x="664.62" y="49.36" width="3.50" height="3.90" fill="none" stroke="#0000ff" stroke-width="0.85"/><rect x="666.29" y="51.60" width="3.50" height="3.90" fill="none" stroke="#0000ff" stroke-width="0.85"/><rect x="667.96" y="54.26" width="3.50" height="3.90" fill="none" stroke="#0000ff" stroke-width="0.85"/><rect x="669.63" y="56.95" width="3.50" height="3.90" fill="none" stroke="#0000ff" stroke-width="0.85"/><rect x="671.30" y="59.62" width="3.50" height="3.90" fill="none" stroke="#0000ff" stroke-width="0.85"/><rect x="672.97" y="62.69" width="3.50" height="3.90" fill="none" stroke="#0000ff" stroke-width="0.85"/><rect x="674.64" y="66.54" width="3.50" height="3.90" fill="none" stroke="#0000ff" stroke-width="0.85"/><rect x="676.31" y="71.04" width="3.50" height="3.90" fill="none" stroke="#0000ff" stroke-width="0.85"/><rect x="677.98" y="76.08" width="3.50" height="3.90" fill="none" stroke="#0000ff" stroke-width="0.85"/><rect x="679.65" y="81.45" width="3.50" height="3.90" fill="none" stroke="#0000ff" stroke-width="0.85"/><rect x="681.32" y="86.35" width="3.50" height="3.90" fill="none" stroke="#0000ff" stroke-width="0.85"/><rect x="682.99" y="90.57" width="3.50" height="3.90" fill="none" stroke="#0000ff" stroke-width="0.85"/><rect x="683.82" y="92.38" width="3.50" height="3.90" fill="none" stroke="#0000ff" stroke-width="0.85"/><rect x="684.66" y="94.06" width="3.50" height="3.90" fill="none" stroke="#0000ff" stroke-width="0.85"/><rect x="685.50" y="95.61" width="3.50" height="3.90" fill="none" stroke="#0000ff" stroke-width="0.85"/><rect x="686.33" y="96.98" width="3.50" height="3.90" fill="none" stroke="#0000ff" stroke-width="0.85"/><rect x="687.16" y="98.42" width="3.50" height="3.90" fill="none" stroke="#0000ff" stroke-width="0.85"/><rect x="688.00" y="100.01" width="3.50" height="3.90" fill="none" stroke="#0000ff" stroke-width="0.85"/><rect x="688.83" y="101.68" width="3.50" height="3.90" fill="none" stroke="#0000ff" stroke-width="0.85"/><rect x="689.67" y="103.39" width="3.50" height="3.90" fill="none" stroke="#0000ff" stroke-width="0.85"/><rect x="690.50" y="105.09" width="3.50" height="3.90" fill="none" stroke="#0000ff" stroke-width="0.85"/><rect x="691.34" y="106.75" width="3.50" height="3.90" fill="none" stroke="#0000ff" stroke-width="0.85"/><rect x="692.17" y="108.34" width="3.50" height="3.90" fill="none" stroke="#0000ff" stroke-width="0.85"/><rect x="693.01" y="109.90" width="3.50" height="3.90" fill="none" stroke="#0000ff" stroke-width="0.85"/><rect x="693.85" y="111.43" width="3.50" height="3.90" fill="none" stroke="#0000ff" stroke-width="0.85"/><rect x="694.68" y="112.95" width="3.50" height="3.90" fill="none" stroke="#0000ff" stroke-width="0.85"/><rect x="695.51" y="114.47" width="3.50" height="3.90" fill="none" stroke="#0000ff" stroke-width="0.85"/><rect x="696.35" y="115.99" width="3.50" height="3.90" fill="none" stroke="#0000ff" stroke-width="0.85"/><rect x="697.18" y="117.51" width="3.50" height="3.90" fill="none" stroke="#0000ff" stroke-width="0.85"/><rect x="698.02" y="119.04" width="3.50" height="3.90" fill="none" stroke="#0000ff" stroke-width="0.85"/><rect x="698.86" y="120.57" width="3.50" height="3.90" fill="none" stroke="#0000ff" stroke-width="0.85"/><rect x="699.69" y="122.09" width="3.50" height="3.90" fill="none" stroke="#0000ff" stroke-width="0.85"/><rect x="700.52" y="123.59" width="3.50" height="3.90" fill="none" stroke="#0000ff" stroke-width="0.85"/><rect x="701.36" y="125.07" width="3.50" height="3.90" fill="none" stroke="#0000ff" stroke-width="0.85"/><rect x="702.19" y="126.49" width="3.50" height="3.90" fill="none" stroke="#0000ff" stroke-width="0.85"/><rect x="703.03" y="127.85" width="3.50" height="3.90" fill="none" stroke="#0000ff" stroke-width="0.85"/><rect x="703.87" y="129.22" width="3.50" height="3.90" fill="none" stroke="#0000ff" stroke-width="0.85"/><rect x="704.70" y="130.63" width="3.50" height="3.90" fill="none" stroke="#0000ff" stroke-width="0.85"/><rect x="705.53" y="132.15" width="3.50" height="3.90" fill="none" stroke="#0000ff" stroke-width="0.85"/><rect x="706.37" y="133.77" width="3.50" height="3.90" fill="none" stroke="#0000ff" stroke-width="0.85"/><rect x="707.20" y="135.48" width="3.50" height="3.90" fill="none" stroke="#0000ff" stroke-width="0.85"/><rect x="708.04" y="137.26" width="3.50" height="3.90" fill="none" stroke="#0000ff" stroke-width="0.85"/><rect x="708.88" y="139.12" width="3.50" height="3.90" fill="none" stroke="#0000ff" stroke-width="0.85"/><rect x="709.71" y="141.04" width="3.50" height="3.90" fill="none" stroke="#0000ff" stroke-width="0.85"/><rect x="710.54" y="143.01" width="3.50" height="3.90" fill="none" stroke="#0000ff" stroke-width="0.85"/><rect x="711.38" y="145.08" width="3.50" height="3.90" fill="none" stroke="#0000ff" stroke-width="0.85"/><rect x="712.22" y="147.35" width="3.50" height="3.90" fill="none" stroke="#0000ff" stroke-width="0.85"/><rect x="713.05" y="149.99" width="3.50" height="3.90" fill="none" stroke="#0000ff" stroke-width="0.85"/><rect x="714.72" y="156.50" width="3.50" height="3.90" fill="none" stroke="#0000ff" stroke-width="0.85"/><rect x="716.39" y="164.19" width="3.50" height="3.90" fill="none" stroke="#0000ff" stroke-width="0.85"/><rect x="718.06" y="173.64" width="3.50" height="3.90" fill="none" stroke="#0000ff" stroke-width="0.85"/><rect x="719.73" y="184.39" width="3.50" height="3.90" fill="none" stroke="#0000ff" stroke-width="0.85"/><rect x="721.40" y="194.57" width="3.50" height="3.90" fill="none" stroke="#0000ff" stroke-width="0.85"/><rect x="723.07" y="204.22" width="3.50" height="3.90" fill="none" stroke="#0000ff" stroke-width="0.85"/><rect x="724.74" y="212.97" width="3.50" height="3.90" fill="none" stroke="#0000ff" stroke-width="0.85"/><rect x="726.41" y="221.16" width="3.50" height="3.90" fill="none" stroke="#0000ff" stroke-width="0.85"/><rect x="728.08" y="229.20" width="3.50" height="3.90" fill="none" stroke="#0000ff" stroke-width="0.85"/><rect x="729.75" y="236.75" width="3.50" height="3.90" fill="none" stroke="#0000ff" stroke-width="0.85"/><rect x="733.09" y="248.50" width="3.50" height="3.90" fill="none" stroke="#0000ff" stroke-width="0.85"/><rect x="736.43" y="256.75" width="3.50" height="3.90" fill="none" stroke="#0000ff" stroke-width="0.85"/><rect x="739.77" y="263.57" width="3.50" height="3.90" fill="none" stroke="#0000ff" stroke-width="0.85"/><rect x="743.11" y="267.75" width="3.50" height="3.90" fill="none" stroke="#0000ff" stroke-width="0.85"/><rect x="746.45" y="271.63" width="3.50" height="3.90" fill="none" stroke="#0000ff" stroke-width="0.85"/><rect x="749.79" y="274.74" width="3.50" height="3.90" fill="none" stroke="#0000ff" stroke-width="0.85"/><rect x="753.13" y="277.61" width="3.50" height="3.90" fill="none" stroke="#0000ff" stroke-width="0.85"/><rect x="756.47" y="279.88" width="3.50" height="3.90" fill="none" stroke="#0000ff" stroke-width="0.85"/><rect x="759.81" y="281.73" width="3.50" height="3.90" fill="none" stroke="#0000ff" stroke-width="0.85"/><rect x="763.15" y="283.33" width="3.50" height="3.90" fill="none" stroke="#0000ff" stroke-width="0.85"/><rect x="766.49" y="284.78" width="3.50" height="3.90" fill="none" stroke="#0000ff" stroke-width="0.85"/><rect x="769.83" y="285.83" width="3.50" height="3.90" fill="none" stroke="#0000ff" stroke-width="0.85"/><rect x="773.17" y="286.86" width="3.50" height="3.90" fill="none" stroke="#0000ff" stroke-width="0.85"/><rect x="776.51" y="287.49" width="3.50" height="3.90" fill="none" stroke="#0000ff" stroke-width="0.85"/><rect x="779.85" y="288.18" width="3.50" height="3.90" fill="none" stroke="#0000ff" stroke-width="0.85"/>
<path d="M641.32 35.51 L641.82 35.64 L642.32 35.79 L642.82 35.95 L643.32 36.13 L643.82 36.32 L644.32 36.52 L644.82 36.72 L645.32 36.93 L645.82 37.13 L646.32 37.32 L646.82 37.51 L647.32 37.69 L647.82 37.87 L648.32 38.06 L648.82 38.24 L649.32 38.43 L649.82 38.62 L650.32 38.82 L650.82 39.02 L651.32 39.23 L651.82 39.45 L652.32 39.68 L652.82 39.91 L653.32 40.15 L653.82 40.40 L654.32 40.65 L654.82 40.92 L655.32 41.19 L655.82 41.47 L656.32 41.77 L656.82 42.08 L657.32 42.39 L657.82 42.73 L658.32 43.08 L658.82 43.44 L659.32 43.83 L659.82 44.26 L660.32 44.72 L660.82 45.21 L661.32 45.72 L661.82 46.25 L662.32 46.79 L662.82 47.34 L663.32 47.89 L663.82 48.43 L664.32 48.97 L664.82 49.51 L665.32 50.06 L665.82 50.64 L666.32 51.23 L666.82 51.86 L667.32 52.53 L667.82 53.25 L668.32 54.03 L668.82 54.86 L669.32 55.72 L669.82 56.60 L670.32 57.48 L670.82 58.36 L671.32 59.24 L671.82 60.12 L672.32 61.02 L672.82 61.95 L673.32 62.92 L673.82 63.94 L674.32 65.02 L674.82 66.17 L675.32 67.41 L675.82 68.71 L676.32 70.09 L676.82 71.53 L677.32 73.02 L677.82 74.56 L678.32 76.22 L678.82 78.00 L679.32 79.86 L679.82 81.73 L680.32 83.58 L680.82 85.38 L681.32 87.19 L681.82 88.98 L682.32 90.70 L682.82 92.38 L683.32 94.08 L683.82 95.70 L684.32 97.13 L684.82 98.27 L685.32 99.20 L685.82 100.02 L686.32 100.78 L686.82 101.54 L687.32 102.36 L687.82 103.26 L688.32 104.18 L688.82 105.12 L689.32 106.08 L689.82 107.04 L690.32 108.02 L690.82 109.00 L691.32 109.98 L691.82 110.96 L692.32 111.93 L692.82 112.91 L693.32 113.90 L693.82 114.89 L694.32 115.89 L694.82 116.88 L695.32 117.87 L695.82 118.85 L696.32 119.82 L696.82 120.77 L697.32 121.71 L697.82 122.62 L698.32 123.51 L698.82 124.39 L699.32 125.26 L699.82 126.11 L700.32 126.97 L700.82 127.83 L701.32 128.69 L701.82 129.56 L702.32 130.45 L702.82 131.35 L703.32 132.28 L703.82 133.23 L704.32 134.20 L704.82 135.20 L705.32 136.21 L705.82 137.24 L706.32 138.30 L706.82 139.38 L707.32 140.48 L707.82 141.59 L708.32 142.73 L708.82 143.89 L709.32 145.09 L709.82 146.32 L710.32 147.59 L710.82 148.90 L711.32 150.24 L711.82 151.64 L712.32 153.12 L712.82 154.72 L713.32 156.48 L713.82 158.47 L714.32 160.64 L714.82 162.91 L715.32 165.22 L715.82 167.59 L716.32 170.03 L716.82 172.56 L717.32 175.16 L717.82 177.86 L718.32 180.65 L718.82 183.57 L719.32 186.67 L719.82 189.90 L720.32 193.21 L720.82 196.54 L721.32 199.84 L721.82 203.07 L722.32 206.29 L722.82 209.53 L723.32 212.77 L723.82 215.97 L724.32 219.13 L724.82 222.21 L725.32 225.22 L725.82 228.22 L726.32 231.21 L726.82 234.13 L727.32 236.93 L727.82 239.57 L728.32 241.99 L728.82 244.24 L729.32 246.38 L729.82 248.42 L730.32 250.35 L730.82 252.17 L731.32 253.88 L731.82 255.50 L732.32 257.04 L732.82 258.51 L733.32 259.91 L733.82 261.23 L734.32 262.47 L734.82 263.62 L735.32 264.70 L735.82 265.72 L736.32 266.68 L736.82 267.59 L737.32 268.47 L737.82 269.30 L738.32 270.11 L738.82 270.90 L739.32 271.66 L739.82 272.38 L740.32 273.08 L740.82 273.75 L741.32 274.40 L741.82 275.02 L742.32 275.62 L742.82 276.20 L743.32 276.76 L743.82 277.30 L744.32 277.82 L744.82 278.33 L745.32 278.82 L745.82 279.29 L746.32 279.75 L746.82 280.19 L747.32 280.62 L747.82 281.04 L748.32 281.45 L748.82 281.86 L749.32 282.26 L749.82 282.65 L750.32 283.03 L750.82 283.40 L751.32 283.75 L751.82 284.08 L752.32 284.40 L752.82 284.70 L753.32 285.00 L753.82 285.28 L754.32 285.55 L754.82 285.81 L754.88 285.84" fill="none" stroke="#ff00ff" stroke-width="0.75" stroke-dasharray="1.1 1.8"/>
<rect x="639.32" y="33.51" width="4.00" height="4.00" fill="#ff00ff"/><rect x="640.99" y="34.01" width="4.00" height="4.00" fill="#ff00ff"/><rect x="642.66" y="34.66" width="4.00" height="4.00" fill="#ff00ff"/><rect x="644.33" y="35.32" width="4.00" height="4.00" fill="#ff00ff"/><rect x="646.00" y="35.94" width="4.00" height="4.00" fill="#ff00ff"/><rect x="647.67" y="36.57" width="4.00" height="4.00" fill="#ff00ff"/><rect x="649.34" y="37.24" width="4.00" height="4.00" fill="#ff00ff"/><rect x="651.01" y="38.00" width="4.00" height="4.00" fill="#ff00ff"/><rect x="652.68" y="38.84" width="4.00" height="4.00" fill="#ff00ff"/><rect x="654.35" y="39.79" width="4.00" height="4.00" fill="#ff00ff"/><rect x="656.02" y="40.87" width="4.00" height="4.00" fill="#ff00ff"/><rect x="657.69" y="42.14" width="4.00" height="4.00" fill="#ff00ff"/><rect x="659.36" y="43.76" width="4.00" height="4.00" fill="#ff00ff"/><rect x="661.03" y="45.57" width="4.00" height="4.00" fill="#ff00ff"/><rect x="662.70" y="47.38" width="4.00" height="4.00" fill="#ff00ff"/><rect x="664.37" y="49.29" width="4.00" height="4.00" fill="#ff00ff"/><rect x="666.04" y="51.59" width="4.00" height="4.00" fill="#ff00ff"/><rect x="667.71" y="54.40" width="4.00" height="4.00" fill="#ff00ff"/><rect x="669.38" y="57.35" width="4.00" height="4.00" fill="#ff00ff"/><rect x="671.05" y="60.39" width="4.00" height="4.00" fill="#ff00ff"/><rect x="672.72" y="63.94" width="4.00" height="4.00" fill="#ff00ff"/><rect x="674.39" y="68.29" width="4.00" height="4.00" fill="#ff00ff"/><rect x="676.06" y="73.34" width="4.00" height="4.00" fill="#ff00ff"/><rect x="677.73" y="79.40" width="4.00" height="4.00" fill="#ff00ff"/><rect x="679.40" y="85.48" width="4.00" height="4.00" fill="#ff00ff"/><rect x="681.07" y="91.24" width="4.00" height="4.00" fill="#ff00ff"/><rect x="682.74" y="96.10" width="4.00" height="4.00" fill="#ff00ff"/><rect x="683.57" y="97.63" width="4.00" height="4.00" fill="#ff00ff"/><rect x="684.41" y="98.92" width="4.00" height="4.00" fill="#ff00ff"/><rect x="685.25" y="100.23" width="4.00" height="4.00" fill="#ff00ff"/><rect x="686.08" y="101.73" width="4.00" height="4.00" fill="#ff00ff"/><rect x="686.91" y="103.30" width="4.00" height="4.00" fill="#ff00ff"/><rect x="687.75" y="104.91" width="4.00" height="4.00" fill="#ff00ff"/><rect x="688.58" y="106.54" width="4.00" height="4.00" fill="#ff00ff"/><rect x="689.42" y="108.18" width="4.00" height="4.00" fill="#ff00ff"/><rect x="690.25" y="109.81" width="4.00" height="4.00" fill="#ff00ff"/><rect x="691.09" y="111.44" width="4.00" height="4.00" fill="#ff00ff"/><rect x="691.92" y="113.10" width="4.00" height="4.00" fill="#ff00ff"/><rect x="692.76" y="114.76" width="4.00" height="4.00" fill="#ff00ff"/><rect x="693.60" y="116.41" width="4.00" height="4.00" fill="#ff00ff"/><rect x="694.43" y="118.03" width="4.00" height="4.00" fill="#ff00ff"/><rect x="695.26" y="119.61" width="4.00" height="4.00" fill="#ff00ff"/><rect x="696.10" y="121.12" width="4.00" height="4.00" fill="#ff00ff"/><rect x="696.93" y="122.59" width="4.00" height="4.00" fill="#ff00ff"/><rect x="697.77" y="124.03" width="4.00" height="4.00" fill="#ff00ff"/><rect x="698.61" y="125.46" width="4.00" height="4.00" fill="#ff00ff"/><rect x="699.44" y="126.90" width="4.00" height="4.00" fill="#ff00ff"/><rect x="700.27" y="128.37" width="4.00" height="4.00" fill="#ff00ff"/><rect x="701.11" y="129.89" width="4.00" height="4.00" fill="#ff00ff"/><rect x="701.94" y="131.47" width="4.00" height="4.00" fill="#ff00ff"/><rect x="702.78" y="133.12" width="4.00" height="4.00" fill="#ff00ff"/><rect x="703.62" y="134.82" width="4.00" height="4.00" fill="#ff00ff"/><rect x="704.45" y="136.58" width="4.00" height="4.00" fill="#ff00ff"/><rect x="705.28" y="138.40" width="4.00" height="4.00" fill="#ff00ff"/><rect x="706.12" y="140.27" width="4.00" height="4.00" fill="#ff00ff"/><rect x="706.95" y="142.21" width="4.00" height="4.00" fill="#ff00ff"/><rect x="707.79" y="144.24" width="4.00" height="4.00" fill="#ff00ff"/><rect x="708.62" y="146.39" width="4.00" height="4.00" fill="#ff00ff"/><rect x="709.46" y="148.63" width="4.00" height="4.00" fill="#ff00ff"/><rect x="710.29" y="151.04" width="4.00" height="4.00" fill="#ff00ff"/><rect x="711.13" y="153.78" width="4.00" height="4.00" fill="#ff00ff"/><rect x="711.97" y="157.09" width="4.00" height="4.00" fill="#ff00ff"/><rect x="712.80" y="160.82" width="4.00" height="4.00" fill="#ff00ff"/><rect x="716.14" y="177.63" width="4.00" height="4.00" fill="#ff00ff"/><rect x="719.48" y="198.88" width="4.00" height="4.00" fill="#ff00ff"/><rect x="722.82" y="220.21" width="4.00" height="4.00" fill="#ff00ff"/><rect x="726.16" y="239.24" width="4.00" height="4.00" fill="#ff00ff"/><rect x="729.50" y="252.48" width="4.00" height="4.00" fill="#ff00ff"/><rect x="732.84" y="261.67" width="4.00" height="4.00" fill="#ff00ff"/><rect x="736.18" y="267.89" width="4.00" height="4.00" fill="#ff00ff"/><rect x="739.52" y="272.65" width="4.00" height="4.00" fill="#ff00ff"/><rect x="742.86" y="276.37" width="4.00" height="4.00" fill="#ff00ff"/><rect x="746.20" y="279.36" width="4.00" height="4.00" fill="#ff00ff"/><rect x="749.54" y="281.89" width="4.00" height="4.00" fill="#ff00ff"/><rect x="752.88" y="283.84" width="4.00" height="4.00" fill="#ff00ff"/>
<path d="M641.32 35.51 L641.82 35.64 L642.32 35.79 L642.82 35.95 L643.32 36.13 L643.82 36.32 L644.32 36.52 L644.82 36.72 L645.32 36.93 L645.82 37.13 L646.32 37.32 L646.82 37.51 L647.32 37.69 L647.82 37.87 L648.32 38.06 L648.82 38.24 L649.32 38.43 L649.82 38.62 L650.32 38.82 L650.82 39.02 L651.32 39.23 L651.82 39.45 L652.32 39.68 L652.82 39.91 L653.32 40.15 L653.82 40.40 L654.32 40.65 L654.82 40.92 L655.32 41.19 L655.82 41.47 L656.32 41.77 L656.82 42.08 L657.32 42.39 L657.82 42.73 L658.32 43.08 L658.82 43.44 L659.32 43.83 L659.82 44.26 L660.32 44.72 L660.82 45.21 L661.32 45.72 L661.82 46.25 L662.32 46.79 L662.82 47.34 L663.32 47.89 L663.82 48.43 L664.32 48.97 L664.82 49.51 L665.32 50.06 L665.82 50.63 L666.32 51.22 L666.82 51.85 L667.32 52.53 L667.82 53.27 L668.32 54.07 L668.82 54.93 L669.32 55.82 L669.82 56.74 L670.32 57.67 L670.82 58.59 L671.32 59.50 L671.82 60.43 L672.32 61.38 L672.82 62.37 L673.32 63.42 L673.82 64.54 L674.32 65.75 L674.82 67.11 L675.32 68.59 L675.82 70.15 L676.32 71.77 L676.82 73.40 L677.32 75.01 L677.82 76.68 L678.32 78.39 L678.82 80.12 L679.32 81.85 L679.82 83.56 L680.32 85.23 L680.82 86.88 L681.32 88.52 L681.82 90.14 L682.32 91.73 L682.82 93.31 L683.32 94.90 L683.82 96.43 L684.32 97.85 L684.82 99.16 L685.32 100.38 L685.82 101.55 L686.32 102.67 L686.82 103.76 L687.32 104.83 L687.82 105.87 L688.32 106.89 L688.82 107.90 L689.32 108.92 L689.82 109.93 L690.32 110.95 L690.82 111.98 L691.32 113.00 L691.82 114.02 L692.32 115.04 L692.82 116.05 L693.32 117.04 L693.82 118.03 L694.32 119.00 L694.82 119.95 L695.32 120.87 L695.82 121.77 L696.32 122.64 L696.82 123.50 L697.32 124.37 L697.82 125.25 L698.32 126.16 L698.82 127.10 L699.32 128.06 L699.82 129.03 L700.32 130.02 L700.82 131.03 L701.32 132.06 L701.82 133.11 L702.32 134.20 L702.82 135.34 L703.32 136.52 L703.82 137.72 L704.32 138.91 L704.82 140.09 L705.32 141.22 L705.82 142.31 L706.32 143.37 L706.82 144.44 L707.32 145.55 L707.82 146.71 L708.32 147.95 L708.82 149.33 L709.32 150.82 L709.82 152.38 L710.32 153.94 L710.82 155.46 L711.32 156.89 L711.82 158.30 L712.32 159.77 L712.82 161.37 L713.32 163.19 L713.82 165.23 L714.32 167.45 L714.82 169.81 L715.32 172.32 L715.82 175.04 L716.32 177.93 L716.82 181.00 L717.32 184.35 L717.82 187.71 L718.32 190.81 L718.82 193.55 L719.32 196.30 L719.82 199.43 L720.32 203.52 L720.82 208.46 L721.32 213.34 L721.82 217.45 L722.32 221.16 L722.82 224.72 L723.32 228.31 L723.82 231.90 L724.32 235.28 L724.82 238.27 L725.32 241.06 L725.82 243.71 L726.32 246.23 L726.82 248.60 L727.32 250.82 L727.82 252.89 L728.32 254.82 L728.82 256.66 L729.32 258.40 L729.82 260.04 L730.32 261.57 L730.82 262.97 L731.32 264.25 L731.82 265.41 L732.32 266.48 L732.82 267.48 L733.32 268.42 L733.82 269.32 L734.32 270.20 L734.82 271.06 L735.32 271.91 L735.82 272.73 L736.32 273.52 L736.82 274.28 L737.32 275.04 L737.82 275.78 L738.32 276.53 L738.82 277.29 L739.32 278.06 L739.82 278.83 L740.32 279.60 L740.82 280.32 L741.32 281.01 L741.82 281.62 L742.32 282.19 L742.82 282.72 L743.32 283.22 L743.82 283.69 L744.32 284.15 L744.82 284.58 L745.32 285.00 L745.82 285.41 L746.32 285.80 L746.82 286.18 L747.32 286.54 L747.82 286.87 L748.32 287.19 L748.82 287.49 L749.32 287.77 L749.82 288.04 L750.32 288.30 L750.82 288.53 L751.32 288.75 L751.82 288.95 L752.32 289.13 L752.82 289.30 L753.32 289.46 L753.82 289.61 L754.32 289.75 L754.82 289.86 L754.88 289.88" fill="none" stroke="#000000" stroke-width="0.60" stroke-dasharray="6.9 2.3 1.1 2.3"/>
<path d="M641.32 33.77 L643.07 36.67 L639.57 36.67 Z" fill="#000" fill-opacity="0.3" stroke="#000000" stroke-width="0.85"/><path d="M642.99 34.27 L644.74 37.17 L641.24 37.17 Z" fill="#000" fill-opacity="0.3" stroke="#000000" stroke-width="0.85"/><path d="M644.66 34.92 L646.41 37.82 L642.91 37.82 Z" fill="#000" fill-opacity="0.3" stroke="#000000" stroke-width="0.85"/><path d="M646.33 35.58 L648.08 38.48 L644.58 38.48 Z" fill="#000" fill-opacity="0.3" stroke="#000000" stroke-width="0.85"/><path d="M648.00 36.20 L649.75 39.10 L646.25 39.10 Z" fill="#000" fill-opacity="0.3" stroke="#000000" stroke-width="0.85"/><path d="M649.67 36.83 L651.42 39.73 L647.92 39.73 Z" fill="#000" fill-opacity="0.3" stroke="#000000" stroke-width="0.85"/><path d="M651.34 37.50 L653.09 40.40 L649.59 40.40 Z" fill="#000" fill-opacity="0.3" stroke="#000000" stroke-width="0.85"/><path d="M653.01 38.26 L654.76 41.16 L651.26 41.16 Z" fill="#000" fill-opacity="0.3" stroke="#000000" stroke-width="0.85"/><path d="M654.68 39.10 L656.43 42.00 L652.93 42.00 Z" fill="#000" fill-opacity="0.3" stroke="#000000" stroke-width="0.85"/><path d="M656.35 40.05 L658.10 42.95 L654.60 42.95 Z" fill="#000" fill-opacity="0.3" stroke="#000000" stroke-width="0.85"/><path d="M658.02 41.13 L659.77 44.03 L656.27 44.03 Z" fill="#000" fill-opacity="0.3" stroke="#000000" stroke-width="0.85"/><path d="M659.69 42.40 L661.44 45.30 L657.94 45.30 Z" fill="#000" fill-opacity="0.3" stroke="#000000" stroke-width="0.85"/><path d="M661.36 44.02 L663.11 46.92 L659.61 46.92 Z" fill="#000" fill-opacity="0.3" stroke="#000000" stroke-width="0.85"/><path d="M663.03 45.83 L664.78 48.73 L661.28 48.73 Z" fill="#000" fill-opacity="0.3" stroke="#000000" stroke-width="0.85"/><path d="M664.70 47.64 L666.45 50.54 L662.95 50.54 Z" fill="#000" fill-opacity="0.3" stroke="#000000" stroke-width="0.85"/><path d="M666.37 49.54 L668.12 52.44 L664.62 52.44 Z" fill="#000" fill-opacity="0.3" stroke="#000000" stroke-width="0.85"/><path d="M668.04 51.87 L669.79 54.77 L666.29 54.77 Z" fill="#000" fill-opacity="0.3" stroke="#000000" stroke-width="0.85"/><path d="M669.71 54.80 L671.46 57.70 L667.96 57.70 Z" fill="#000" fill-opacity="0.3" stroke="#000000" stroke-width="0.85"/><path d="M671.38 57.87 L673.13 60.77 L669.63 60.77 Z" fill="#000" fill-opacity="0.3" stroke="#000000" stroke-width="0.85"/><path d="M673.05 61.10 L674.80 64.00 L671.30 64.00 Z" fill="#000" fill-opacity="0.3" stroke="#000000" stroke-width="0.85"/><path d="M674.72 65.09 L676.47 67.99 L672.97 67.99 Z" fill="#000" fill-opacity="0.3" stroke="#000000" stroke-width="0.85"/><path d="M676.39 70.26 L678.14 73.16 L674.64 73.16 Z" fill="#000" fill-opacity="0.3" stroke="#000000" stroke-width="0.85"/><path d="M678.06 75.75 L679.81 78.65 L676.31 78.65 Z" fill="#000" fill-opacity="0.3" stroke="#000000" stroke-width="0.85"/><path d="M679.73 81.52 L681.48 84.42 L677.98 84.42 Z" fill="#000" fill-opacity="0.3" stroke="#000000" stroke-width="0.85"/><path d="M681.40 87.04 L683.15 89.94 L679.65 89.94 Z" fill="#000" fill-opacity="0.3" stroke="#000000" stroke-width="0.85"/><path d="M683.07 92.37 L684.82 95.27 L681.32 95.27 Z" fill="#000" fill-opacity="0.3" stroke="#000000" stroke-width="0.85"/><path d="M684.74 97.22 L686.49 100.12 L682.99 100.12 Z" fill="#000" fill-opacity="0.3" stroke="#000000" stroke-width="0.85"/><path d="M685.57 99.24 L687.32 102.14 L683.82 102.14 Z" fill="#000" fill-opacity="0.3" stroke="#000000" stroke-width="0.85"/><path d="M686.41 101.13 L688.16 104.03 L684.66 104.03 Z" fill="#000" fill-opacity="0.3" stroke="#000000" stroke-width="0.85"/><path d="M687.25 102.93 L689.00 105.83 L685.50 105.83 Z" fill="#000" fill-opacity="0.3" stroke="#000000" stroke-width="0.85"/><path d="M688.08 104.66 L689.83 107.56 L686.33 107.56 Z" fill="#000" fill-opacity="0.3" stroke="#000000" stroke-width="0.85"/><path d="M688.91 106.36 L690.66 109.26 L687.16 109.26 Z" fill="#000" fill-opacity="0.3" stroke="#000000" stroke-width="0.85"/><path d="M689.75 108.05 L691.50 110.95 L688.00 110.95 Z" fill="#000" fill-opacity="0.3" stroke="#000000" stroke-width="0.85"/><path d="M690.58 109.75 L692.33 112.65 L688.83 112.65 Z" fill="#000" fill-opacity="0.3" stroke="#000000" stroke-width="0.85"/><path d="M691.42 111.46 L693.17 114.36 L689.67 114.36 Z" fill="#000" fill-opacity="0.3" stroke="#000000" stroke-width="0.85"/><path d="M692.25 113.17 L694.00 116.07 L690.50 116.07 Z" fill="#000" fill-opacity="0.3" stroke="#000000" stroke-width="0.85"/><path d="M693.09 114.85 L694.84 117.75 L691.34 117.75 Z" fill="#000" fill-opacity="0.3" stroke="#000000" stroke-width="0.85"/><path d="M693.92 116.49 L695.67 119.39 L692.17 119.39 Z" fill="#000" fill-opacity="0.3" stroke="#000000" stroke-width="0.85"/><path d="M694.76 118.10 L696.51 121.00 L693.01 121.00 Z" fill="#000" fill-opacity="0.3" stroke="#000000" stroke-width="0.85"/><path d="M695.60 119.63 L697.35 122.53 L693.85 122.53 Z" fill="#000" fill-opacity="0.3" stroke="#000000" stroke-width="0.85"/><path d="M696.43 121.09 L698.18 123.99 L694.68 123.99 Z" fill="#000" fill-opacity="0.3" stroke="#000000" stroke-width="0.85"/><path d="M697.26 122.54 L699.01 125.44 L695.51 125.44 Z" fill="#000" fill-opacity="0.3" stroke="#000000" stroke-width="0.85"/><path d="M698.10 124.02 L699.85 126.92 L696.35 126.92 Z" fill="#000" fill-opacity="0.3" stroke="#000000" stroke-width="0.85"/><path d="M698.93 125.58 L700.68 128.48 L697.18 128.48 Z" fill="#000" fill-opacity="0.3" stroke="#000000" stroke-width="0.85"/><path d="M699.77 127.19 L701.52 130.09 L698.02 130.09 Z" fill="#000" fill-opacity="0.3" stroke="#000000" stroke-width="0.85"/><path d="M700.61 128.85 L702.36 131.75 L698.86 131.75 Z" fill="#000" fill-opacity="0.3" stroke="#000000" stroke-width="0.85"/><path d="M701.44 130.57 L703.19 133.47 L699.69 133.47 Z" fill="#000" fill-opacity="0.3" stroke="#000000" stroke-width="0.85"/><path d="M702.27 132.36 L704.02 135.26 L700.52 135.26 Z" fill="#000" fill-opacity="0.3" stroke="#000000" stroke-width="0.85"/><path d="M703.11 134.28 L704.86 137.18 L701.36 137.18 Z" fill="#000" fill-opacity="0.3" stroke="#000000" stroke-width="0.85"/><path d="M703.94 136.28 L705.69 139.18 L702.19 139.18 Z" fill="#000" fill-opacity="0.3" stroke="#000000" stroke-width="0.85"/><path d="M704.78 138.25 L706.53 141.15 L703.03 141.15 Z" fill="#000" fill-opacity="0.3" stroke="#000000" stroke-width="0.85"/><path d="M705.62 140.13 L707.37 143.03 L703.87 143.03 Z" fill="#000" fill-opacity="0.3" stroke="#000000" stroke-width="0.85"/><path d="M706.45 141.91 L708.20 144.81 L704.70 144.81 Z" fill="#000" fill-opacity="0.3" stroke="#000000" stroke-width="0.85"/><path d="M707.28 143.73 L709.03 146.63 L705.53 146.63 Z" fill="#000" fill-opacity="0.3" stroke="#000000" stroke-width="0.85"/><path d="M708.12 145.70 L709.87 148.60 L706.37 148.60 Z" fill="#000" fill-opacity="0.3" stroke="#000000" stroke-width="0.85"/><path d="M708.95 147.98 L710.70 150.88 L707.20 150.88 Z" fill="#000" fill-opacity="0.3" stroke="#000000" stroke-width="0.85"/><path d="M709.79 150.54 L711.54 153.44 L708.04 153.44 Z" fill="#000" fill-opacity="0.3" stroke="#000000" stroke-width="0.85"/><path d="M710.62 153.13 L712.38 156.03 L708.88 156.03 Z" fill="#000" fill-opacity="0.3" stroke="#000000" stroke-width="0.85"/><path d="M711.46 155.55 L713.21 158.45 L709.71 158.45 Z" fill="#000" fill-opacity="0.3" stroke="#000000" stroke-width="0.85"/><path d="M712.29 157.96 L714.04 160.86 L710.54 160.86 Z" fill="#000" fill-opacity="0.3" stroke="#000000" stroke-width="0.85"/><path d="M713.13 160.73 L714.88 163.63 L711.38 163.63 Z" fill="#000" fill-opacity="0.3" stroke="#000000" stroke-width="0.85"/><path d="M713.97 164.12 L715.72 167.02 L712.22 167.02 Z" fill="#000" fill-opacity="0.3" stroke="#000000" stroke-width="0.85"/><path d="M714.80 167.98 L716.55 170.88 L713.05 170.88 Z" fill="#000" fill-opacity="0.3" stroke="#000000" stroke-width="0.85"/><path d="M718.14 188.01 L719.89 190.91 L716.39 190.91 Z" fill="#000" fill-opacity="0.3" stroke="#000000" stroke-width="0.85"/><path d="M721.48 212.99 L723.23 215.89 L719.73 215.89 Z" fill="#000" fill-opacity="0.3" stroke="#000000" stroke-width="0.85"/><path d="M724.82 236.53 L726.57 239.43 L723.07 239.43 Z" fill="#000" fill-opacity="0.3" stroke="#000000" stroke-width="0.85"/><path d="M728.16 252.48 L729.91 255.38 L726.41 255.38 Z" fill="#000" fill-opacity="0.3" stroke="#000000" stroke-width="0.85"/><path d="M731.50 262.94 L733.25 265.84 L729.75 265.84 Z" fill="#000" fill-opacity="0.3" stroke="#000000" stroke-width="0.85"/><path d="M734.84 269.36 L736.59 272.26 L733.09 272.26 Z" fill="#000" fill-opacity="0.3" stroke="#000000" stroke-width="0.85"/><path d="M738.18 274.58 L739.93 277.48 L736.43 277.48 Z" fill="#000" fill-opacity="0.3" stroke="#000000" stroke-width="0.85"/><path d="M741.52 279.52 L743.27 282.42 L739.77 282.42 Z" fill="#000" fill-opacity="0.3" stroke="#000000" stroke-width="0.85"/><path d="M744.86 282.87 L746.61 285.77 L743.11 285.77 Z" fill="#000" fill-opacity="0.3" stroke="#000000" stroke-width="0.85"/><path d="M748.20 285.38 L749.95 288.28 L746.45 288.28 Z" fill="#000" fill-opacity="0.3" stroke="#000000" stroke-width="0.85"/><path d="M751.54 287.10 L753.29 290.00 L749.79 290.00 Z" fill="#000" fill-opacity="0.3" stroke="#000000" stroke-width="0.85"/><path d="M754.88 288.14 L756.63 291.04 L753.13 291.04 Z" fill="#000" fill-opacity="0.3" stroke="#000000" stroke-width="0.85"/>
<rect x="597.90" y="11.60" width="217.10" height="299.60" fill="none" stroke="#000" stroke-width="1.4"/>
<path d="M648.00 311.20 V304.00 M648.00 11.60 V18.80 M731.50 311.20 V304.00 M731.50 11.60 V18.80 M597.90 61.40 H605.10 M815.00 61.40 H807.80 M597.90 123.90 H605.10 M815.00 123.90 H807.80 M597.90 186.40 H605.10 M815.00 186.40 H807.80 M597.90 248.80 H605.10 M815.00 248.80 H807.80" fill="none" stroke="#000" stroke-width="0.9"/>
<path d="M653.90 219.50 H696.80" fill="none" stroke="#ff0000" stroke-width="0.65"/>
<circle cx="675.35" cy="219.50" r="1.85" fill="none" stroke="#ff0000" stroke-width="0.9"/>
<path d="M653.90 235.85 H696.80" fill="none" stroke="#00ff00" stroke-width="0.70" stroke-dasharray="4.6 2.3"/>
<circle cx="675.35" cy="235.85" r="2.15" fill="#00ff00"/>
<path d="M653.90 252.20 H696.80" fill="none" stroke="#0000ff" stroke-width="0.80" stroke-dasharray="2.5 3.2"/>
<rect x="673.60" y="250.25" width="3.50" height="3.90" fill="none" stroke="#0000ff" stroke-width="0.85"/>
<path d="M653.90 268.55 H696.80" fill="none" stroke="#ff00ff" stroke-width="0.75" stroke-dasharray="1.1 1.8"/>
<rect x="673.35" y="266.55" width="4.00" height="4.00" fill="#ff00ff"/>
<path d="M653.90 284.90 H696.80" fill="none" stroke="#000" stroke-width="0.60" stroke-dasharray="6.9 2.3 1.1 2.3"/>
<path d="M675.35 283.16 L677.10 286.06 L673.60 286.06 Z" fill="#000" fill-opacity="0.3" stroke="#000000" stroke-width="0.85"/>
</g>
<g style="opacity:0.999">
<text class="s" transform="translate(32.10 48.35) scale(1.035 1)" text-anchor="end">0.6</text>
<text class="s" transform="translate(32.10 115.05) scale(1.035 1)" text-anchor="end">0.45</text>
<text class="s" transform="translate(32.10 181.65) scale(1.035 1)" text-anchor="end">0.3</text>
<text class="s" transform="translate(32.10 248.35) scale(1.035 1)" text-anchor="end">0.15</text>
<text class="s" transform="translate(32.10 314.95) scale(1.035 1)" text-anchor="end">0</text>
<text class="s" transform="translate(94.34 333.30) scale(1.035 1)" text-anchor="middle">0.5</text>
<text class="s" transform="translate(178.07 333.30) scale(1.035 1)" text-anchor="middle">1</text>
<text class="s" transform="translate(261.80 333.30) scale(1.035 1)" text-anchor="middle">1.5</text>
<text class="i" transform="translate(12.60 17.80) scale(1.080 1)" font-size="24.0">C</text>
<text class="r" x="213.00" y="39.80" font-size="19.6">(a)</text>
<g transform="translate(0.00 0.00)">
<text class="i" font-size="21.6" transform="translate(128.6 357.6) scale(1.28 1)">T</text>
<path d="M146.3 362.4 L153.7 341.6" stroke="#000" stroke-width="0.9" fill="none"/>
<text class="i" font-size="21.6" transform="translate(155.6 357.6) scale(1.22 1)">J</text>
<text class="r" font-size="14.4" x="167.6" y="360.7">1</text>
</g>
<text class="s" transform="translate(163.90 225.25) scale(1.035 1)" text-anchor="end">12</text>
<text class="s" transform="translate(136.70 225.25) scale(1.035 1)" text-anchor="end">L</text>
<text class="s" transform="translate(142.30 225.25) scale(1.380 1)" text-anchor="middle">=</text>
<text class="s" transform="translate(163.90 241.60) scale(1.035 1)" text-anchor="end">24</text>
<text class="s" transform="translate(163.90 257.95) scale(1.035 1)" text-anchor="end">48</text>
<text class="s" transform="translate(163.90 274.30) scale(1.035 1)" text-anchor="end">60</text>
<text class="s" transform="translate(163.90 290.65) scale(1.035 1)" text-anchor="end">72</text>
<text class="s" transform="translate(309.50 44.75) scale(1.035 1)" text-anchor="end">1</text>
<text class="s" transform="translate(309.50 112.85) scale(1.035 1)" text-anchor="end">0.75</text>
<text class="s" transform="translate(309.50 180.95) scale(1.035 1)" text-anchor="end">0.5</text>
<text class="s" transform="translate(309.50 248.95) scale(1.035 1)" text-anchor="end">0.25</text>
<text class="s" transform="translate(309.50 316.95) scale(1.035 1)" text-anchor="end">0</text>
<text class="s" transform="translate(371.62 333.30) scale(1.035 1)" text-anchor="middle">0.5</text>
<text class="s" transform="translate(455.16 333.30) scale(1.035 1)" text-anchor="middle">1</text>
<text class="s" transform="translate(538.70 333.30) scale(1.035 1)" text-anchor="middle">1.5</text>
<text class="i" transform="translate(284.30 15.90) scale(1.040 1)" font-size="24.0">Q</text>
<text class="r" x="492.50" y="39.80" font-size="19.6">(b)</text>
<g transform="translate(288.65 0.40)">
<text class="i" font-size="21.6" transform="translate(128.6 357.6) scale(1.28 1)">T</text>
<path d="M146.3 362.4 L153.7 341.6" stroke="#000" stroke-width="0.9" fill="none"/>
<text class="i" font-size="21.6" transform="translate(155.6 357.6) scale(1.22 1)">J</text>
<text class="r" font-size="14.4" x="167.6" y="360.7">1</text>
</g>
<text class="s" transform="translate(449.30 107.15) scale(1.035 1)" text-anchor="end">12</text>
<text class="s" transform="translate(422.10 107.15) scale(1.035 1)" text-anchor="end">L</text>
<text class="s" transform="translate(427.70 107.15) scale(1.380 1)" text-anchor="middle">=</text>
<text class="s" transform="translate(449.30 123.50) scale(1.035 1)" text-anchor="end">24</text>
<text class="s" transform="translate(449.30 139.85) scale(1.035 1)" text-anchor="end">48</text>
<text class="s" transform="translate(449.30 156.20) scale(1.035 1)" text-anchor="end">60</text>
<text class="s" transform="translate(449.30 172.55) scale(1.035 1)" text-anchor="end">72</text>
<text class="s" transform="translate(588.50 67.15) scale(1.035 1)" text-anchor="end">0.2</text>
<text class="s" transform="translate(588.50 129.65) scale(1.035 1)" text-anchor="end">0.15</text>
<text class="s" transform="translate(588.50 192.15) scale(1.035 1)" text-anchor="end">0.1</text>
<text class="s" transform="translate(588.50 254.55) scale(1.035 1)" text-anchor="end">0.05</text>
<text class="s" transform="translate(588.50 316.95) scale(1.035 1)" text-anchor="end">0</text>
<text class="s" transform="translate(650.60 333.30) scale(1.035 1)" text-anchor="middle">0.5</text>
<text class="s" transform="translate(734.10 333.30) scale(1.035 1)" text-anchor="middle">1</text>
<text class="s" transform="translate(817.60 333.30) scale(1.035 1)" text-anchor="middle">1.5</text>
<text class="i" transform="translate(566.50 17.80) scale(1.100 1)" font-size="23.0">M</text>
<text class="r" x="771.20" y="39.80" font-size="19.6">(c)</text>
<g transform="translate(567.35 -0.30)">
<text class="i" font-size="21.6" transform="translate(128.6 357.6) scale(1.28 1)">T</text>
<path d="M146.3 362.4 L153.7 341.6" stroke="#000" stroke-width="0.9" fill="none"/>
<text class="i" font-size="21.6" transform="translate(155.6 357.6) scale(1.22 1)">J</text>
<text class="r" font-size="14.4" x="167.6" y="360.7">1</text>
</g>
<text class="s" transform="translate(644.50 225.25) scale(1.035 1)" text-anchor="end">12</text>
<text class="s" transform="translate(617.30 225.25) scale(1.035 1)" text-anchor="end">L</text>
<text class="s" transform="translate(622.90 225.25) scale(1.380 1)" text-anchor="middle">=</text>
<text class="s" transform="translate(644.50 241.60) scale(1.035 1)" text-anchor="end">24</text>
<text class="s" transform="translate(644.50 257.95) scale(1.035 1)" text-anchor="end">48</text>
<text class="s" transform="translate(644.50 274.30) scale(1.035 1)" text-anchor="end">60</text>
<text class="s" transform="translate(644.50 290.65) scale(1.035 1)" text-anchor="end">72</text>
</g>
</svg>
</body></html>
